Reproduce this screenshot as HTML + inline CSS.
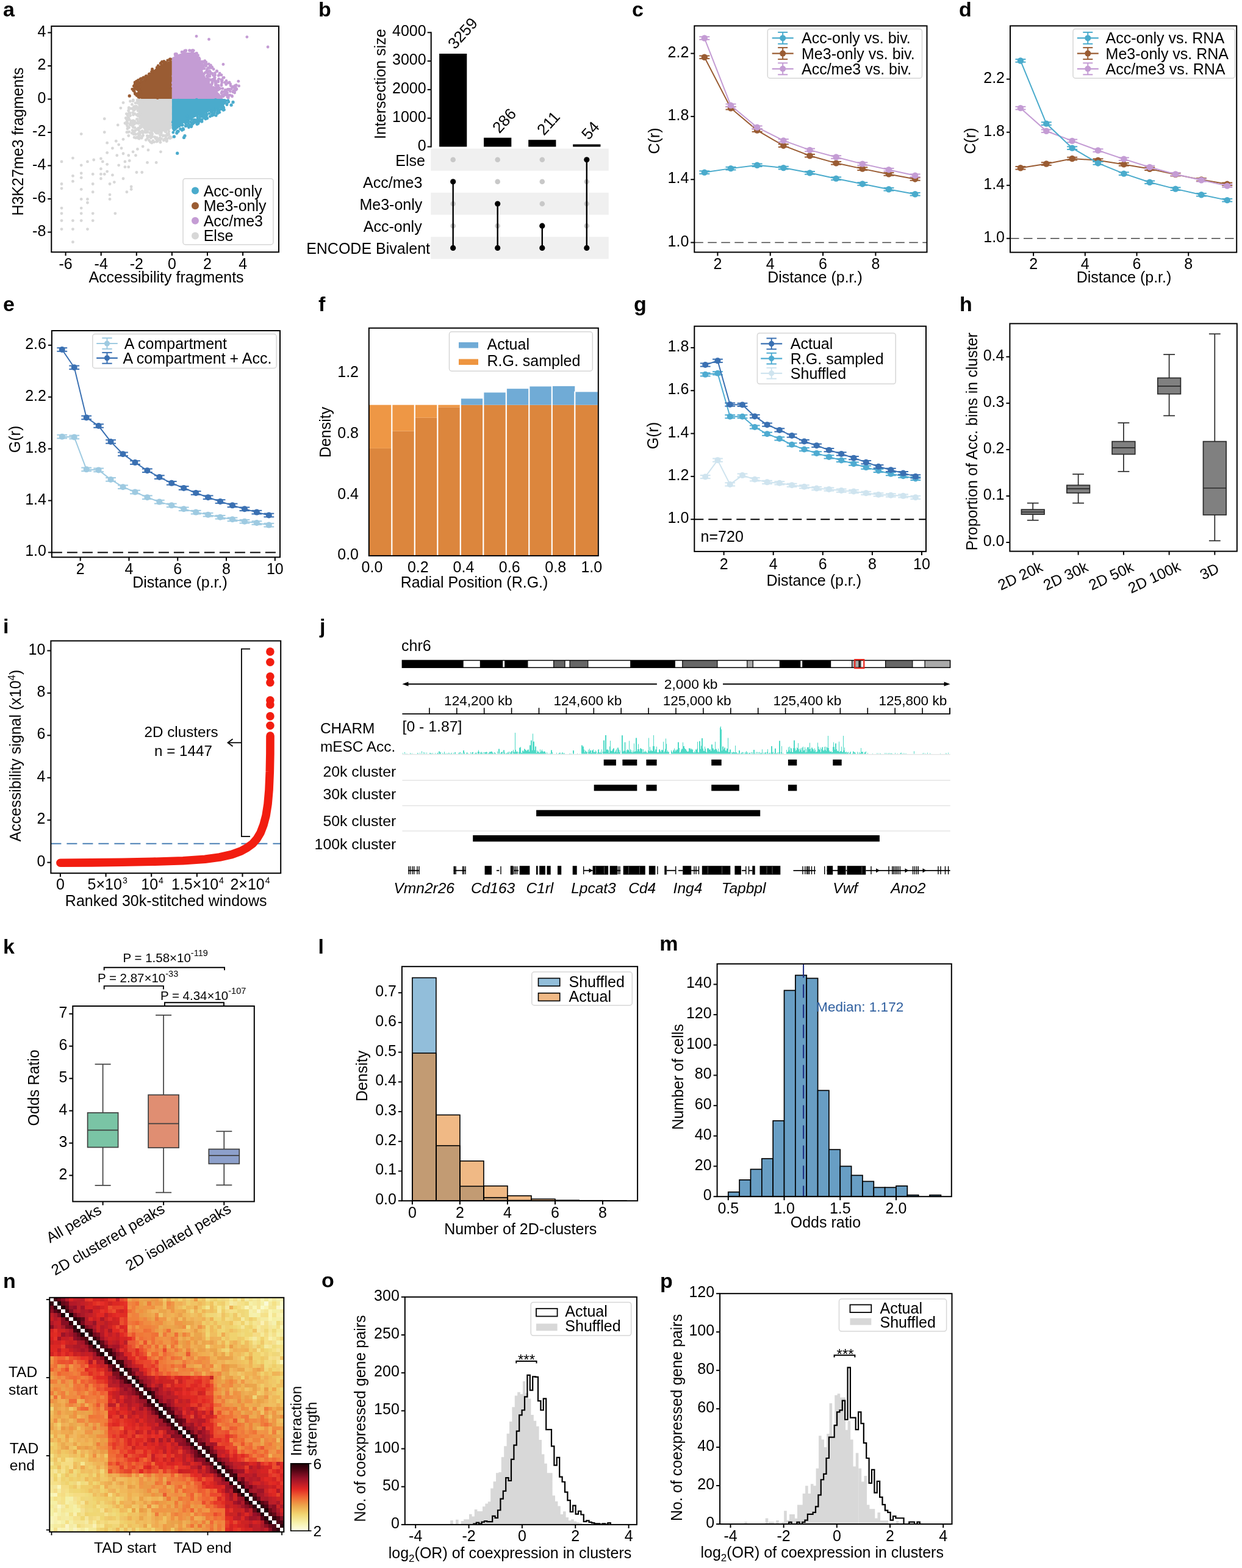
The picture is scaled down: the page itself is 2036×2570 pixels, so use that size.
<!DOCTYPE html>
<html><head><meta charset="utf-8"><title>Figure</title>
<style>
html,body{margin:0;padding:0;background:#fff;}
svg{display:block;}
text{font-family:'Liberation Sans', Arial, Helvetica, sans-serif;font-size:25px;fill:#000;}
</style></head><body>
<svg xmlns="http://www.w3.org/2000/svg" width="2036" height="2570" viewBox="0 0 2036 2570">
<rect width="2036" height="2570" fill="#fff"/>
<text x="5" y="27" style="font-size:34px;font-weight:bold">a</text>
<polygon points="281.87,161.96 226.37,161.96 226.37,180.51 227.77,201.58 236.2,212.83 258.68,217.32 275.55,214.23 281.87,210.02" fill="#d7d7d7"/>
<g fill="#d7d7d7"><circle cx="223.51" cy="201.5" r="2.4"/><circle cx="241.3" cy="222.72" r="2.4"/><circle cx="253.91" cy="225.02" r="2.4"/><circle cx="276.94" cy="225.8" r="2.4"/><circle cx="208.68" cy="206.6" r="2.4"/><circle cx="238.31" cy="214.29" r="2.4"/><circle cx="257.06" cy="231.94" r="2.4"/><circle cx="234.17" cy="218.06" r="2.4"/><circle cx="248.88" cy="215.37" r="2.4"/><circle cx="222.33" cy="220.35" r="2.4"/><circle cx="213.09" cy="185.35" r="2.4"/><circle cx="214.55" cy="200.44" r="2.4"/><circle cx="267.07" cy="222.87" r="2.4"/><circle cx="226.06" cy="187.12" r="2.4"/><circle cx="227.27" cy="220.82" r="2.4"/><circle cx="228.26" cy="210.12" r="2.4"/><circle cx="267.02" cy="221.78" r="2.4"/><circle cx="253.43" cy="224.62" r="2.4"/><circle cx="226.07" cy="181.47" r="2.4"/><circle cx="210.77" cy="192.83" r="2.4"/><circle cx="272.65" cy="229.99" r="2.4"/><circle cx="274.05" cy="219.42" r="2.4"/><circle cx="213.19" cy="204.66" r="2.4"/><circle cx="216.28" cy="218.21" r="2.4"/><circle cx="249.64" cy="219.98" r="2.4"/><circle cx="262.65" cy="229.85" r="2.4"/><circle cx="236.91" cy="216.26" r="2.4"/><circle cx="258.22" cy="231.22" r="2.4"/><circle cx="225.75" cy="177.77" r="2.4"/><circle cx="218.48" cy="188.15" r="2.4"/><circle cx="278.71" cy="223.99" r="2.4"/><circle cx="219.81" cy="180.75" r="2.4"/><circle cx="224.82" cy="224.8" r="2.4"/><circle cx="237.71" cy="214.92" r="2.4"/><circle cx="264.44" cy="216.98" r="2.4"/><circle cx="208.52" cy="198.63" r="2.4"/><circle cx="246.76" cy="218.02" r="2.4"/><circle cx="226" cy="169.2" r="2.4"/><circle cx="219.45" cy="175.7" r="2.4"/><circle cx="273.54" cy="230.92" r="2.4"/><circle cx="228.22" cy="224.44" r="2.4"/><circle cx="220.1" cy="200.43" r="2.4"/><circle cx="278.73" cy="226.76" r="2.4"/><circle cx="209.17" cy="188.11" r="2.4"/><circle cx="238.76" cy="216.94" r="2.4"/><circle cx="211.26" cy="176.51" r="2.4"/><circle cx="240.85" cy="216.96" r="2.4"/><circle cx="221.32" cy="174.37" r="2.4"/><circle cx="218.18" cy="163.96" r="2.4"/><circle cx="218.17" cy="197.58" r="2.4"/><circle cx="207.01" cy="194.51" r="2.4"/><circle cx="222.06" cy="168.81" r="2.4"/><circle cx="217.91" cy="207.18" r="2.4"/><circle cx="226.36" cy="219.19" r="2.4"/><circle cx="218.34" cy="164.62" r="2.4"/><circle cx="255.4" cy="227.36" r="2.4"/><circle cx="227.76" cy="223.7" r="2.4"/><circle cx="257.37" cy="229.41" r="2.4"/><circle cx="217.08" cy="213.59" r="2.4"/><circle cx="213.33" cy="203.29" r="2.4"/><circle cx="211.49" cy="209.12" r="2.4"/><circle cx="219.7" cy="174.86" r="2.4"/><circle cx="211.86" cy="195.76" r="2.4"/><circle cx="211.74" cy="177.79" r="2.4"/><circle cx="217.65" cy="184.62" r="2.4"/><circle cx="232.84" cy="223.9" r="2.4"/><circle cx="215.36" cy="200.52" r="2.4"/><circle cx="217.98" cy="165.61" r="2.4"/><circle cx="206.3" cy="193.37" r="2.4"/><circle cx="209.22" cy="201.63" r="2.4"/><circle cx="225.23" cy="165.16" r="2.4"/><circle cx="275.17" cy="220.7" r="2.4"/><circle cx="273.98" cy="227.79" r="2.4"/><circle cx="207.63" cy="203.7" r="2.4"/><circle cx="259.62" cy="228.18" r="2.4"/><circle cx="234.64" cy="222.12" r="2.4"/><circle cx="211.36" cy="178.65" r="2.4"/><circle cx="210.6" cy="181.4" r="2.4"/><circle cx="225.8" cy="201.63" r="2.4"/><circle cx="216.41" cy="171.18" r="2.4"/><circle cx="246.22" cy="222.47" r="2.4"/><circle cx="225.65" cy="176.66" r="2.4"/><circle cx="245.51" cy="217.61" r="2.4"/><circle cx="216.5" cy="205.58" r="2.4"/><circle cx="271.32" cy="222.63" r="2.4"/><circle cx="231.41" cy="208.84" r="2.4"/><circle cx="247.31" cy="226.17" r="2.4"/><circle cx="216.49" cy="177.94" r="2.4"/><circle cx="211.54" cy="185.25" r="2.4"/><circle cx="269.44" cy="228.29" r="2.4"/><circle cx="241.69" cy="226.64" r="2.4"/><circle cx="226.29" cy="190.2" r="2.4"/><circle cx="273.78" cy="222" r="2.4"/><circle cx="228.15" cy="227.33" r="2.4"/><circle cx="270.96" cy="215.57" r="2.4"/><circle cx="209.88" cy="193.4" r="2.4"/><circle cx="220.14" cy="225.26" r="2.4"/><circle cx="268.3" cy="230.07" r="2.4"/><circle cx="221.52" cy="175.51" r="2.4"/><circle cx="270.49" cy="222.47" r="2.4"/><circle cx="218.89" cy="180.17" r="2.4"/><circle cx="213.8" cy="177.97" r="2.4"/><circle cx="218.75" cy="216.52" r="2.4"/><circle cx="213.48" cy="165.94" r="2.4"/><circle cx="220.73" cy="198.65" r="2.4"/><circle cx="219.54" cy="203.47" r="2.4"/><circle cx="230.31" cy="217.34" r="2.4"/><circle cx="271.94" cy="216.07" r="2.4"/><circle cx="218.31" cy="208.49" r="2.4"/><circle cx="226.85" cy="212.71" r="2.4"/><circle cx="207.79" cy="199.61" r="2.4"/><circle cx="207.32" cy="186.59" r="2.4"/><circle cx="214.64" cy="198.25" r="2.4"/><circle cx="208.96" cy="211.01" r="2.4"/><circle cx="211.68" cy="216.07" r="2.4"/><circle cx="228.69" cy="215.58" r="2.4"/><circle cx="220.82" cy="186.44" r="2.4"/><circle cx="223.78" cy="175.15" r="2.4"/><circle cx="218.97" cy="198.39" r="2.4"/><circle cx="233.14" cy="214.66" r="2.4"/><circle cx="222.1" cy="178.54" r="2.4"/><circle cx="260.06" cy="228.43" r="2.4"/><circle cx="264.76" cy="227.3" r="2.4"/><circle cx="250.83" cy="230.75" r="2.4"/><circle cx="270.79" cy="227.8" r="2.4"/><circle cx="239.21" cy="229.39" r="2.4"/><circle cx="262.96" cy="221.51" r="2.4"/><circle cx="224.46" cy="176.76" r="2.4"/><circle cx="229.12" cy="210.26" r="2.4"/><circle cx="244.78" cy="223.43" r="2.4"/><circle cx="209.36" cy="189.5" r="2.4"/><circle cx="257.12" cy="225.54" r="2.4"/><circle cx="226.78" cy="210.08" r="2.4"/><circle cx="221.43" cy="213.95" r="2.4"/><circle cx="244.39" cy="230.06" r="2.4"/><circle cx="246.37" cy="232.42" r="2.4"/><circle cx="263.97" cy="218.38" r="2.4"/><circle cx="243.31" cy="224.38" r="2.4"/><circle cx="210.04" cy="216.54" r="2.4"/><circle cx="252.59" cy="232.79" r="2.4"/><circle cx="219.11" cy="219.96" r="2.4"/><circle cx="225.62" cy="188.74" r="2.4"/><circle cx="262.61" cy="221.16" r="2.4"/><circle cx="222.78" cy="226.1" r="2.4"/><circle cx="220.22" cy="203.38" r="2.4"/><circle cx="272.02" cy="226.15" r="2.4"/><circle cx="221.1" cy="209.39" r="2.4"/><circle cx="221.64" cy="214.29" r="2.4"/><circle cx="262.85" cy="233.35" r="2.4"/><circle cx="249.68" cy="223.92" r="2.4"/><circle cx="276.63" cy="220.42" r="2.4"/><circle cx="229.37" cy="221.12" r="2.4"/><circle cx="221.16" cy="219.03" r="2.4"/><circle cx="232.12" cy="226.23" r="2.4"/><circle cx="226.56" cy="226.41" r="2.4"/><circle cx="224.41" cy="195.44" r="2.4"/><circle cx="261.99" cy="226.81" r="2.4"/><circle cx="273.15" cy="231.56" r="2.4"/><circle cx="225.13" cy="163.95" r="2.4"/><circle cx="217.24" cy="201.69" r="2.4"/><circle cx="224.92" cy="211.99" r="2.4"/><circle cx="256.71" cy="232.07" r="2.4"/><circle cx="248.34" cy="233.53" r="2.4"/><circle cx="262.22" cy="225.85" r="2.4"/><circle cx="225.19" cy="195.69" r="2.4"/><circle cx="213.58" cy="189.52" r="2.4"/><circle cx="227.4" cy="219.19" r="2.4"/><circle cx="208.55" cy="196.71" r="2.4"/><circle cx="276.47" cy="218.92" r="2.4"/><circle cx="277.07" cy="164.05" r="2.4"/><circle cx="270.49" cy="163.57" r="2.4"/><circle cx="279.82" cy="166.34" r="2.4"/><circle cx="233.63" cy="165.18" r="2.4"/><circle cx="226.4" cy="164.12" r="2.4"/><circle cx="228.58" cy="165.31" r="2.4"/><circle cx="225.65" cy="168.01" r="2.4"/><circle cx="223.26" cy="174.08" r="2.4"/><circle cx="223.89" cy="188.14" r="2.4"/><circle cx="228.02" cy="188.18" r="2.4"/><circle cx="228.98" cy="185.42" r="2.4"/><circle cx="226.55" cy="188.97" r="2.4"/><circle cx="226.31" cy="199.4" r="2.4"/><circle cx="229.72" cy="206.59" r="2.4"/><circle cx="226.9" cy="202.35" r="2.4"/><circle cx="230.65" cy="207.41" r="2.4"/><circle cx="241.89" cy="210.8" r="2.4"/><circle cx="248.85" cy="218.67" r="2.4"/><circle cx="241.74" cy="215.58" r="2.4"/><circle cx="254.25" cy="216.25" r="2.4"/><circle cx="258.98" cy="218.37" r="2.4"/><circle cx="276.01" cy="211.84" r="2.4"/><circle cx="260.87" cy="215.87" r="2.4"/><circle cx="259.71" cy="213.93" r="2.4"/><circle cx="256.39" cy="218.09" r="2.4"/><circle cx="276.8" cy="215.29" r="2.4"/><circle cx="280.35" cy="176.19" r="2.4"/><circle cx="280.64" cy="186.3" r="2.4"/></g>
<polygon points="281.87,161.96 281.87,99.01 272.74,101.82 264.31,105.34 255.87,111.66 246.04,120.09 237.61,128.52 229.18,135.55 227.07,141.17 230.86,152.41 230.86,161.96" fill="#9a5c33"/>
<g fill="#9a5c33"><circle cx="230.62" cy="154.25" r="2.4"/><circle cx="249.53" cy="113.18" r="2.4"/><circle cx="245.26" cy="120.85" r="2.4"/><circle cx="222.35" cy="135.04" r="2.4"/><circle cx="225.11" cy="141.99" r="2.4"/><circle cx="229.29" cy="149.31" r="2.4"/><circle cx="235.66" cy="126.84" r="2.4"/><circle cx="221.25" cy="137.95" r="2.4"/><circle cx="228.32" cy="154.85" r="2.4"/><circle cx="229.71" cy="129.63" r="2.4"/><circle cx="225.76" cy="136.32" r="2.4"/><circle cx="221.42" cy="135.53" r="2.4"/><circle cx="264.33" cy="103.26" r="2.4"/><circle cx="231.05" cy="131.55" r="2.4"/><circle cx="232.85" cy="129.67" r="2.4"/><circle cx="223.64" cy="139.66" r="2.4"/><circle cx="263.03" cy="104.08" r="2.4"/><circle cx="269.94" cy="102.06" r="2.4"/><circle cx="279.76" cy="96.96" r="2.4"/><circle cx="226.32" cy="131.38" r="2.4"/><circle cx="220.3" cy="149.76" r="2.4"/><circle cx="224.06" cy="156.52" r="2.4"/><circle cx="223.61" cy="143.91" r="2.4"/><circle cx="221.35" cy="152.79" r="2.4"/><circle cx="274.76" cy="98.87" r="2.4"/><circle cx="226.94" cy="136.54" r="2.4"/><circle cx="278.37" cy="96.89" r="2.4"/><circle cx="226.02" cy="141.57" r="2.4"/><circle cx="221.73" cy="154.32" r="2.4"/><circle cx="225.62" cy="153.45" r="2.4"/><circle cx="221.79" cy="145.26" r="2.4"/><circle cx="228.75" cy="147.79" r="2.4"/><circle cx="225.41" cy="146.98" r="2.4"/><circle cx="268.59" cy="102.08" r="2.4"/><circle cx="229.01" cy="159.56" r="2.4"/><circle cx="221.04" cy="139.34" r="2.4"/><circle cx="257.2" cy="110.66" r="2.4"/><circle cx="265.54" cy="101.18" r="2.4"/><circle cx="221.61" cy="153.35" r="2.4"/><circle cx="230.84" cy="130.82" r="2.4"/><circle cx="222.62" cy="139.47" r="2.4"/><circle cx="239.19" cy="124.62" r="2.4"/><circle cx="227.83" cy="149.86" r="2.4"/><circle cx="226.77" cy="158.18" r="2.4"/><circle cx="223.44" cy="142.68" r="2.4"/><circle cx="263.73" cy="103.29" r="2.4"/><circle cx="218.71" cy="148.63" r="2.4"/><circle cx="223.65" cy="133.25" r="2.4"/><circle cx="229.66" cy="134.55" r="2.4"/><circle cx="229.22" cy="152.76" r="2.4"/><circle cx="227.16" cy="159.3" r="2.4"/><circle cx="227.13" cy="152.69" r="2.4"/><circle cx="222.86" cy="145.45" r="2.4"/><circle cx="228.35" cy="147.8" r="2.4"/><circle cx="216.75" cy="146.07" r="2.4"/><circle cx="226.97" cy="136.41" r="2.4"/><circle cx="271.85" cy="102.12" r="2.4"/><circle cx="231.43" cy="128.61" r="2.4"/><circle cx="244.34" cy="121.3" r="2.4"/><circle cx="220.22" cy="145.37" r="2.4"/><circle cx="234.88" cy="127.15" r="2.4"/><circle cx="221" cy="141.57" r="2.4"/><circle cx="249.96" cy="114.41" r="2.4"/><circle cx="225.27" cy="155.43" r="2.4"/><circle cx="220.8" cy="139.31" r="2.4"/><circle cx="227.12" cy="135.07" r="2.4"/><circle cx="221.1" cy="135.01" r="2.4"/><circle cx="225.91" cy="136.37" r="2.4"/><circle cx="269.06" cy="102.99" r="2.4"/><circle cx="228.83" cy="159.11" r="2.4"/><circle cx="228.26" cy="145.73" r="2.4"/><circle cx="268.87" cy="100.47" r="2.4"/><circle cx="229.96" cy="158.72" r="2.4"/><circle cx="227.38" cy="142.1" r="2.4"/><circle cx="240.69" cy="124.63" r="2.4"/><circle cx="226.99" cy="144.64" r="2.4"/><circle cx="279.36" cy="134.49" r="2.4"/><circle cx="279.84" cy="143.03" r="2.4"/><circle cx="280.49" cy="143.48" r="2.4"/><circle cx="280.09" cy="141.8" r="2.4"/><circle cx="278.48" cy="98.6" r="2.4"/><circle cx="269.25" cy="101.82" r="2.4"/><circle cx="269.04" cy="103.29" r="2.4"/><circle cx="260.03" cy="109.79" r="2.4"/><circle cx="259.2" cy="107.65" r="2.4"/><circle cx="249.23" cy="118.71" r="2.4"/><circle cx="250.05" cy="116.29" r="2.4"/><circle cx="248.51" cy="117.31" r="2.4"/><circle cx="238.05" cy="128.11" r="2.4"/><circle cx="245" cy="122.67" r="2.4"/><circle cx="238.11" cy="131.01" r="2.4"/><circle cx="236.96" cy="132.1" r="2.4"/><circle cx="225.77" cy="139.01" r="2.4"/><circle cx="230.37" cy="142.94" r="2.4"/><circle cx="229.08" cy="149.97" r="2.4"/><circle cx="229.29" cy="158.31" r="2.4"/><circle cx="231.44" cy="155.57" r="2.4"/><circle cx="255.47" cy="158.13" r="2.4"/><circle cx="258.25" cy="160.72" r="2.4"/></g>
<polygon points="281.87,161.96 281.87,94.8 289.6,89.88 300.84,86.37 318.4,85.67 326.13,94.8 330.34,107.44 333.15,118.68 338.77,129.93 345.8,138.36 352.83,146.79 361.26,155.22 365.47,161.96" fill="#c49cd4"/>
<g fill="#c49cd4"><circle cx="315.89" cy="84.62" r="2.4"/><circle cx="387.02" cy="146.68" r="2.4"/><circle cx="387.98" cy="145.98" r="2.4"/><circle cx="386.02" cy="143.83" r="2.4"/><circle cx="344.16" cy="107.95" r="2.4"/><circle cx="339.05" cy="118.1" r="2.4"/><circle cx="352.48" cy="131.88" r="2.4"/><circle cx="337.71" cy="108.26" r="2.4"/><circle cx="385.87" cy="142.55" r="2.4"/><circle cx="339.19" cy="115.36" r="2.4"/><circle cx="380.19" cy="156.91" r="2.4"/><circle cx="354.94" cy="140.8" r="2.4"/><circle cx="340.02" cy="129.83" r="2.4"/><circle cx="376.9" cy="155.87" r="2.4"/><circle cx="385.3" cy="140.5" r="2.4"/><circle cx="372.89" cy="156.02" r="2.4"/><circle cx="334.04" cy="101.61" r="2.4"/><circle cx="286.98" cy="88.74" r="2.4"/><circle cx="340.68" cy="117.9" r="2.4"/><circle cx="350.97" cy="130.58" r="2.4"/><circle cx="346.8" cy="138.99" r="2.4"/><circle cx="363.88" cy="150.05" r="2.4"/><circle cx="385" cy="144.39" r="2.4"/><circle cx="315.83" cy="82.31" r="2.4"/><circle cx="345.7" cy="111.01" r="2.4"/><circle cx="330.66" cy="107.09" r="2.4"/><circle cx="313.51" cy="83.21" r="2.4"/><circle cx="353.93" cy="134.22" r="2.4"/><circle cx="342.95" cy="116.6" r="2.4"/><circle cx="366.7" cy="157.02" r="2.4"/><circle cx="339.04" cy="129.58" r="2.4"/><circle cx="358.18" cy="123.85" r="2.4"/><circle cx="373.45" cy="135.94" r="2.4"/><circle cx="335.8" cy="99.71" r="2.4"/><circle cx="330.11" cy="105.13" r="2.4"/><circle cx="362.94" cy="140.14" r="2.4"/><circle cx="344.53" cy="130.62" r="2.4"/><circle cx="352.53" cy="133.9" r="2.4"/><circle cx="340.68" cy="124.8" r="2.4"/><circle cx="359.67" cy="122.95" r="2.4"/><circle cx="381.73" cy="150.57" r="2.4"/><circle cx="365.82" cy="158.02" r="2.4"/><circle cx="376.09" cy="134.87" r="2.4"/><circle cx="301.08" cy="85.45" r="2.4"/><circle cx="330.95" cy="107.02" r="2.4"/><circle cx="352.2" cy="127.43" r="2.4"/><circle cx="311.32" cy="82.97" r="2.4"/><circle cx="382.99" cy="150" r="2.4"/><circle cx="340.85" cy="121.04" r="2.4"/><circle cx="357.82" cy="134.01" r="2.4"/><circle cx="352.43" cy="119.62" r="2.4"/><circle cx="369.34" cy="147.31" r="2.4"/><circle cx="354.35" cy="137.83" r="2.4"/><circle cx="343.1" cy="111.48" r="2.4"/><circle cx="347.84" cy="135.65" r="2.4"/><circle cx="338.41" cy="118.71" r="2.4"/><circle cx="332.45" cy="101.02" r="2.4"/><circle cx="364.94" cy="145.09" r="2.4"/><circle cx="380.63" cy="142.69" r="2.4"/><circle cx="346.95" cy="109.72" r="2.4"/><circle cx="370.61" cy="138.43" r="2.4"/><circle cx="386.32" cy="147.62" r="2.4"/><circle cx="345.09" cy="118.64" r="2.4"/><circle cx="356.05" cy="143.88" r="2.4"/><circle cx="355.81" cy="116.9" r="2.4"/><circle cx="350.11" cy="113.45" r="2.4"/><circle cx="372.86" cy="159.03" r="2.4"/><circle cx="375.01" cy="157" r="2.4"/><circle cx="371.15" cy="150.32" r="2.4"/><circle cx="358.72" cy="129.34" r="2.4"/><circle cx="331.02" cy="104.48" r="2.4"/><circle cx="384.66" cy="152.11" r="2.4"/><circle cx="351.09" cy="129.17" r="2.4"/><circle cx="343.85" cy="125.11" r="2.4"/><circle cx="358.65" cy="146.42" r="2.4"/><circle cx="310.47" cy="82.73" r="2.4"/><circle cx="348.03" cy="120.35" r="2.4"/><circle cx="372.59" cy="156.02" r="2.4"/><circle cx="317.31" cy="82.87" r="2.4"/><circle cx="387.38" cy="145.58" r="2.4"/><circle cx="363.86" cy="135.3" r="2.4"/><circle cx="386.83" cy="140.34" r="2.4"/><circle cx="363.14" cy="132.83" r="2.4"/><circle cx="322.45" cy="87.16" r="2.4"/><circle cx="342.16" cy="104.84" r="2.4"/><circle cx="379.13" cy="145.83" r="2.4"/><circle cx="343.81" cy="122.64" r="2.4"/><circle cx="367.11" cy="155.06" r="2.4"/><circle cx="335.7" cy="103.18" r="2.4"/><circle cx="391.63" cy="140.96" r="2.4"/><circle cx="371.24" cy="155.78" r="2.4"/><circle cx="327.18" cy="96.95" r="2.4"/><circle cx="347.49" cy="137.6" r="2.4"/><circle cx="337.87" cy="101.98" r="2.4"/><circle cx="358.25" cy="146.36" r="2.4"/><circle cx="341.59" cy="111.05" r="2.4"/><circle cx="365.38" cy="150.74" r="2.4"/><circle cx="364.3" cy="131.74" r="2.4"/><circle cx="373.95" cy="147.13" r="2.4"/><circle cx="339.22" cy="124.39" r="2.4"/><circle cx="346.29" cy="131.43" r="2.4"/><circle cx="360.71" cy="145.26" r="2.4"/><circle cx="353.65" cy="143.81" r="2.4"/><circle cx="339.78" cy="113.11" r="2.4"/><circle cx="337.59" cy="118.5" r="2.4"/><circle cx="343.93" cy="116.74" r="2.4"/><circle cx="382.35" cy="150.46" r="2.4"/><circle cx="357.29" cy="147.4" r="2.4"/><circle cx="357.37" cy="132.12" r="2.4"/><circle cx="314.5" cy="84.25" r="2.4"/><circle cx="362.88" cy="130.66" r="2.4"/><circle cx="384.3" cy="149.88" r="2.4"/><circle cx="375.61" cy="146.22" r="2.4"/><circle cx="368.58" cy="135.2" r="2.4"/><circle cx="359.08" cy="143.94" r="2.4"/><circle cx="370.99" cy="132.52" r="2.4"/><circle cx="340.33" cy="129.9" r="2.4"/><circle cx="367.05" cy="127.15" r="2.4"/><circle cx="364.21" cy="156.5" r="2.4"/><circle cx="382.31" cy="143.36" r="2.4"/><circle cx="333.53" cy="108.72" r="2.4"/><circle cx="365.74" cy="127.42" r="2.4"/><circle cx="369.33" cy="153.25" r="2.4"/><circle cx="352.65" cy="123.07" r="2.4"/><circle cx="355.46" cy="148.27" r="2.4"/><circle cx="360.18" cy="120.17" r="2.4"/><circle cx="387.35" cy="139.46" r="2.4"/><circle cx="320.61" cy="87.88" r="2.4"/><circle cx="332.81" cy="107.4" r="2.4"/><circle cx="351.43" cy="124.29" r="2.4"/><circle cx="353.08" cy="136.52" r="2.4"/><circle cx="340.47" cy="128.7" r="2.4"/><circle cx="372.82" cy="156.32" r="2.4"/><circle cx="331.29" cy="109.77" r="2.4"/><circle cx="368.49" cy="149.74" r="2.4"/><circle cx="333.65" cy="107.62" r="2.4"/><circle cx="347.76" cy="110.21" r="2.4"/><circle cx="378.16" cy="140.56" r="2.4"/><circle cx="355.4" cy="141.65" r="2.4"/><circle cx="342.54" cy="130.48" r="2.4"/><circle cx="346.55" cy="111.12" r="2.4"/><circle cx="377.37" cy="149.8" r="2.4"/><circle cx="346.6" cy="120.33" r="2.4"/><circle cx="354.72" cy="134.58" r="2.4"/><circle cx="357.87" cy="140.22" r="2.4"/><circle cx="289.59" cy="88.77" r="2.4"/><circle cx="324.56" cy="90.57" r="2.4"/><circle cx="383.11" cy="148.49" r="2.4"/><circle cx="374.27" cy="147.12" r="2.4"/><circle cx="363.03" cy="138.57" r="2.4"/><circle cx="335.71" cy="105.58" r="2.4"/><circle cx="348.64" cy="132.51" r="2.4"/><circle cx="287.31" cy="90.2" r="2.4"/><circle cx="348.64" cy="130.08" r="2.4"/><circle cx="362.95" cy="152.56" r="2.4"/><circle cx="372.56" cy="152.22" r="2.4"/><circle cx="331.2" cy="110.71" r="2.4"/><circle cx="351.43" cy="128.04" r="2.4"/><circle cx="371.07" cy="155.61" r="2.4"/><circle cx="349.46" cy="123.46" r="2.4"/><circle cx="355.36" cy="116.36" r="2.4"/><circle cx="356.17" cy="140.6" r="2.4"/><circle cx="304.73" cy="82.67" r="2.4"/><circle cx="353.38" cy="139.59" r="2.4"/><circle cx="338.55" cy="105.69" r="2.4"/><circle cx="374.29" cy="160.2" r="2.4"/><circle cx="304.61" cy="83.66" r="2.4"/><circle cx="283.73" cy="124.69" r="2.4"/><circle cx="283.22" cy="135.66" r="2.4"/><circle cx="283.28" cy="141.78" r="2.4"/><circle cx="284.21" cy="137.45" r="2.4"/><circle cx="298.09" cy="85.2" r="2.4"/><circle cx="288.3" cy="88.3" r="2.4"/><circle cx="302.83" cy="83.03" r="2.4"/><circle cx="310.17" cy="88.25" r="2.4"/><circle cx="302.53" cy="84.92" r="2.4"/><circle cx="300.14" cy="86.26" r="2.4"/><circle cx="323.72" cy="91.56" r="2.4"/><circle cx="326.26" cy="94.91" r="2.4"/><circle cx="325.85" cy="95.9" r="2.4"/><circle cx="329.2" cy="101.74" r="2.4"/><circle cx="329.25" cy="100.96" r="2.4"/><circle cx="331.5" cy="112.97" r="2.4"/><circle cx="334.99" cy="112.42" r="2.4"/><circle cx="335.97" cy="119.37" r="2.4"/><circle cx="334.13" cy="121.52" r="2.4"/><circle cx="340.02" cy="127.25" r="2.4"/><circle cx="341.89" cy="134.21" r="2.4"/><circle cx="339.26" cy="131.72" r="2.4"/><circle cx="349.83" cy="143.45" r="2.4"/><circle cx="351.46" cy="146.94" r="2.4"/><circle cx="354.94" cy="148.75" r="2.4"/><circle cx="355.57" cy="147.66" r="2.4"/><circle cx="361.5" cy="160.4" r="2.4"/><circle cx="305.25" cy="160.28" r="2.4"/><circle cx="362.47" cy="159.54" r="2.4"/><circle cx="284.95" cy="159.67" r="2.4"/><circle cx="336.54" cy="159.32" r="2.4"/><circle cx="301.63" cy="159.58" r="2.4"/></g>
<polygon points="281.87,161.96 369.69,161.96 369.69,169.97 362.66,177 348.61,181.21 334.56,186.13 320.51,191.75 310.67,197.37 299.43,202.99 289.6,208.61 281.87,210.02" fill="#4aabcc"/>
<g fill="#4aabcc"><circle cx="315.88" cy="203.18" r="2.4"/><circle cx="317.98" cy="196.33" r="2.4"/><circle cx="331.12" cy="196.15" r="2.4"/><circle cx="358.19" cy="182.71" r="2.4"/><circle cx="347.72" cy="189.49" r="2.4"/><circle cx="307.4" cy="200.14" r="2.4"/><circle cx="347.3" cy="184.61" r="2.4"/><circle cx="312.47" cy="199.73" r="2.4"/><circle cx="313.63" cy="207.76" r="2.4"/><circle cx="352.65" cy="181.78" r="2.4"/><circle cx="357.2" cy="179.93" r="2.4"/><circle cx="343.01" cy="186.08" r="2.4"/><circle cx="286" cy="212.08" r="2.4"/><circle cx="355.99" cy="185.36" r="2.4"/><circle cx="313.06" cy="206.57" r="2.4"/><circle cx="308.83" cy="198.35" r="2.4"/><circle cx="326.95" cy="195.93" r="2.4"/><circle cx="356.66" cy="186.09" r="2.4"/><circle cx="318.3" cy="198.63" r="2.4"/><circle cx="349.77" cy="186.45" r="2.4"/><circle cx="322.74" cy="203.54" r="2.4"/><circle cx="297.86" cy="205.36" r="2.4"/><circle cx="363.2" cy="177.83" r="2.4"/><circle cx="338.69" cy="186.8" r="2.4"/><circle cx="325.06" cy="198.15" r="2.4"/><circle cx="350.37" cy="188.44" r="2.4"/><circle cx="334.82" cy="192.59" r="2.4"/><circle cx="359.81" cy="184.26" r="2.4"/><circle cx="327.99" cy="189.67" r="2.4"/><circle cx="317.63" cy="201.54" r="2.4"/><circle cx="332.76" cy="187.98" r="2.4"/><circle cx="323.81" cy="202.74" r="2.4"/><circle cx="326.31" cy="199.25" r="2.4"/><circle cx="295.55" cy="211.48" r="2.4"/><circle cx="319.14" cy="200.52" r="2.4"/><circle cx="327.08" cy="197.64" r="2.4"/><circle cx="344.34" cy="190.93" r="2.4"/><circle cx="316.72" cy="199.37" r="2.4"/><circle cx="354.19" cy="189.46" r="2.4"/><circle cx="338.62" cy="188.35" r="2.4"/><circle cx="336.93" cy="195.03" r="2.4"/><circle cx="292.43" cy="215.43" r="2.4"/><circle cx="323.61" cy="195.95" r="2.4"/><circle cx="334.47" cy="192.3" r="2.4"/><circle cx="360.1" cy="179.63" r="2.4"/><circle cx="332.42" cy="188.35" r="2.4"/><circle cx="347.31" cy="183.53" r="2.4"/><circle cx="323.23" cy="196.55" r="2.4"/><circle cx="347.07" cy="188.45" r="2.4"/><circle cx="328.21" cy="197.2" r="2.4"/><circle cx="283.84" cy="217.06" r="2.4"/><circle cx="366.77" cy="176.51" r="2.4"/><circle cx="306.44" cy="205.76" r="2.4"/><circle cx="285.54" cy="213.15" r="2.4"/><circle cx="339.09" cy="188.71" r="2.4"/><circle cx="284.11" cy="210.47" r="2.4"/><circle cx="314.02" cy="195.94" r="2.4"/><circle cx="327.39" cy="194.42" r="2.4"/><circle cx="285.03" cy="211.78" r="2.4"/><circle cx="305.64" cy="204.95" r="2.4"/><circle cx="314.08" cy="201.73" r="2.4"/><circle cx="332.21" cy="188.5" r="2.4"/><circle cx="374.83" cy="167.02" r="2.4"/><circle cx="290.57" cy="208.74" r="2.4"/><circle cx="373.84" cy="164.65" r="2.4"/><circle cx="366.13" cy="180.55" r="2.4"/><circle cx="287.62" cy="211.37" r="2.4"/><circle cx="351.6" cy="185.29" r="2.4"/><circle cx="363.11" cy="177.12" r="2.4"/><circle cx="331.05" cy="191.32" r="2.4"/><circle cx="371.99" cy="171.69" r="2.4"/><circle cx="300.72" cy="212.36" r="2.4"/><circle cx="338.38" cy="191.74" r="2.4"/><circle cx="323.86" cy="203.31" r="2.4"/><circle cx="323.81" cy="192.02" r="2.4"/><circle cx="310.09" cy="207.22" r="2.4"/><circle cx="298.36" cy="213.58" r="2.4"/><circle cx="334.62" cy="193.38" r="2.4"/><circle cx="349.79" cy="185.64" r="2.4"/><circle cx="286.02" cy="209.87" r="2.4"/><circle cx="299.42" cy="205.06" r="2.4"/><circle cx="322.16" cy="200.2" r="2.4"/><circle cx="311.18" cy="205.39" r="2.4"/><circle cx="320.9" cy="198.42" r="2.4"/><circle cx="367.51" cy="179.88" r="2.4"/><circle cx="309.43" cy="208.82" r="2.4"/><circle cx="309.24" cy="202.7" r="2.4"/><circle cx="314.69" cy="203.53" r="2.4"/><circle cx="336.55" cy="189.63" r="2.4"/><circle cx="290.09" cy="216.59" r="2.4"/><circle cx="292.52" cy="164.19" r="2.4"/><circle cx="322.28" cy="163.21" r="2.4"/><circle cx="353.35" cy="163.48" r="2.4"/><circle cx="369.24" cy="166.36" r="2.4"/><circle cx="370.18" cy="165.06" r="2.4"/><circle cx="365.09" cy="173.88" r="2.4"/><circle cx="365.93" cy="174.95" r="2.4"/><circle cx="353.16" cy="178.79" r="2.4"/><circle cx="350.19" cy="180.62" r="2.4"/><circle cx="354.38" cy="177.53" r="2.4"/><circle cx="337.94" cy="183.56" r="2.4"/><circle cx="349.26" cy="180.5" r="2.4"/><circle cx="345.89" cy="182.25" r="2.4"/><circle cx="334.48" cy="186.59" r="2.4"/><circle cx="332.94" cy="187.71" r="2.4"/><circle cx="327.84" cy="190.82" r="2.4"/><circle cx="318.29" cy="196.49" r="2.4"/><circle cx="319.59" cy="196.28" r="2.4"/><circle cx="304.25" cy="201.94" r="2.4"/><circle cx="304.33" cy="199.89" r="2.4"/><circle cx="306.32" cy="197.11" r="2.4"/><circle cx="293.89" cy="206.81" r="2.4"/><circle cx="297.44" cy="203.73" r="2.4"/><circle cx="288.91" cy="209.01" r="2.4"/><circle cx="283.27" cy="200.26" r="2.4"/><circle cx="284.21" cy="197.58" r="2.4"/><circle cx="283.73" cy="205.06" r="2.4"/></g>
<circle cx="101" cy="264.93" r="2.4" fill="#d7d7d7"/>
<circle cx="101" cy="301.52" r="2.4" fill="#d7d7d7"/>
<circle cx="101" cy="308.84" r="2.4" fill="#d7d7d7"/>
<circle cx="101" cy="341.04" r="2.4" fill="#d7d7d7"/>
<circle cx="101" cy="349.82" r="2.4" fill="#d7d7d7"/>
<circle cx="101" cy="361.53" r="2.4" fill="#d7d7d7"/>
<circle cx="101" cy="375.59" r="2.4" fill="#d7d7d7"/>
<circle cx="119.44" cy="259.07" r="2.4" fill="#d7d7d7"/>
<circle cx="119.44" cy="288.35" r="2.4" fill="#d7d7d7"/>
<circle cx="119.44" cy="297.13" r="2.4" fill="#d7d7d7"/>
<circle cx="119.44" cy="361.53" r="2.4" fill="#d7d7d7"/>
<circle cx="119.44" cy="375.59" r="2.4" fill="#d7d7d7"/>
<circle cx="119.44" cy="396.66" r="2.4" fill="#d7d7d7"/>
<circle cx="133.2" cy="270.78" r="2.4" fill="#d7d7d7"/>
<circle cx="133.2" cy="283.96" r="2.4" fill="#d7d7d7"/>
<circle cx="133.2" cy="291.28" r="2.4" fill="#d7d7d7"/>
<circle cx="133.2" cy="310.3" r="2.4" fill="#d7d7d7"/>
<circle cx="133.2" cy="326.41" r="2.4" fill="#d7d7d7"/>
<circle cx="133.2" cy="341.04" r="2.4" fill="#d7d7d7"/>
<circle cx="133.2" cy="349.82" r="2.4" fill="#d7d7d7"/>
<circle cx="133.2" cy="361.53" r="2.4" fill="#d7d7d7"/>
<circle cx="143.44" cy="264.93" r="2.4" fill="#d7d7d7"/>
<circle cx="143.44" cy="326.41" r="2.4" fill="#d7d7d7"/>
<circle cx="143.44" cy="332.26" r="2.4" fill="#d7d7d7"/>
<circle cx="143.44" cy="375.59" r="2.4" fill="#d7d7d7"/>
<circle cx="152.22" cy="285.42" r="2.4" fill="#d7d7d7"/>
<circle cx="152.22" cy="301.52" r="2.4" fill="#d7d7d7"/>
<circle cx="152.22" cy="314.7" r="2.4" fill="#d7d7d7"/>
<circle cx="152.22" cy="349.82" r="2.4" fill="#d7d7d7"/>
<circle cx="152.22" cy="361.53" r="2.4" fill="#d7d7d7"/>
<circle cx="165.4" cy="259.95" r="2.4" fill="#d7d7d7"/>
<circle cx="165.4" cy="276.64" r="2.4" fill="#d7d7d7"/>
<circle cx="165.4" cy="285.42" r="2.4" fill="#d7d7d7"/>
<circle cx="165.4" cy="292.74" r="2.4" fill="#d7d7d7"/>
<circle cx="171.25" cy="194.67" r="2.4" fill="#d7d7d7"/>
<circle cx="171.25" cy="216.63" r="2.4" fill="#d7d7d7"/>
<circle cx="171.25" cy="285.42" r="2.4" fill="#d7d7d7"/>
<circle cx="175.64" cy="234.19" r="2.4" fill="#d7d7d7"/>
<circle cx="175.64" cy="269.32" r="2.4" fill="#d7d7d7"/>
<circle cx="175.64" cy="281.03" r="2.4" fill="#d7d7d7"/>
<circle cx="180.04" cy="301.52" r="2.4" fill="#d7d7d7"/>
<circle cx="180.04" cy="319.09" r="2.4" fill="#d7d7d7"/>
<circle cx="180.04" cy="326.41" r="2.4" fill="#d7d7d7"/>
<circle cx="184.43" cy="242.97" r="2.4" fill="#d7d7d7"/>
<circle cx="184.43" cy="286.89" r="2.4" fill="#d7d7d7"/>
<circle cx="187.35" cy="298.59" r="2.4" fill="#d7d7d7"/>
<circle cx="188.82" cy="349.82" r="2.4" fill="#d7d7d7"/>
<circle cx="194.67" cy="270.78" r="2.4" fill="#d7d7d7"/>
<circle cx="199.06" cy="242.97" r="2.4" fill="#d7d7d7"/>
<circle cx="201.99" cy="292.74" r="2.4" fill="#d7d7d7"/>
<circle cx="204.92" cy="273.71" r="2.4" fill="#d7d7d7"/>
<circle cx="207.85" cy="314.7" r="2.4" fill="#d7d7d7"/>
<circle cx="210.77" cy="273.71" r="2.4" fill="#d7d7d7"/>
<circle cx="215.16" cy="305.91" r="2.4" fill="#d7d7d7"/>
<circle cx="215.16" cy="310.3" r="2.4" fill="#d7d7d7"/>
<circle cx="223.95" cy="282.49" r="2.4" fill="#d7d7d7"/>
<circle cx="232.73" cy="282.49" r="2.4" fill="#d7d7d7"/>
<circle cx="241.51" cy="266.39" r="2.4" fill="#d7d7d7"/>
<circle cx="256.15" cy="266.39" r="2.4" fill="#d7d7d7"/>
<circle cx="133.2" cy="219.56" r="2.4" fill="#d7d7d7"/>
<circle cx="168.33" cy="264.93" r="2.4" fill="#d7d7d7"/>
<circle cx="153.69" cy="262" r="2.4" fill="#d7d7d7"/>
<circle cx="201.99" cy="168.33" r="2.4" fill="#d7d7d7"/>
<circle cx="197.89" cy="177.11" r="2.4" fill="#d7d7d7"/>
<circle cx="204.92" cy="201.99" r="2.4" fill="#d7d7d7"/>
<circle cx="193.21" cy="204.92" r="2.4" fill="#d7d7d7"/>
<circle cx="190.28" cy="231.26" r="2.4" fill="#d7d7d7"/>
<circle cx="194.67" cy="237.12" r="2.4" fill="#d7d7d7"/>
<circle cx="201.99" cy="251.76" r="2.4" fill="#d7d7d7"/>
<circle cx="210.77" cy="254.68" r="2.4" fill="#d7d7d7"/>
<circle cx="218.09" cy="248.83" r="2.4" fill="#d7d7d7"/>
<circle cx="225.41" cy="244.44" r="2.4" fill="#d7d7d7"/>
<circle cx="234.19" cy="240.05" r="2.4" fill="#d7d7d7"/>
<circle cx="242.97" cy="245.9" r="2.4" fill="#d7d7d7"/>
<circle cx="248.83" cy="234.19" r="2.4" fill="#d7d7d7"/>
<circle cx="263.47" cy="248.83" r="2.4" fill="#d7d7d7"/>
<circle cx="272.25" cy="228.34" r="2.4" fill="#d7d7d7"/>
<circle cx="281.03" cy="225.41" r="2.4" fill="#d7d7d7"/>
<circle cx="201.99" cy="228.34" r="2.4" fill="#d7d7d7"/>
<circle cx="207.85" cy="216.63" r="2.4" fill="#d7d7d7"/>
<circle cx="210.77" cy="222.48" r="2.4" fill="#d7d7d7"/>
<circle cx="175.64" cy="250.29" r="2.4" fill="#d7d7d7"/>
<circle cx="191.74" cy="254.68" r="2.4" fill="#d7d7d7"/>
<circle cx="204.92" cy="264.93" r="2.4" fill="#d7d7d7"/>
<circle cx="212.24" cy="263.47" r="2.4" fill="#d7d7d7"/>
<circle cx="222.48" cy="254.68" r="2.4" fill="#d7d7d7"/>
<circle cx="322.01" cy="59.43" r="2.4" fill="#c49cd4"/>
<circle cx="342.51" cy="64.4" r="2.4" fill="#c49cd4"/>
<circle cx="404.86" cy="60.6" r="2.4" fill="#c49cd4"/>
<circle cx="439.11" cy="76.99" r="2.4" fill="#c49cd4"/>
<circle cx="390.81" cy="133.2" r="2.4" fill="#c49cd4"/>
<circle cx="382.03" cy="141.98" r="2.4" fill="#c49cd4"/>
<circle cx="380.56" cy="158.08" r="2.4" fill="#c49cd4"/>
<circle cx="373.24" cy="146.37" r="2.4" fill="#c49cd4"/>
<circle cx="365.93" cy="105.39" r="2.4" fill="#c49cd4"/>
<circle cx="345.43" cy="106.85" r="2.4" fill="#c49cd4"/>
<circle cx="363" cy="122.95" r="2.4" fill="#c49cd4"/>
<circle cx="377.63" cy="137.59" r="2.4" fill="#c49cd4"/>
<circle cx="382.03" cy="167.45" r="2.6" fill="#4aabcc"/>
<circle cx="379.1" cy="172.13" r="2.6" fill="#4aabcc"/>
<circle cx="371.78" cy="169.79" r="2.6" fill="#4aabcc"/>
<circle cx="363" cy="178.57" r="2.6" fill="#4aabcc"/>
<circle cx="357.14" cy="182.96" r="2.6" fill="#4aabcc"/>
<circle cx="339.58" cy="193.79" r="2.6" fill="#4aabcc"/>
<circle cx="330.8" cy="199.06" r="2.6" fill="#4aabcc"/>
<circle cx="324.94" cy="201.99" r="2.6" fill="#4aabcc"/>
<circle cx="313.82" cy="206.38" r="2.6" fill="#4aabcc"/>
<circle cx="304.45" cy="206.38" r="2.6" fill="#4aabcc"/>
<circle cx="300.06" cy="210.77" r="2.6" fill="#4aabcc"/>
<circle cx="291.28" cy="215.16" r="2.6" fill="#4aabcc"/>
<circle cx="289.81" cy="218.09" r="2.6" fill="#4aabcc"/>
<circle cx="285.42" cy="223.95" r="2.6" fill="#4aabcc"/>
<circle cx="302.99" cy="222.48" r="2.6" fill="#4aabcc"/>
<circle cx="301.52" cy="225.41" r="2.6" fill="#4aabcc"/>
<circle cx="290.69" cy="251.17" r="2.6" fill="#4aabcc"/>
<circle cx="307.38" cy="190.28" r="2.6" fill="#4aabcc"/>
<circle cx="319.09" cy="187.35" r="2.6" fill="#4aabcc"/>
<circle cx="212.24" cy="157.2" r="2.6" fill="#9a5c33"/>
<circle cx="219.56" cy="141.1" r="2.6" fill="#9a5c33"/>
<circle cx="225.41" cy="135.25" r="2.6" fill="#9a5c33"/>
<circle cx="231.26" cy="133.2" r="2.6" fill="#9a5c33"/>
<circle cx="237.7" cy="128.81" r="2.6" fill="#9a5c33"/>
<rect x="84.3" y="42.9" width="372.7" height="370.3" fill="none" stroke="#000" stroke-width="2"/>
<line x1="78.3" y1="53.5" x2="84.3" y2="53.5" stroke="#000" stroke-width="2"/>
<text x="75.3" y="59.5" text-anchor="end">4</text>
<line x1="78.3" y1="108" x2="84.3" y2="108" stroke="#000" stroke-width="2"/>
<text x="75.3" y="114" text-anchor="end">2</text>
<line x1="78.3" y1="162.5" x2="84.3" y2="162.5" stroke="#000" stroke-width="2"/>
<text x="75.3" y="168.5" text-anchor="end">0</text>
<line x1="78.3" y1="217" x2="84.3" y2="217" stroke="#000" stroke-width="2"/>
<text x="75.3" y="223" text-anchor="end">-2</text>
<line x1="78.3" y1="271.5" x2="84.3" y2="271.5" stroke="#000" stroke-width="2"/>
<text x="75.3" y="277.5" text-anchor="end">-4</text>
<line x1="78.3" y1="326" x2="84.3" y2="326" stroke="#000" stroke-width="2"/>
<text x="75.3" y="332" text-anchor="end">-6</text>
<line x1="78.3" y1="380.5" x2="84.3" y2="380.5" stroke="#000" stroke-width="2"/>
<text x="75.3" y="386.5" text-anchor="end">-8</text>
<line x1="107.6" y1="413.2" x2="107.6" y2="419.2" stroke="#000" stroke-width="2"/>
<text x="107.6" y="440.7" text-anchor="middle">-6</text>
<line x1="165.7" y1="413.2" x2="165.7" y2="419.2" stroke="#000" stroke-width="2"/>
<text x="165.7" y="440.7" text-anchor="middle">-4</text>
<line x1="223.8" y1="413.2" x2="223.8" y2="419.2" stroke="#000" stroke-width="2"/>
<text x="223.8" y="440.7" text-anchor="middle">-2</text>
<line x1="281.9" y1="413.2" x2="281.9" y2="419.2" stroke="#000" stroke-width="2"/>
<text x="281.9" y="440.7" text-anchor="middle">0</text>
<line x1="340" y1="413.2" x2="340" y2="419.2" stroke="#000" stroke-width="2"/>
<text x="340" y="440.7" text-anchor="middle">2</text>
<line x1="398.1" y1="413.2" x2="398.1" y2="419.2" stroke="#000" stroke-width="2"/>
<text x="398.1" y="440.7" text-anchor="middle">4</text>
<text x="37.5" y="232" text-anchor="middle" transform="rotate(-90 37.5 232)">H3K27me3 fragments</text>
<text x="272.5" y="463" text-anchor="middle">Accessibility fragments</text>
<rect x="300" y="292.7" width="147.9" height="108.3" rx="4" fill="#fff" fill-opacity="0.85" stroke="#d6d6d6" stroke-width="1.5"/>
<circle cx="320" cy="312.6" r="6" fill="#4aabcc"/>
<text x="333.7" y="321.6">Acc-only</text>
<circle cx="320" cy="337.2" r="6" fill="#9a5c33"/>
<text x="333.7" y="346.2">Me3-only</text>
<circle cx="320" cy="361.8" r="6" fill="#c49cd4"/>
<text x="333.7" y="370.8">Acc/me3</text>
<circle cx="320" cy="386.4" r="6" fill="#d7d7d7"/>
<text x="333.7" y="395.4">Else</text>
<text x="522" y="27" style="font-size:34px;font-weight:bold">b</text>
<line x1="706.7" y1="52.3" x2="706.7" y2="241.5" stroke="#000" stroke-width="2"/>
<line x1="700.7" y1="240.5" x2="706.7" y2="240.5" stroke="#000" stroke-width="2"/>
<text x="698.7" y="246.5" text-anchor="end">0</text>
<line x1="700.7" y1="193.7" x2="706.7" y2="193.7" stroke="#000" stroke-width="2"/>
<text x="698.7" y="199.7" text-anchor="end">1000</text>
<line x1="700.7" y1="146.9" x2="706.7" y2="146.9" stroke="#000" stroke-width="2"/>
<text x="698.7" y="152.9" text-anchor="end">2000</text>
<line x1="700.7" y1="100.1" x2="706.7" y2="100.1" stroke="#000" stroke-width="2"/>
<text x="698.7" y="106.1" text-anchor="end">3000</text>
<line x1="700.7" y1="53.3" x2="706.7" y2="53.3" stroke="#000" stroke-width="2"/>
<text x="698.7" y="59.3" text-anchor="end">4000</text>
<text x="632" y="137.7" text-anchor="middle" transform="rotate(-90 632 137.7)">Intersection size</text>
<rect x="720.1" y="87.98" width="45.2" height="152.52" fill="#000"/>
<text x="745.7" y="81.98" style="font-size:26px" transform="rotate(-48 745.7 81.98)">3259</text>
<rect x="793.1" y="225.72" width="45.2" height="14.78" fill="#000"/>
<text x="818.7" y="219.72" style="font-size:26px" transform="rotate(-48 818.7 219.72)">286</text>
<rect x="866.2" y="229.23" width="45.2" height="11.27" fill="#000"/>
<text x="891.8" y="223.23" style="font-size:26px" transform="rotate(-48 891.8 223.23)">211</text>
<rect x="939.2" y="236.57" width="45.2" height="3.93" fill="#000"/>
<text x="964.8" y="230.57" style="font-size:26px" transform="rotate(-48 964.8 230.57)">54</text>
<rect x="706.3" y="243.6" width="291.5" height="36.2" fill="#f0f0f0"/>
<rect x="706.3" y="315.8" width="291.5" height="36.2" fill="#f0f0f0"/>
<rect x="706.3" y="388.2" width="291.5" height="36.2" fill="#f0f0f0"/>
<text x="697" y="271.6" text-anchor="end">Else</text>
<text x="692.3" y="307.6" text-anchor="end">Acc/me3</text>
<text x="692.3" y="343.8" text-anchor="end">Me3-only</text>
<text x="691.7" y="380" text-anchor="end">Acc-only</text>
<text x="705" y="416.2" text-anchor="end">ENCODE Bivalent</text>
<circle cx="742.7" cy="261.8" r="4.3" fill="#c8c8c8"/>
<circle cx="742.7" cy="334" r="4.3" fill="#c8c8c8"/>
<circle cx="742.7" cy="370.2" r="4.3" fill="#c8c8c8"/>
<line x1="742.7" y1="297.8" x2="742.7" y2="406.4" stroke="#000" stroke-width="2.4"/>
<circle cx="742.7" cy="297.8" r="4.6" fill="#000"/>
<circle cx="742.7" cy="406.4" r="4.6" fill="#000"/>
<circle cx="815.7" cy="261.8" r="4.3" fill="#c8c8c8"/>
<circle cx="815.7" cy="297.8" r="4.3" fill="#c8c8c8"/>
<circle cx="815.7" cy="370.2" r="4.3" fill="#c8c8c8"/>
<line x1="815.7" y1="334" x2="815.7" y2="406.4" stroke="#000" stroke-width="2.4"/>
<circle cx="815.7" cy="334" r="4.6" fill="#000"/>
<circle cx="815.7" cy="406.4" r="4.6" fill="#000"/>
<circle cx="888.8" cy="261.8" r="4.3" fill="#c8c8c8"/>
<circle cx="888.8" cy="297.8" r="4.3" fill="#c8c8c8"/>
<circle cx="888.8" cy="334" r="4.3" fill="#c8c8c8"/>
<line x1="888.8" y1="370.2" x2="888.8" y2="406.4" stroke="#000" stroke-width="2.4"/>
<circle cx="888.8" cy="370.2" r="4.6" fill="#000"/>
<circle cx="888.8" cy="406.4" r="4.6" fill="#000"/>
<circle cx="961.8" cy="297.8" r="4.3" fill="#c8c8c8"/>
<circle cx="961.8" cy="334" r="4.3" fill="#c8c8c8"/>
<circle cx="961.8" cy="370.2" r="4.3" fill="#c8c8c8"/>
<line x1="961.8" y1="261.8" x2="961.8" y2="406.4" stroke="#000" stroke-width="2.4"/>
<circle cx="961.8" cy="261.8" r="4.6" fill="#000"/>
<circle cx="961.8" cy="406.4" r="4.6" fill="#000"/>
<text x="1036" y="27" style="font-size:34px;font-weight:bold">c</text>
<line x1="1138.3" y1="397.5" x2="1519.5" y2="397.5" stroke="#444" stroke-width="1.6" stroke-dasharray="14.5,7.5"/>
<polyline points="1154.82,282.58 1197.98,276.12 1241.15,270.7 1284.32,275.09 1327.48,283.35 1370.65,292.65 1413.82,301.43 1456.98,310.21 1500.15,318.22" fill="none" stroke="#4aabcc" stroke-width="2"/>
<line x1="1146.32" y1="280.28" x2="1163.32" y2="280.28" stroke="#4aabcc" stroke-width="2"/>
<line x1="1146.32" y1="284.88" x2="1163.32" y2="284.88" stroke="#4aabcc" stroke-width="2"/>
<circle cx="1154.82" cy="282.58" r="5.2" fill="#4aabcc"/>
<line x1="1189.48" y1="273.82" x2="1206.48" y2="273.82" stroke="#4aabcc" stroke-width="2"/>
<line x1="1189.48" y1="278.42" x2="1206.48" y2="278.42" stroke="#4aabcc" stroke-width="2"/>
<circle cx="1197.98" cy="276.12" r="5.2" fill="#4aabcc"/>
<line x1="1232.65" y1="268.4" x2="1249.65" y2="268.4" stroke="#4aabcc" stroke-width="2"/>
<line x1="1232.65" y1="273" x2="1249.65" y2="273" stroke="#4aabcc" stroke-width="2"/>
<circle cx="1241.15" cy="270.7" r="5.2" fill="#4aabcc"/>
<line x1="1275.82" y1="272.79" x2="1292.82" y2="272.79" stroke="#4aabcc" stroke-width="2"/>
<line x1="1275.82" y1="277.39" x2="1292.82" y2="277.39" stroke="#4aabcc" stroke-width="2"/>
<circle cx="1284.32" cy="275.09" r="5.2" fill="#4aabcc"/>
<line x1="1318.98" y1="281.05" x2="1335.98" y2="281.05" stroke="#4aabcc" stroke-width="2"/>
<line x1="1318.98" y1="285.65" x2="1335.98" y2="285.65" stroke="#4aabcc" stroke-width="2"/>
<circle cx="1327.48" cy="283.35" r="5.2" fill="#4aabcc"/>
<line x1="1362.15" y1="290.35" x2="1379.15" y2="290.35" stroke="#4aabcc" stroke-width="2"/>
<line x1="1362.15" y1="294.95" x2="1379.15" y2="294.95" stroke="#4aabcc" stroke-width="2"/>
<circle cx="1370.65" cy="292.65" r="5.2" fill="#4aabcc"/>
<line x1="1405.32" y1="299.13" x2="1422.32" y2="299.13" stroke="#4aabcc" stroke-width="2"/>
<line x1="1405.32" y1="303.73" x2="1422.32" y2="303.73" stroke="#4aabcc" stroke-width="2"/>
<circle cx="1413.82" cy="301.43" r="5.2" fill="#4aabcc"/>
<line x1="1448.48" y1="307.91" x2="1465.48" y2="307.91" stroke="#4aabcc" stroke-width="2"/>
<line x1="1448.48" y1="312.51" x2="1465.48" y2="312.51" stroke="#4aabcc" stroke-width="2"/>
<circle cx="1456.98" cy="310.21" r="5.2" fill="#4aabcc"/>
<line x1="1491.65" y1="315.92" x2="1508.65" y2="315.92" stroke="#4aabcc" stroke-width="2"/>
<line x1="1491.65" y1="320.52" x2="1508.65" y2="320.52" stroke="#4aabcc" stroke-width="2"/>
<circle cx="1500.15" cy="318.22" r="5.2" fill="#4aabcc"/>
<polyline points="1154.82,93.8 1197.98,177.21 1241.15,213.63 1284.32,238.68 1327.48,255.2 1370.65,267.34 1413.82,276.64 1456.98,285.42 1500.15,293.43" fill="none" stroke="#9a5c33" stroke-width="2"/>
<line x1="1146.32" y1="91.5" x2="1163.32" y2="91.5" stroke="#9a5c33" stroke-width="2"/>
<line x1="1146.32" y1="96.1" x2="1163.32" y2="96.1" stroke="#9a5c33" stroke-width="2"/>
<circle cx="1154.82" cy="93.8" r="5.2" fill="#9a5c33"/>
<line x1="1189.48" y1="174.91" x2="1206.48" y2="174.91" stroke="#9a5c33" stroke-width="2"/>
<line x1="1189.48" y1="179.51" x2="1206.48" y2="179.51" stroke="#9a5c33" stroke-width="2"/>
<circle cx="1197.98" cy="177.21" r="5.2" fill="#9a5c33"/>
<line x1="1232.65" y1="211.33" x2="1249.65" y2="211.33" stroke="#9a5c33" stroke-width="2"/>
<line x1="1232.65" y1="215.93" x2="1249.65" y2="215.93" stroke="#9a5c33" stroke-width="2"/>
<circle cx="1241.15" cy="213.63" r="5.2" fill="#9a5c33"/>
<line x1="1275.82" y1="236.38" x2="1292.82" y2="236.38" stroke="#9a5c33" stroke-width="2"/>
<line x1="1275.82" y1="240.98" x2="1292.82" y2="240.98" stroke="#9a5c33" stroke-width="2"/>
<circle cx="1284.32" cy="238.68" r="5.2" fill="#9a5c33"/>
<line x1="1318.98" y1="252.9" x2="1335.98" y2="252.9" stroke="#9a5c33" stroke-width="2"/>
<line x1="1318.98" y1="257.5" x2="1335.98" y2="257.5" stroke="#9a5c33" stroke-width="2"/>
<circle cx="1327.48" cy="255.2" r="5.2" fill="#9a5c33"/>
<line x1="1362.15" y1="265.04" x2="1379.15" y2="265.04" stroke="#9a5c33" stroke-width="2"/>
<line x1="1362.15" y1="269.64" x2="1379.15" y2="269.64" stroke="#9a5c33" stroke-width="2"/>
<circle cx="1370.65" cy="267.34" r="5.2" fill="#9a5c33"/>
<line x1="1405.32" y1="274.34" x2="1422.32" y2="274.34" stroke="#9a5c33" stroke-width="2"/>
<line x1="1405.32" y1="278.94" x2="1422.32" y2="278.94" stroke="#9a5c33" stroke-width="2"/>
<circle cx="1413.82" cy="276.64" r="5.2" fill="#9a5c33"/>
<line x1="1448.48" y1="283.12" x2="1465.48" y2="283.12" stroke="#9a5c33" stroke-width="2"/>
<line x1="1448.48" y1="287.72" x2="1465.48" y2="287.72" stroke="#9a5c33" stroke-width="2"/>
<circle cx="1456.98" cy="285.42" r="5.2" fill="#9a5c33"/>
<line x1="1491.65" y1="291.13" x2="1508.65" y2="291.13" stroke="#9a5c33" stroke-width="2"/>
<line x1="1491.65" y1="295.73" x2="1508.65" y2="295.73" stroke="#9a5c33" stroke-width="2"/>
<circle cx="1500.15" cy="293.43" r="5.2" fill="#9a5c33"/>
<polyline points="1154.82,62.55 1197.98,172.82 1241.15,208.72 1284.32,230.41 1327.48,245.91 1370.65,257.53 1413.82,268.63 1456.98,278.19 1500.15,287.74" fill="none" stroke="#c49cd4" stroke-width="2"/>
<line x1="1146.32" y1="60.25" x2="1163.32" y2="60.25" stroke="#c49cd4" stroke-width="2"/>
<line x1="1146.32" y1="64.85" x2="1163.32" y2="64.85" stroke="#c49cd4" stroke-width="2"/>
<circle cx="1154.82" cy="62.55" r="5.2" fill="#c49cd4"/>
<line x1="1189.48" y1="170.52" x2="1206.48" y2="170.52" stroke="#c49cd4" stroke-width="2"/>
<line x1="1189.48" y1="175.12" x2="1206.48" y2="175.12" stroke="#c49cd4" stroke-width="2"/>
<circle cx="1197.98" cy="172.82" r="5.2" fill="#c49cd4"/>
<line x1="1232.65" y1="206.42" x2="1249.65" y2="206.42" stroke="#c49cd4" stroke-width="2"/>
<line x1="1232.65" y1="211.02" x2="1249.65" y2="211.02" stroke="#c49cd4" stroke-width="2"/>
<circle cx="1241.15" cy="208.72" r="5.2" fill="#c49cd4"/>
<line x1="1275.82" y1="228.11" x2="1292.82" y2="228.11" stroke="#c49cd4" stroke-width="2"/>
<line x1="1275.82" y1="232.71" x2="1292.82" y2="232.71" stroke="#c49cd4" stroke-width="2"/>
<circle cx="1284.32" cy="230.41" r="5.2" fill="#c49cd4"/>
<line x1="1318.98" y1="243.61" x2="1335.98" y2="243.61" stroke="#c49cd4" stroke-width="2"/>
<line x1="1318.98" y1="248.21" x2="1335.98" y2="248.21" stroke="#c49cd4" stroke-width="2"/>
<circle cx="1327.48" cy="245.91" r="5.2" fill="#c49cd4"/>
<line x1="1362.15" y1="255.23" x2="1379.15" y2="255.23" stroke="#c49cd4" stroke-width="2"/>
<line x1="1362.15" y1="259.83" x2="1379.15" y2="259.83" stroke="#c49cd4" stroke-width="2"/>
<circle cx="1370.65" cy="257.53" r="5.2" fill="#c49cd4"/>
<line x1="1405.32" y1="266.33" x2="1422.32" y2="266.33" stroke="#c49cd4" stroke-width="2"/>
<line x1="1405.32" y1="270.93" x2="1422.32" y2="270.93" stroke="#c49cd4" stroke-width="2"/>
<circle cx="1413.82" cy="268.63" r="5.2" fill="#c49cd4"/>
<line x1="1448.48" y1="275.89" x2="1465.48" y2="275.89" stroke="#c49cd4" stroke-width="2"/>
<line x1="1448.48" y1="280.49" x2="1465.48" y2="280.49" stroke="#c49cd4" stroke-width="2"/>
<circle cx="1456.98" cy="278.19" r="5.2" fill="#c49cd4"/>
<line x1="1491.65" y1="285.44" x2="1508.65" y2="285.44" stroke="#c49cd4" stroke-width="2"/>
<line x1="1491.65" y1="290.04" x2="1508.65" y2="290.04" stroke="#c49cd4" stroke-width="2"/>
<circle cx="1500.15" cy="287.74" r="5.2" fill="#c49cd4"/>
<rect x="1138.3" y="42.4" width="381.2" height="371" fill="none" stroke="#000" stroke-width="2"/>
<line x1="1132.3" y1="397.5" x2="1138.3" y2="397.5" stroke="#000" stroke-width="2"/>
<text x="1129.3" y="403.5" text-anchor="end">1.0</text>
<line x1="1132.3" y1="294.2" x2="1138.3" y2="294.2" stroke="#000" stroke-width="2"/>
<text x="1129.3" y="300.2" text-anchor="end">1.4</text>
<line x1="1132.3" y1="190.9" x2="1138.3" y2="190.9" stroke="#000" stroke-width="2"/>
<text x="1129.3" y="196.9" text-anchor="end">1.8</text>
<line x1="1132.3" y1="87.6" x2="1138.3" y2="87.6" stroke="#000" stroke-width="2"/>
<text x="1129.3" y="93.6" text-anchor="end">2.2</text>
<line x1="1176.4" y1="413.4" x2="1176.4" y2="419.4" stroke="#000" stroke-width="2"/>
<text x="1176.4" y="440.9" text-anchor="middle">2</text>
<line x1="1262.73" y1="413.4" x2="1262.73" y2="419.4" stroke="#000" stroke-width="2"/>
<text x="1262.73" y="440.9" text-anchor="middle">4</text>
<line x1="1349.07" y1="413.4" x2="1349.07" y2="419.4" stroke="#000" stroke-width="2"/>
<text x="1349.07" y="440.9" text-anchor="middle">6</text>
<line x1="1435.4" y1="413.4" x2="1435.4" y2="419.4" stroke="#000" stroke-width="2"/>
<text x="1435.4" y="440.9" text-anchor="middle">8</text>
<rect x="1258.3" y="47.4" width="253.2" height="80.8" rx="4" fill="#fff" fill-opacity="0.85" stroke="#d6d6d6" stroke-width="1.5"/>
<line x1="1265.7" y1="62.4" x2="1300.7" y2="62.4" stroke="#4aabcc" stroke-width="2.2"/>
<line x1="1283.2" y1="52.9" x2="1283.2" y2="71.9" stroke="#4aabcc" stroke-width="2"/>
<line x1="1275.2" y1="52.9" x2="1291.2" y2="52.9" stroke="#4aabcc" stroke-width="2"/>
<line x1="1275.2" y1="71.9" x2="1291.2" y2="71.9" stroke="#4aabcc" stroke-width="2"/>
<circle cx="1283.2" cy="62.4" r="5" fill="#4aabcc"/>
<text x="1314" y="71.4">Acc-only vs. biv.</text>
<line x1="1265.7" y1="87.6" x2="1300.7" y2="87.6" stroke="#9a5c33" stroke-width="2.2"/>
<line x1="1283.2" y1="78.1" x2="1283.2" y2="97.1" stroke="#9a5c33" stroke-width="2"/>
<line x1="1275.2" y1="78.1" x2="1291.2" y2="78.1" stroke="#9a5c33" stroke-width="2"/>
<line x1="1275.2" y1="97.1" x2="1291.2" y2="97.1" stroke="#9a5c33" stroke-width="2"/>
<circle cx="1283.2" cy="87.6" r="5" fill="#9a5c33"/>
<text x="1314" y="96.6">Me3-only vs. biv.</text>
<line x1="1265.7" y1="112.8" x2="1300.7" y2="112.8" stroke="#c49cd4" stroke-width="2.2"/>
<line x1="1283.2" y1="103.3" x2="1283.2" y2="122.3" stroke="#c49cd4" stroke-width="2"/>
<line x1="1275.2" y1="103.3" x2="1291.2" y2="103.3" stroke="#c49cd4" stroke-width="2"/>
<line x1="1275.2" y1="122.3" x2="1291.2" y2="122.3" stroke="#c49cd4" stroke-width="2"/>
<circle cx="1283.2" cy="112.8" r="5" fill="#c49cd4"/>
<text x="1314" y="121.8">Acc/me3 vs. biv.</text>
<text x="1080.5" y="231" text-anchor="middle" transform="rotate(-90 1080.5 231)">C(r)</text>
<text x="1336" y="463" text-anchor="middle">Distance (p.r.)</text>
<text x="1572" y="27" style="font-size:34px;font-weight:bold">d</text>
<line x1="1656" y1="390.8" x2="2027.2" y2="390.8" stroke="#444" stroke-width="1.6" stroke-dasharray="14.5,7.5"/>
<polyline points="1672.92,275.26 1715.27,268.52 1757.62,260.03 1799.97,262.64 1842.33,269.39 1884.67,276.79 1927.03,286.14 1969.38,294.41 2011.73,301.81" fill="none" stroke="#9a5c33" stroke-width="2"/>
<line x1="1664.42" y1="272.96" x2="1681.42" y2="272.96" stroke="#9a5c33" stroke-width="2"/>
<line x1="1664.42" y1="277.56" x2="1681.42" y2="277.56" stroke="#9a5c33" stroke-width="2"/>
<circle cx="1672.92" cy="275.26" r="5.2" fill="#9a5c33"/>
<line x1="1706.77" y1="266.22" x2="1723.77" y2="266.22" stroke="#9a5c33" stroke-width="2"/>
<line x1="1706.77" y1="270.82" x2="1723.77" y2="270.82" stroke="#9a5c33" stroke-width="2"/>
<circle cx="1715.27" cy="268.52" r="5.2" fill="#9a5c33"/>
<line x1="1749.12" y1="257.73" x2="1766.12" y2="257.73" stroke="#9a5c33" stroke-width="2"/>
<line x1="1749.12" y1="262.33" x2="1766.12" y2="262.33" stroke="#9a5c33" stroke-width="2"/>
<circle cx="1757.62" cy="260.03" r="5.2" fill="#9a5c33"/>
<line x1="1791.47" y1="260.34" x2="1808.47" y2="260.34" stroke="#9a5c33" stroke-width="2"/>
<line x1="1791.47" y1="264.94" x2="1808.47" y2="264.94" stroke="#9a5c33" stroke-width="2"/>
<circle cx="1799.97" cy="262.64" r="5.2" fill="#9a5c33"/>
<line x1="1833.83" y1="267.09" x2="1850.83" y2="267.09" stroke="#9a5c33" stroke-width="2"/>
<line x1="1833.83" y1="271.69" x2="1850.83" y2="271.69" stroke="#9a5c33" stroke-width="2"/>
<circle cx="1842.33" cy="269.39" r="5.2" fill="#9a5c33"/>
<line x1="1876.17" y1="274.49" x2="1893.17" y2="274.49" stroke="#9a5c33" stroke-width="2"/>
<line x1="1876.17" y1="279.09" x2="1893.17" y2="279.09" stroke="#9a5c33" stroke-width="2"/>
<circle cx="1884.67" cy="276.79" r="5.2" fill="#9a5c33"/>
<line x1="1918.53" y1="283.84" x2="1935.53" y2="283.84" stroke="#9a5c33" stroke-width="2"/>
<line x1="1918.53" y1="288.44" x2="1935.53" y2="288.44" stroke="#9a5c33" stroke-width="2"/>
<circle cx="1927.03" cy="286.14" r="5.2" fill="#9a5c33"/>
<line x1="1960.88" y1="292.11" x2="1977.88" y2="292.11" stroke="#9a5c33" stroke-width="2"/>
<line x1="1960.88" y1="296.71" x2="1977.88" y2="296.71" stroke="#9a5c33" stroke-width="2"/>
<circle cx="1969.38" cy="294.41" r="5.2" fill="#9a5c33"/>
<line x1="2003.23" y1="299.51" x2="2020.23" y2="299.51" stroke="#9a5c33" stroke-width="2"/>
<line x1="2003.23" y1="304.11" x2="2020.23" y2="304.11" stroke="#9a5c33" stroke-width="2"/>
<circle cx="2011.73" cy="301.81" r="5.2" fill="#9a5c33"/>
<polyline points="1672.92,177.13 1715.27,214.78 1757.62,230.88 1799.97,246.54 1842.33,260.69 1884.67,273.96 1927.03,285.49 1969.38,295.28 2011.73,304.64" fill="none" stroke="#c49cd4" stroke-width="2"/>
<line x1="1664.42" y1="174.83" x2="1681.42" y2="174.83" stroke="#c49cd4" stroke-width="2"/>
<line x1="1664.42" y1="179.43" x2="1681.42" y2="179.43" stroke="#c49cd4" stroke-width="2"/>
<circle cx="1672.92" cy="177.13" r="5.2" fill="#c49cd4"/>
<line x1="1706.77" y1="212.48" x2="1723.77" y2="212.48" stroke="#c49cd4" stroke-width="2"/>
<line x1="1706.77" y1="217.08" x2="1723.77" y2="217.08" stroke="#c49cd4" stroke-width="2"/>
<circle cx="1715.27" cy="214.78" r="5.2" fill="#c49cd4"/>
<line x1="1749.12" y1="228.58" x2="1766.12" y2="228.58" stroke="#c49cd4" stroke-width="2"/>
<line x1="1749.12" y1="233.18" x2="1766.12" y2="233.18" stroke="#c49cd4" stroke-width="2"/>
<circle cx="1757.62" cy="230.88" r="5.2" fill="#c49cd4"/>
<line x1="1791.47" y1="244.24" x2="1808.47" y2="244.24" stroke="#c49cd4" stroke-width="2"/>
<line x1="1791.47" y1="248.84" x2="1808.47" y2="248.84" stroke="#c49cd4" stroke-width="2"/>
<circle cx="1799.97" cy="246.54" r="5.2" fill="#c49cd4"/>
<line x1="1833.83" y1="258.39" x2="1850.83" y2="258.39" stroke="#c49cd4" stroke-width="2"/>
<line x1="1833.83" y1="262.99" x2="1850.83" y2="262.99" stroke="#c49cd4" stroke-width="2"/>
<circle cx="1842.33" cy="260.69" r="5.2" fill="#c49cd4"/>
<line x1="1876.17" y1="271.66" x2="1893.17" y2="271.66" stroke="#c49cd4" stroke-width="2"/>
<line x1="1876.17" y1="276.26" x2="1893.17" y2="276.26" stroke="#c49cd4" stroke-width="2"/>
<circle cx="1884.67" cy="273.96" r="5.2" fill="#c49cd4"/>
<line x1="1918.53" y1="283.19" x2="1935.53" y2="283.19" stroke="#c49cd4" stroke-width="2"/>
<line x1="1918.53" y1="287.79" x2="1935.53" y2="287.79" stroke="#c49cd4" stroke-width="2"/>
<circle cx="1927.03" cy="285.49" r="5.2" fill="#c49cd4"/>
<line x1="1960.88" y1="292.98" x2="1977.88" y2="292.98" stroke="#c49cd4" stroke-width="2"/>
<line x1="1960.88" y1="297.58" x2="1977.88" y2="297.58" stroke="#c49cd4" stroke-width="2"/>
<circle cx="1969.38" cy="295.28" r="5.2" fill="#c49cd4"/>
<line x1="2003.23" y1="302.34" x2="2020.23" y2="302.34" stroke="#c49cd4" stroke-width="2"/>
<line x1="2003.23" y1="306.94" x2="2020.23" y2="306.94" stroke="#c49cd4" stroke-width="2"/>
<circle cx="2011.73" cy="304.64" r="5.2" fill="#c49cd4"/>
<polyline points="1672.92,99.46 1715.27,202.59 1757.62,242.63 1799.97,267.43 1842.33,284.62 1884.67,298.76 1927.03,309.64 1969.38,319.22 2011.73,328.14" fill="none" stroke="#4aabcc" stroke-width="2"/>
<line x1="1664.42" y1="97.16" x2="1681.42" y2="97.16" stroke="#4aabcc" stroke-width="2"/>
<line x1="1664.42" y1="101.76" x2="1681.42" y2="101.76" stroke="#4aabcc" stroke-width="2"/>
<circle cx="1672.92" cy="99.46" r="5.2" fill="#4aabcc"/>
<line x1="1706.77" y1="200.29" x2="1723.77" y2="200.29" stroke="#4aabcc" stroke-width="2"/>
<line x1="1706.77" y1="204.89" x2="1723.77" y2="204.89" stroke="#4aabcc" stroke-width="2"/>
<circle cx="1715.27" cy="202.59" r="5.2" fill="#4aabcc"/>
<line x1="1749.12" y1="240.33" x2="1766.12" y2="240.33" stroke="#4aabcc" stroke-width="2"/>
<line x1="1749.12" y1="244.93" x2="1766.12" y2="244.93" stroke="#4aabcc" stroke-width="2"/>
<circle cx="1757.62" cy="242.63" r="5.2" fill="#4aabcc"/>
<line x1="1791.47" y1="265.13" x2="1808.47" y2="265.13" stroke="#4aabcc" stroke-width="2"/>
<line x1="1791.47" y1="269.73" x2="1808.47" y2="269.73" stroke="#4aabcc" stroke-width="2"/>
<circle cx="1799.97" cy="267.43" r="5.2" fill="#4aabcc"/>
<line x1="1833.83" y1="282.32" x2="1850.83" y2="282.32" stroke="#4aabcc" stroke-width="2"/>
<line x1="1833.83" y1="286.92" x2="1850.83" y2="286.92" stroke="#4aabcc" stroke-width="2"/>
<circle cx="1842.33" cy="284.62" r="5.2" fill="#4aabcc"/>
<line x1="1876.17" y1="296.46" x2="1893.17" y2="296.46" stroke="#4aabcc" stroke-width="2"/>
<line x1="1876.17" y1="301.06" x2="1893.17" y2="301.06" stroke="#4aabcc" stroke-width="2"/>
<circle cx="1884.67" cy="298.76" r="5.2" fill="#4aabcc"/>
<line x1="1918.53" y1="307.34" x2="1935.53" y2="307.34" stroke="#4aabcc" stroke-width="2"/>
<line x1="1918.53" y1="311.94" x2="1935.53" y2="311.94" stroke="#4aabcc" stroke-width="2"/>
<circle cx="1927.03" cy="309.64" r="5.2" fill="#4aabcc"/>
<line x1="1960.88" y1="316.92" x2="1977.88" y2="316.92" stroke="#4aabcc" stroke-width="2"/>
<line x1="1960.88" y1="321.52" x2="1977.88" y2="321.52" stroke="#4aabcc" stroke-width="2"/>
<circle cx="1969.38" cy="319.22" r="5.2" fill="#4aabcc"/>
<line x1="2003.23" y1="325.84" x2="2020.23" y2="325.84" stroke="#4aabcc" stroke-width="2"/>
<line x1="2003.23" y1="330.44" x2="2020.23" y2="330.44" stroke="#4aabcc" stroke-width="2"/>
<circle cx="2011.73" cy="328.14" r="5.2" fill="#4aabcc"/>
<rect x="1656" y="42.4" width="371.2" height="371.2" fill="none" stroke="#000" stroke-width="2"/>
<line x1="1650" y1="390.8" x2="1656" y2="390.8" stroke="#000" stroke-width="2"/>
<text x="1647" y="396.8" text-anchor="end">1.0</text>
<line x1="1650" y1="303.77" x2="1656" y2="303.77" stroke="#000" stroke-width="2"/>
<text x="1647" y="309.77" text-anchor="end">1.4</text>
<line x1="1650" y1="216.73" x2="1656" y2="216.73" stroke="#000" stroke-width="2"/>
<text x="1647" y="222.73" text-anchor="end">1.8</text>
<line x1="1650" y1="129.7" x2="1656" y2="129.7" stroke="#000" stroke-width="2"/>
<text x="1647" y="135.7" text-anchor="end">2.2</text>
<line x1="1694.1" y1="413.6" x2="1694.1" y2="419.6" stroke="#000" stroke-width="2"/>
<text x="1694.1" y="441.1" text-anchor="middle">2</text>
<line x1="1778.8" y1="413.6" x2="1778.8" y2="419.6" stroke="#000" stroke-width="2"/>
<text x="1778.8" y="441.1" text-anchor="middle">4</text>
<line x1="1863.5" y1="413.6" x2="1863.5" y2="419.6" stroke="#000" stroke-width="2"/>
<text x="1863.5" y="441.1" text-anchor="middle">6</text>
<line x1="1948.2" y1="413.6" x2="1948.2" y2="419.6" stroke="#000" stroke-width="2"/>
<text x="1948.2" y="441.1" text-anchor="middle">8</text>
<rect x="1759" y="47.4" width="265.3" height="80.8" rx="4" fill="#fff" fill-opacity="0.85" stroke="#d6d6d6" stroke-width="1.5"/>
<line x1="1765.8" y1="62.4" x2="1800.8" y2="62.4" stroke="#4aabcc" stroke-width="2.2"/>
<line x1="1783.3" y1="52.9" x2="1783.3" y2="71.9" stroke="#4aabcc" stroke-width="2"/>
<line x1="1775.3" y1="52.9" x2="1791.3" y2="52.9" stroke="#4aabcc" stroke-width="2"/>
<line x1="1775.3" y1="71.9" x2="1791.3" y2="71.9" stroke="#4aabcc" stroke-width="2"/>
<circle cx="1783.3" cy="62.4" r="5" fill="#4aabcc"/>
<text x="1812.6" y="71.4">Acc-only vs. RNA</text>
<line x1="1765.8" y1="87.6" x2="1800.8" y2="87.6" stroke="#9a5c33" stroke-width="2.2"/>
<line x1="1783.3" y1="78.1" x2="1783.3" y2="97.1" stroke="#9a5c33" stroke-width="2"/>
<line x1="1775.3" y1="78.1" x2="1791.3" y2="78.1" stroke="#9a5c33" stroke-width="2"/>
<line x1="1775.3" y1="97.1" x2="1791.3" y2="97.1" stroke="#9a5c33" stroke-width="2"/>
<circle cx="1783.3" cy="87.6" r="5" fill="#9a5c33"/>
<text x="1812.6" y="96.6">Me3-only vs. RNA</text>
<line x1="1765.8" y1="112.8" x2="1800.8" y2="112.8" stroke="#c49cd4" stroke-width="2.2"/>
<line x1="1783.3" y1="103.3" x2="1783.3" y2="122.3" stroke="#c49cd4" stroke-width="2"/>
<line x1="1775.3" y1="103.3" x2="1791.3" y2="103.3" stroke="#c49cd4" stroke-width="2"/>
<line x1="1775.3" y1="122.3" x2="1791.3" y2="122.3" stroke="#c49cd4" stroke-width="2"/>
<circle cx="1783.3" cy="112.8" r="5" fill="#c49cd4"/>
<text x="1812.6" y="121.8">Acc/me3 vs. RNA</text>
<text x="1599" y="231" text-anchor="middle" transform="rotate(-90 1599 231)">C(r)</text>
<text x="1842.5" y="463" text-anchor="middle">Distance (p.r.)</text>
<text x="5" y="510" style="font-size:34px;font-weight:bold">e</text>
<line x1="84.9" y1="905.4" x2="459" y2="905.4" stroke="#000" stroke-width="2" stroke-dasharray="17,8"/>
<polyline points="101.78,715.65 121.73,716.5 141.67,769.35 161.62,770.41 181.56,785.9 201.5,798.21 221.45,806.49 241.39,815.19 261.33,822.62 281.28,828.35 301.22,834.3 321.17,839.6 341.11,843.64 361.05,847.67 381,851.28 400.94,854.67 420.88,857.01 440.83,860.62" fill="none" stroke="#9ecae1" stroke-width="2"/>
<line x1="93.38" y1="712.85" x2="110.18" y2="712.85" stroke="#9ecae1" stroke-width="2"/>
<line x1="93.38" y1="718.45" x2="110.18" y2="718.45" stroke="#9ecae1" stroke-width="2"/>
<circle cx="101.78" cy="715.65" r="5" fill="#9ecae1"/>
<line x1="113.33" y1="713.7" x2="130.13" y2="713.7" stroke="#9ecae1" stroke-width="2"/>
<line x1="113.33" y1="719.3" x2="130.13" y2="719.3" stroke="#9ecae1" stroke-width="2"/>
<circle cx="121.73" cy="716.5" r="5" fill="#9ecae1"/>
<line x1="133.27" y1="766.55" x2="150.07" y2="766.55" stroke="#9ecae1" stroke-width="2"/>
<line x1="133.27" y1="772.15" x2="150.07" y2="772.15" stroke="#9ecae1" stroke-width="2"/>
<circle cx="141.67" cy="769.35" r="5" fill="#9ecae1"/>
<line x1="153.22" y1="767.61" x2="170.02" y2="767.61" stroke="#9ecae1" stroke-width="2"/>
<line x1="153.22" y1="773.21" x2="170.02" y2="773.21" stroke="#9ecae1" stroke-width="2"/>
<circle cx="161.62" cy="770.41" r="5" fill="#9ecae1"/>
<line x1="173.16" y1="783.1" x2="189.96" y2="783.1" stroke="#9ecae1" stroke-width="2"/>
<line x1="173.16" y1="788.7" x2="189.96" y2="788.7" stroke="#9ecae1" stroke-width="2"/>
<circle cx="181.56" cy="785.9" r="5" fill="#9ecae1"/>
<line x1="193.1" y1="795.41" x2="209.9" y2="795.41" stroke="#9ecae1" stroke-width="2"/>
<line x1="193.1" y1="801.01" x2="209.9" y2="801.01" stroke="#9ecae1" stroke-width="2"/>
<circle cx="201.5" cy="798.21" r="5" fill="#9ecae1"/>
<line x1="213.05" y1="803.69" x2="229.85" y2="803.69" stroke="#9ecae1" stroke-width="2"/>
<line x1="213.05" y1="809.29" x2="229.85" y2="809.29" stroke="#9ecae1" stroke-width="2"/>
<circle cx="221.45" cy="806.49" r="5" fill="#9ecae1"/>
<line x1="232.99" y1="812.39" x2="249.79" y2="812.39" stroke="#9ecae1" stroke-width="2"/>
<line x1="232.99" y1="817.99" x2="249.79" y2="817.99" stroke="#9ecae1" stroke-width="2"/>
<circle cx="241.39" cy="815.19" r="5" fill="#9ecae1"/>
<line x1="252.93" y1="819.82" x2="269.73" y2="819.82" stroke="#9ecae1" stroke-width="2"/>
<line x1="252.93" y1="825.42" x2="269.73" y2="825.42" stroke="#9ecae1" stroke-width="2"/>
<circle cx="261.33" cy="822.62" r="5" fill="#9ecae1"/>
<line x1="272.88" y1="825.55" x2="289.68" y2="825.55" stroke="#9ecae1" stroke-width="2"/>
<line x1="272.88" y1="831.15" x2="289.68" y2="831.15" stroke="#9ecae1" stroke-width="2"/>
<circle cx="281.28" cy="828.35" r="5" fill="#9ecae1"/>
<line x1="292.82" y1="831.5" x2="309.62" y2="831.5" stroke="#9ecae1" stroke-width="2"/>
<line x1="292.82" y1="837.1" x2="309.62" y2="837.1" stroke="#9ecae1" stroke-width="2"/>
<circle cx="301.22" cy="834.3" r="5" fill="#9ecae1"/>
<line x1="312.77" y1="836.8" x2="329.57" y2="836.8" stroke="#9ecae1" stroke-width="2"/>
<line x1="312.77" y1="842.4" x2="329.57" y2="842.4" stroke="#9ecae1" stroke-width="2"/>
<circle cx="321.17" cy="839.6" r="5" fill="#9ecae1"/>
<line x1="332.71" y1="840.84" x2="349.51" y2="840.84" stroke="#9ecae1" stroke-width="2"/>
<line x1="332.71" y1="846.44" x2="349.51" y2="846.44" stroke="#9ecae1" stroke-width="2"/>
<circle cx="341.11" cy="843.64" r="5" fill="#9ecae1"/>
<line x1="352.65" y1="844.87" x2="369.45" y2="844.87" stroke="#9ecae1" stroke-width="2"/>
<line x1="352.65" y1="850.47" x2="369.45" y2="850.47" stroke="#9ecae1" stroke-width="2"/>
<circle cx="361.05" cy="847.67" r="5" fill="#9ecae1"/>
<line x1="372.6" y1="848.48" x2="389.4" y2="848.48" stroke="#9ecae1" stroke-width="2"/>
<line x1="372.6" y1="854.08" x2="389.4" y2="854.08" stroke="#9ecae1" stroke-width="2"/>
<circle cx="381" cy="851.28" r="5" fill="#9ecae1"/>
<line x1="392.54" y1="851.87" x2="409.34" y2="851.87" stroke="#9ecae1" stroke-width="2"/>
<line x1="392.54" y1="857.47" x2="409.34" y2="857.47" stroke="#9ecae1" stroke-width="2"/>
<circle cx="400.94" cy="854.67" r="5" fill="#9ecae1"/>
<line x1="412.48" y1="854.21" x2="429.28" y2="854.21" stroke="#9ecae1" stroke-width="2"/>
<line x1="412.48" y1="859.81" x2="429.28" y2="859.81" stroke="#9ecae1" stroke-width="2"/>
<circle cx="420.88" cy="857.01" r="5" fill="#9ecae1"/>
<line x1="432.43" y1="857.82" x2="449.23" y2="857.82" stroke="#9ecae1" stroke-width="2"/>
<line x1="432.43" y1="863.42" x2="449.23" y2="863.42" stroke="#9ecae1" stroke-width="2"/>
<circle cx="440.83" cy="860.62" r="5" fill="#9ecae1"/>
<polyline points="101.78,573.02 121.73,602.31 141.67,684.45 161.62,698.03 181.56,723.93 201.5,744.3 221.45,758.1 241.39,771.26 261.33,782.08 281.28,791.85 301.22,799.91 321.17,807.98 341.11,815.19 361.05,821.99 381,828.35 400.94,834.3 420.88,839.6 440.83,844.48" fill="none" stroke="#3a70b2" stroke-width="2"/>
<line x1="93.38" y1="570.22" x2="110.18" y2="570.22" stroke="#3a70b2" stroke-width="2"/>
<line x1="93.38" y1="575.82" x2="110.18" y2="575.82" stroke="#3a70b2" stroke-width="2"/>
<circle cx="101.78" cy="573.02" r="5" fill="#3a70b2"/>
<line x1="113.33" y1="599.51" x2="130.13" y2="599.51" stroke="#3a70b2" stroke-width="2"/>
<line x1="113.33" y1="605.11" x2="130.13" y2="605.11" stroke="#3a70b2" stroke-width="2"/>
<circle cx="121.73" cy="602.31" r="5" fill="#3a70b2"/>
<line x1="133.27" y1="681.65" x2="150.07" y2="681.65" stroke="#3a70b2" stroke-width="2"/>
<line x1="133.27" y1="687.25" x2="150.07" y2="687.25" stroke="#3a70b2" stroke-width="2"/>
<circle cx="141.67" cy="684.45" r="5" fill="#3a70b2"/>
<line x1="153.22" y1="695.23" x2="170.02" y2="695.23" stroke="#3a70b2" stroke-width="2"/>
<line x1="153.22" y1="700.83" x2="170.02" y2="700.83" stroke="#3a70b2" stroke-width="2"/>
<circle cx="161.62" cy="698.03" r="5" fill="#3a70b2"/>
<line x1="173.16" y1="721.13" x2="189.96" y2="721.13" stroke="#3a70b2" stroke-width="2"/>
<line x1="173.16" y1="726.73" x2="189.96" y2="726.73" stroke="#3a70b2" stroke-width="2"/>
<circle cx="181.56" cy="723.93" r="5" fill="#3a70b2"/>
<line x1="193.1" y1="741.5" x2="209.9" y2="741.5" stroke="#3a70b2" stroke-width="2"/>
<line x1="193.1" y1="747.1" x2="209.9" y2="747.1" stroke="#3a70b2" stroke-width="2"/>
<circle cx="201.5" cy="744.3" r="5" fill="#3a70b2"/>
<line x1="213.05" y1="755.3" x2="229.85" y2="755.3" stroke="#3a70b2" stroke-width="2"/>
<line x1="213.05" y1="760.9" x2="229.85" y2="760.9" stroke="#3a70b2" stroke-width="2"/>
<circle cx="221.45" cy="758.1" r="5" fill="#3a70b2"/>
<line x1="232.99" y1="768.46" x2="249.79" y2="768.46" stroke="#3a70b2" stroke-width="2"/>
<line x1="232.99" y1="774.06" x2="249.79" y2="774.06" stroke="#3a70b2" stroke-width="2"/>
<circle cx="241.39" cy="771.26" r="5" fill="#3a70b2"/>
<line x1="252.93" y1="779.28" x2="269.73" y2="779.28" stroke="#3a70b2" stroke-width="2"/>
<line x1="252.93" y1="784.88" x2="269.73" y2="784.88" stroke="#3a70b2" stroke-width="2"/>
<circle cx="261.33" cy="782.08" r="5" fill="#3a70b2"/>
<line x1="272.88" y1="789.05" x2="289.68" y2="789.05" stroke="#3a70b2" stroke-width="2"/>
<line x1="272.88" y1="794.65" x2="289.68" y2="794.65" stroke="#3a70b2" stroke-width="2"/>
<circle cx="281.28" cy="791.85" r="5" fill="#3a70b2"/>
<line x1="292.82" y1="797.11" x2="309.62" y2="797.11" stroke="#3a70b2" stroke-width="2"/>
<line x1="292.82" y1="802.71" x2="309.62" y2="802.71" stroke="#3a70b2" stroke-width="2"/>
<circle cx="301.22" cy="799.91" r="5" fill="#3a70b2"/>
<line x1="312.77" y1="805.18" x2="329.57" y2="805.18" stroke="#3a70b2" stroke-width="2"/>
<line x1="312.77" y1="810.78" x2="329.57" y2="810.78" stroke="#3a70b2" stroke-width="2"/>
<circle cx="321.17" cy="807.98" r="5" fill="#3a70b2"/>
<line x1="332.71" y1="812.39" x2="349.51" y2="812.39" stroke="#3a70b2" stroke-width="2"/>
<line x1="332.71" y1="817.99" x2="349.51" y2="817.99" stroke="#3a70b2" stroke-width="2"/>
<circle cx="341.11" cy="815.19" r="5" fill="#3a70b2"/>
<line x1="352.65" y1="819.19" x2="369.45" y2="819.19" stroke="#3a70b2" stroke-width="2"/>
<line x1="352.65" y1="824.79" x2="369.45" y2="824.79" stroke="#3a70b2" stroke-width="2"/>
<circle cx="361.05" cy="821.99" r="5" fill="#3a70b2"/>
<line x1="372.6" y1="825.55" x2="389.4" y2="825.55" stroke="#3a70b2" stroke-width="2"/>
<line x1="372.6" y1="831.15" x2="389.4" y2="831.15" stroke="#3a70b2" stroke-width="2"/>
<circle cx="381" cy="828.35" r="5" fill="#3a70b2"/>
<line x1="392.54" y1="831.5" x2="409.34" y2="831.5" stroke="#3a70b2" stroke-width="2"/>
<line x1="392.54" y1="837.1" x2="409.34" y2="837.1" stroke="#3a70b2" stroke-width="2"/>
<circle cx="400.94" cy="834.3" r="5" fill="#3a70b2"/>
<line x1="412.48" y1="836.8" x2="429.28" y2="836.8" stroke="#3a70b2" stroke-width="2"/>
<line x1="412.48" y1="842.4" x2="429.28" y2="842.4" stroke="#3a70b2" stroke-width="2"/>
<circle cx="420.88" cy="839.6" r="5" fill="#3a70b2"/>
<line x1="432.43" y1="841.68" x2="449.23" y2="841.68" stroke="#3a70b2" stroke-width="2"/>
<line x1="432.43" y1="847.28" x2="449.23" y2="847.28" stroke="#3a70b2" stroke-width="2"/>
<circle cx="440.83" cy="844.48" r="5" fill="#3a70b2"/>
<rect x="84.9" y="542" width="374.1" height="371.3" fill="none" stroke="#000" stroke-width="2"/>
<line x1="78.9" y1="905.4" x2="84.9" y2="905.4" stroke="#000" stroke-width="2"/>
<text x="75.9" y="911.4" text-anchor="end">1.0</text>
<line x1="78.9" y1="820.5" x2="84.9" y2="820.5" stroke="#000" stroke-width="2"/>
<text x="75.9" y="826.5" text-anchor="end">1.4</text>
<line x1="78.9" y1="735.6" x2="84.9" y2="735.6" stroke="#000" stroke-width="2"/>
<text x="75.9" y="741.6" text-anchor="end">1.8</text>
<line x1="78.9" y1="650.7" x2="84.9" y2="650.7" stroke="#000" stroke-width="2"/>
<text x="75.9" y="656.7" text-anchor="end">2.2</text>
<line x1="78.9" y1="565.8" x2="84.9" y2="565.8" stroke="#000" stroke-width="2"/>
<text x="75.9" y="571.8" text-anchor="end">2.6</text>
<line x1="131.7" y1="913.3" x2="131.7" y2="919.3" stroke="#000" stroke-width="2"/>
<text x="131.7" y="940.8" text-anchor="middle">2</text>
<line x1="211.47" y1="913.3" x2="211.47" y2="919.3" stroke="#000" stroke-width="2"/>
<text x="211.47" y="940.8" text-anchor="middle">4</text>
<line x1="291.25" y1="913.3" x2="291.25" y2="919.3" stroke="#000" stroke-width="2"/>
<text x="291.25" y="940.8" text-anchor="middle">6</text>
<line x1="371.02" y1="913.3" x2="371.02" y2="919.3" stroke="#000" stroke-width="2"/>
<text x="371.02" y="940.8" text-anchor="middle">8</text>
<line x1="450.8" y1="913.3" x2="450.8" y2="919.3" stroke="#000" stroke-width="2"/>
<text x="450.8" y="940.8" text-anchor="middle">10</text>
<rect x="151.8" y="547.5" width="301.4" height="56" rx="4" fill="#fff" fill-opacity="0.85" stroke="#d6d6d6" stroke-width="1.5"/>
<line x1="158.2" y1="563" x2="192.8" y2="563" stroke="#9ecae1" stroke-width="2.2"/>
<line x1="175.5" y1="554.1" x2="175.5" y2="571.9" stroke="#9ecae1" stroke-width="2"/>
<line x1="167.3" y1="554.1" x2="183.7" y2="554.1" stroke="#9ecae1" stroke-width="2"/>
<line x1="167.3" y1="571.9" x2="183.7" y2="571.9" stroke="#9ecae1" stroke-width="2"/>
<circle cx="175.5" cy="563" r="4.6" fill="#9ecae1"/>
<text x="203.8" y="572">A compartment</text>
<line x1="158.2" y1="586.8" x2="192.8" y2="586.8" stroke="#3a70b2" stroke-width="2.2"/>
<line x1="175.5" y1="577.9" x2="175.5" y2="595.7" stroke="#3a70b2" stroke-width="2"/>
<line x1="167.3" y1="577.9" x2="183.7" y2="577.9" stroke="#3a70b2" stroke-width="2"/>
<line x1="167.3" y1="595.7" x2="183.7" y2="595.7" stroke="#3a70b2" stroke-width="2"/>
<circle cx="175.5" cy="586.8" r="4.6" fill="#3a70b2"/>
<text x="201.5" y="595.8">A compartment + Acc.</text>
<text x="33" y="720" text-anchor="middle" transform="rotate(-90 33 720)">G(r)</text>
<text x="295" y="963" text-anchor="middle">Distance (p.r.)</text>
<text x="522" y="510" style="font-size:34px;font-weight:bold">f</text>
<rect x="604.8" y="734.89" width="37.5" height="176.01" fill="#dc863d"/>
<rect x="604.8" y="663.69" width="37.5" height="71.2" fill="#ee9745"/>
<rect x="642.3" y="706.72" width="37.5" height="204.18" fill="#dc863d"/>
<rect x="642.3" y="663.69" width="37.5" height="43.03" fill="#ee9745"/>
<line x1="642.3" y1="662.69" x2="642.3" y2="910.9" stroke="#fff" stroke-width="2.2"/>
<rect x="679.8" y="684.78" width="37.5" height="226.12" fill="#dc863d"/>
<rect x="679.8" y="663.69" width="37.5" height="21.09" fill="#ee9745"/>
<line x1="679.8" y1="662.69" x2="679.8" y2="910.9" stroke="#fff" stroke-width="2.2"/>
<rect x="717.3" y="667.33" width="37.5" height="243.57" fill="#dc863d"/>
<rect x="717.3" y="663.69" width="37.5" height="3.64" fill="#ee9745"/>
<line x1="717.3" y1="662.69" x2="717.3" y2="910.9" stroke="#fff" stroke-width="2.2"/>
<rect x="754.8" y="663.69" width="37.5" height="247.21" fill="#dc863d"/>
<rect x="754.8" y="653.37" width="37.5" height="10.32" fill="#70abd6"/>
<line x1="754.8" y1="652.37" x2="754.8" y2="910.9" stroke="#fff" stroke-width="2.2"/>
<rect x="792.3" y="663.69" width="37.5" height="247.21" fill="#dc863d"/>
<rect x="792.3" y="643.4" width="37.5" height="20.29" fill="#70abd6"/>
<line x1="792.3" y1="642.4" x2="792.3" y2="910.9" stroke="#fff" stroke-width="2.2"/>
<rect x="829.8" y="663.69" width="37.5" height="247.21" fill="#dc863d"/>
<rect x="829.8" y="637.17" width="37.5" height="26.53" fill="#70abd6"/>
<line x1="829.8" y1="636.17" x2="829.8" y2="910.9" stroke="#fff" stroke-width="2.2"/>
<rect x="867.3" y="663.69" width="37.5" height="247.21" fill="#dc863d"/>
<rect x="867.3" y="633.43" width="37.5" height="30.27" fill="#70abd6"/>
<line x1="867.3" y1="632.43" x2="867.3" y2="910.9" stroke="#fff" stroke-width="2.2"/>
<rect x="904.8" y="663.69" width="37.5" height="247.21" fill="#dc863d"/>
<rect x="904.8" y="632.93" width="37.5" height="30.76" fill="#70abd6"/>
<line x1="904.8" y1="631.93" x2="904.8" y2="910.9" stroke="#fff" stroke-width="2.2"/>
<rect x="942.3" y="663.69" width="37.5" height="247.21" fill="#dc863d"/>
<rect x="942.3" y="642.4" width="37.5" height="21.29" fill="#70abd6"/>
<line x1="942.3" y1="641.4" x2="942.3" y2="910.9" stroke="#fff" stroke-width="2.2"/>
<rect x="604.8" y="537.7" width="376" height="373.2" fill="none" stroke="#000" stroke-width="2"/>
<text x="588" y="917.4" text-anchor="end">0.0</text>
<text x="588" y="817.68" text-anchor="end">0.4</text>
<text x="588" y="717.96" text-anchor="end">0.8</text>
<text x="588" y="618.24" text-anchor="end">1.2</text>
<text x="610" y="938.2" text-anchor="middle">0.0</text>
<text x="685.3" y="938.2" text-anchor="middle">0.2</text>
<text x="760" y="938.2" text-anchor="middle">0.4</text>
<text x="835.2" y="938.2" text-anchor="middle">0.6</text>
<text x="910.7" y="938.2" text-anchor="middle">0.8</text>
<text x="969.8" y="938.2" text-anchor="middle">1.0</text>
<text x="542" y="708.4" text-anchor="middle" transform="rotate(-90 542 708.4)">Density</text>
<text x="777.5" y="962.5" text-anchor="middle">Radial Position (R.G.)</text>
<rect x="736.5" y="543.8" width="234.8" height="64.4" rx="4" fill="#fff" fill-opacity="0.85" stroke="#d6d6d6" stroke-width="1.5"/>
<rect x="752" y="561" width="32" height="9.5" fill="#70abd6"/>
<text x="798.5" y="572.5">Actual</text>
<rect x="752" y="588.5" width="32" height="9.5" fill="#ee9540"/>
<text x="798.5" y="600">R.G. sampled</text>
<text x="1039" y="510" style="font-size:34px;font-weight:bold">g</text>
<line x1="1138.3" y1="851.2" x2="1518" y2="851.2" stroke="#000" stroke-width="2" stroke-dasharray="15,8"/>
<polyline points="1156.19,781.58 1176.46,754.15 1196.74,793.89 1217.01,779.12 1237.29,785.8 1257.56,790.37 1277.84,791.78 1298.11,795.29 1318.39,797.75 1338.66,800.57 1358.94,801.97 1379.21,804.08 1399.49,805.49 1419.76,808.3 1440.04,810.76 1460.31,811.82 1480.59,812.87 1500.86,815.33" fill="none" stroke="#cfe4ef" stroke-width="2"/>
<line x1="1147.79" y1="778.98" x2="1164.59" y2="778.98" stroke="#cfe4ef" stroke-width="2"/>
<line x1="1147.79" y1="784.18" x2="1164.59" y2="784.18" stroke="#cfe4ef" stroke-width="2"/>
<circle cx="1156.19" cy="781.58" r="5" fill="#cfe4ef"/>
<line x1="1168.06" y1="751.55" x2="1184.86" y2="751.55" stroke="#cfe4ef" stroke-width="2"/>
<line x1="1168.06" y1="756.75" x2="1184.86" y2="756.75" stroke="#cfe4ef" stroke-width="2"/>
<circle cx="1176.46" cy="754.15" r="5" fill="#cfe4ef"/>
<line x1="1188.34" y1="791.29" x2="1205.14" y2="791.29" stroke="#cfe4ef" stroke-width="2"/>
<line x1="1188.34" y1="796.49" x2="1205.14" y2="796.49" stroke="#cfe4ef" stroke-width="2"/>
<circle cx="1196.74" cy="793.89" r="5" fill="#cfe4ef"/>
<line x1="1208.61" y1="776.52" x2="1225.41" y2="776.52" stroke="#cfe4ef" stroke-width="2"/>
<line x1="1208.61" y1="781.72" x2="1225.41" y2="781.72" stroke="#cfe4ef" stroke-width="2"/>
<circle cx="1217.01" cy="779.12" r="5" fill="#cfe4ef"/>
<line x1="1228.89" y1="783.2" x2="1245.69" y2="783.2" stroke="#cfe4ef" stroke-width="2"/>
<line x1="1228.89" y1="788.4" x2="1245.69" y2="788.4" stroke="#cfe4ef" stroke-width="2"/>
<circle cx="1237.29" cy="785.8" r="5" fill="#cfe4ef"/>
<line x1="1249.16" y1="787.77" x2="1265.96" y2="787.77" stroke="#cfe4ef" stroke-width="2"/>
<line x1="1249.16" y1="792.97" x2="1265.96" y2="792.97" stroke="#cfe4ef" stroke-width="2"/>
<circle cx="1257.56" cy="790.37" r="5" fill="#cfe4ef"/>
<line x1="1269.44" y1="789.18" x2="1286.24" y2="789.18" stroke="#cfe4ef" stroke-width="2"/>
<line x1="1269.44" y1="794.38" x2="1286.24" y2="794.38" stroke="#cfe4ef" stroke-width="2"/>
<circle cx="1277.84" cy="791.78" r="5" fill="#cfe4ef"/>
<line x1="1289.71" y1="792.69" x2="1306.51" y2="792.69" stroke="#cfe4ef" stroke-width="2"/>
<line x1="1289.71" y1="797.89" x2="1306.51" y2="797.89" stroke="#cfe4ef" stroke-width="2"/>
<circle cx="1298.11" cy="795.29" r="5" fill="#cfe4ef"/>
<line x1="1309.99" y1="795.15" x2="1326.79" y2="795.15" stroke="#cfe4ef" stroke-width="2"/>
<line x1="1309.99" y1="800.35" x2="1326.79" y2="800.35" stroke="#cfe4ef" stroke-width="2"/>
<circle cx="1318.39" cy="797.75" r="5" fill="#cfe4ef"/>
<line x1="1330.26" y1="797.97" x2="1347.06" y2="797.97" stroke="#cfe4ef" stroke-width="2"/>
<line x1="1330.26" y1="803.17" x2="1347.06" y2="803.17" stroke="#cfe4ef" stroke-width="2"/>
<circle cx="1338.66" cy="800.57" r="5" fill="#cfe4ef"/>
<line x1="1350.54" y1="799.37" x2="1367.34" y2="799.37" stroke="#cfe4ef" stroke-width="2"/>
<line x1="1350.54" y1="804.57" x2="1367.34" y2="804.57" stroke="#cfe4ef" stroke-width="2"/>
<circle cx="1358.94" cy="801.97" r="5" fill="#cfe4ef"/>
<line x1="1370.81" y1="801.48" x2="1387.61" y2="801.48" stroke="#cfe4ef" stroke-width="2"/>
<line x1="1370.81" y1="806.68" x2="1387.61" y2="806.68" stroke="#cfe4ef" stroke-width="2"/>
<circle cx="1379.21" cy="804.08" r="5" fill="#cfe4ef"/>
<line x1="1391.09" y1="802.89" x2="1407.89" y2="802.89" stroke="#cfe4ef" stroke-width="2"/>
<line x1="1391.09" y1="808.09" x2="1407.89" y2="808.09" stroke="#cfe4ef" stroke-width="2"/>
<circle cx="1399.49" cy="805.49" r="5" fill="#cfe4ef"/>
<line x1="1411.36" y1="805.7" x2="1428.16" y2="805.7" stroke="#cfe4ef" stroke-width="2"/>
<line x1="1411.36" y1="810.9" x2="1428.16" y2="810.9" stroke="#cfe4ef" stroke-width="2"/>
<circle cx="1419.76" cy="808.3" r="5" fill="#cfe4ef"/>
<line x1="1431.64" y1="808.16" x2="1448.44" y2="808.16" stroke="#cfe4ef" stroke-width="2"/>
<line x1="1431.64" y1="813.36" x2="1448.44" y2="813.36" stroke="#cfe4ef" stroke-width="2"/>
<circle cx="1440.04" cy="810.76" r="5" fill="#cfe4ef"/>
<line x1="1451.91" y1="809.22" x2="1468.71" y2="809.22" stroke="#cfe4ef" stroke-width="2"/>
<line x1="1451.91" y1="814.42" x2="1468.71" y2="814.42" stroke="#cfe4ef" stroke-width="2"/>
<circle cx="1460.31" cy="811.82" r="5" fill="#cfe4ef"/>
<line x1="1472.19" y1="810.27" x2="1488.99" y2="810.27" stroke="#cfe4ef" stroke-width="2"/>
<line x1="1472.19" y1="815.47" x2="1488.99" y2="815.47" stroke="#cfe4ef" stroke-width="2"/>
<circle cx="1480.59" cy="812.87" r="5" fill="#cfe4ef"/>
<line x1="1492.46" y1="812.73" x2="1509.26" y2="812.73" stroke="#cfe4ef" stroke-width="2"/>
<line x1="1492.46" y1="817.93" x2="1509.26" y2="817.93" stroke="#cfe4ef" stroke-width="2"/>
<circle cx="1500.86" cy="815.33" r="5" fill="#cfe4ef"/>
<polyline points="1156.19,613.85 1176.46,611.74 1196.74,682.77 1217.01,682.77 1237.29,700 1257.56,711.25 1277.84,718.99 1298.11,728.83 1318.39,736.57 1338.66,742.9 1358.94,748.88 1379.21,754.5 1399.49,760.13 1419.76,766.11 1440.04,771.38 1460.31,776.66 1480.59,780.17 1500.86,784.39" fill="none" stroke="#4eabd1" stroke-width="2"/>
<line x1="1147.79" y1="611.25" x2="1164.59" y2="611.25" stroke="#4eabd1" stroke-width="2"/>
<line x1="1147.79" y1="616.45" x2="1164.59" y2="616.45" stroke="#4eabd1" stroke-width="2"/>
<circle cx="1156.19" cy="613.85" r="5" fill="#4eabd1"/>
<line x1="1168.06" y1="609.14" x2="1184.86" y2="609.14" stroke="#4eabd1" stroke-width="2"/>
<line x1="1168.06" y1="614.34" x2="1184.86" y2="614.34" stroke="#4eabd1" stroke-width="2"/>
<circle cx="1176.46" cy="611.74" r="5" fill="#4eabd1"/>
<line x1="1188.34" y1="680.17" x2="1205.14" y2="680.17" stroke="#4eabd1" stroke-width="2"/>
<line x1="1188.34" y1="685.37" x2="1205.14" y2="685.37" stroke="#4eabd1" stroke-width="2"/>
<circle cx="1196.74" cy="682.77" r="5" fill="#4eabd1"/>
<line x1="1208.61" y1="680.17" x2="1225.41" y2="680.17" stroke="#4eabd1" stroke-width="2"/>
<line x1="1208.61" y1="685.37" x2="1225.41" y2="685.37" stroke="#4eabd1" stroke-width="2"/>
<circle cx="1217.01" cy="682.77" r="5" fill="#4eabd1"/>
<line x1="1228.89" y1="697.4" x2="1245.69" y2="697.4" stroke="#4eabd1" stroke-width="2"/>
<line x1="1228.89" y1="702.6" x2="1245.69" y2="702.6" stroke="#4eabd1" stroke-width="2"/>
<circle cx="1237.29" cy="700" r="5" fill="#4eabd1"/>
<line x1="1249.16" y1="708.65" x2="1265.96" y2="708.65" stroke="#4eabd1" stroke-width="2"/>
<line x1="1249.16" y1="713.85" x2="1265.96" y2="713.85" stroke="#4eabd1" stroke-width="2"/>
<circle cx="1257.56" cy="711.25" r="5" fill="#4eabd1"/>
<line x1="1269.44" y1="716.39" x2="1286.24" y2="716.39" stroke="#4eabd1" stroke-width="2"/>
<line x1="1269.44" y1="721.59" x2="1286.24" y2="721.59" stroke="#4eabd1" stroke-width="2"/>
<circle cx="1277.84" cy="718.99" r="5" fill="#4eabd1"/>
<line x1="1289.71" y1="726.23" x2="1306.51" y2="726.23" stroke="#4eabd1" stroke-width="2"/>
<line x1="1289.71" y1="731.43" x2="1306.51" y2="731.43" stroke="#4eabd1" stroke-width="2"/>
<circle cx="1298.11" cy="728.83" r="5" fill="#4eabd1"/>
<line x1="1309.99" y1="733.97" x2="1326.79" y2="733.97" stroke="#4eabd1" stroke-width="2"/>
<line x1="1309.99" y1="739.17" x2="1326.79" y2="739.17" stroke="#4eabd1" stroke-width="2"/>
<circle cx="1318.39" cy="736.57" r="5" fill="#4eabd1"/>
<line x1="1330.26" y1="740.3" x2="1347.06" y2="740.3" stroke="#4eabd1" stroke-width="2"/>
<line x1="1330.26" y1="745.5" x2="1347.06" y2="745.5" stroke="#4eabd1" stroke-width="2"/>
<circle cx="1338.66" cy="742.9" r="5" fill="#4eabd1"/>
<line x1="1350.54" y1="746.28" x2="1367.34" y2="746.28" stroke="#4eabd1" stroke-width="2"/>
<line x1="1350.54" y1="751.48" x2="1367.34" y2="751.48" stroke="#4eabd1" stroke-width="2"/>
<circle cx="1358.94" cy="748.88" r="5" fill="#4eabd1"/>
<line x1="1370.81" y1="751.9" x2="1387.61" y2="751.9" stroke="#4eabd1" stroke-width="2"/>
<line x1="1370.81" y1="757.1" x2="1387.61" y2="757.1" stroke="#4eabd1" stroke-width="2"/>
<circle cx="1379.21" cy="754.5" r="5" fill="#4eabd1"/>
<line x1="1391.09" y1="757.53" x2="1407.89" y2="757.53" stroke="#4eabd1" stroke-width="2"/>
<line x1="1391.09" y1="762.73" x2="1407.89" y2="762.73" stroke="#4eabd1" stroke-width="2"/>
<circle cx="1399.49" cy="760.13" r="5" fill="#4eabd1"/>
<line x1="1411.36" y1="763.51" x2="1428.16" y2="763.51" stroke="#4eabd1" stroke-width="2"/>
<line x1="1411.36" y1="768.71" x2="1428.16" y2="768.71" stroke="#4eabd1" stroke-width="2"/>
<circle cx="1419.76" cy="766.11" r="5" fill="#4eabd1"/>
<line x1="1431.64" y1="768.78" x2="1448.44" y2="768.78" stroke="#4eabd1" stroke-width="2"/>
<line x1="1431.64" y1="773.98" x2="1448.44" y2="773.98" stroke="#4eabd1" stroke-width="2"/>
<circle cx="1440.04" cy="771.38" r="5" fill="#4eabd1"/>
<line x1="1451.91" y1="774.06" x2="1468.71" y2="774.06" stroke="#4eabd1" stroke-width="2"/>
<line x1="1451.91" y1="779.26" x2="1468.71" y2="779.26" stroke="#4eabd1" stroke-width="2"/>
<circle cx="1460.31" cy="776.66" r="5" fill="#4eabd1"/>
<line x1="1472.19" y1="777.57" x2="1488.99" y2="777.57" stroke="#4eabd1" stroke-width="2"/>
<line x1="1472.19" y1="782.77" x2="1488.99" y2="782.77" stroke="#4eabd1" stroke-width="2"/>
<circle cx="1480.59" cy="780.17" r="5" fill="#4eabd1"/>
<line x1="1492.46" y1="781.79" x2="1509.26" y2="781.79" stroke="#4eabd1" stroke-width="2"/>
<line x1="1492.46" y1="786.99" x2="1509.26" y2="786.99" stroke="#4eabd1" stroke-width="2"/>
<circle cx="1500.86" cy="784.39" r="5" fill="#4eabd1"/>
<polyline points="1156.19,598.03 1176.46,591.35 1196.74,663.08 1217.01,663.43 1237.29,682.42 1257.56,696.13 1277.84,704.92 1298.11,714.07 1318.39,723.56 1338.66,730.24 1358.94,737.63 1379.21,743.95 1399.49,750.64 1419.76,757.67 1440.04,764.7 1460.31,770.33 1480.59,775.6 1500.86,780.88" fill="none" stroke="#3a70b2" stroke-width="2"/>
<line x1="1147.79" y1="595.43" x2="1164.59" y2="595.43" stroke="#3a70b2" stroke-width="2"/>
<line x1="1147.79" y1="600.63" x2="1164.59" y2="600.63" stroke="#3a70b2" stroke-width="2"/>
<circle cx="1156.19" cy="598.03" r="5" fill="#3a70b2"/>
<line x1="1168.06" y1="588.75" x2="1184.86" y2="588.75" stroke="#3a70b2" stroke-width="2"/>
<line x1="1168.06" y1="593.95" x2="1184.86" y2="593.95" stroke="#3a70b2" stroke-width="2"/>
<circle cx="1176.46" cy="591.35" r="5" fill="#3a70b2"/>
<line x1="1188.34" y1="660.48" x2="1205.14" y2="660.48" stroke="#3a70b2" stroke-width="2"/>
<line x1="1188.34" y1="665.68" x2="1205.14" y2="665.68" stroke="#3a70b2" stroke-width="2"/>
<circle cx="1196.74" cy="663.08" r="5" fill="#3a70b2"/>
<line x1="1208.61" y1="660.83" x2="1225.41" y2="660.83" stroke="#3a70b2" stroke-width="2"/>
<line x1="1208.61" y1="666.03" x2="1225.41" y2="666.03" stroke="#3a70b2" stroke-width="2"/>
<circle cx="1217.01" cy="663.43" r="5" fill="#3a70b2"/>
<line x1="1228.89" y1="679.82" x2="1245.69" y2="679.82" stroke="#3a70b2" stroke-width="2"/>
<line x1="1228.89" y1="685.02" x2="1245.69" y2="685.02" stroke="#3a70b2" stroke-width="2"/>
<circle cx="1237.29" cy="682.42" r="5" fill="#3a70b2"/>
<line x1="1249.16" y1="693.53" x2="1265.96" y2="693.53" stroke="#3a70b2" stroke-width="2"/>
<line x1="1249.16" y1="698.73" x2="1265.96" y2="698.73" stroke="#3a70b2" stroke-width="2"/>
<circle cx="1257.56" cy="696.13" r="5" fill="#3a70b2"/>
<line x1="1269.44" y1="702.32" x2="1286.24" y2="702.32" stroke="#3a70b2" stroke-width="2"/>
<line x1="1269.44" y1="707.52" x2="1286.24" y2="707.52" stroke="#3a70b2" stroke-width="2"/>
<circle cx="1277.84" cy="704.92" r="5" fill="#3a70b2"/>
<line x1="1289.71" y1="711.47" x2="1306.51" y2="711.47" stroke="#3a70b2" stroke-width="2"/>
<line x1="1289.71" y1="716.67" x2="1306.51" y2="716.67" stroke="#3a70b2" stroke-width="2"/>
<circle cx="1298.11" cy="714.07" r="5" fill="#3a70b2"/>
<line x1="1309.99" y1="720.96" x2="1326.79" y2="720.96" stroke="#3a70b2" stroke-width="2"/>
<line x1="1309.99" y1="726.16" x2="1326.79" y2="726.16" stroke="#3a70b2" stroke-width="2"/>
<circle cx="1318.39" cy="723.56" r="5" fill="#3a70b2"/>
<line x1="1330.26" y1="727.64" x2="1347.06" y2="727.64" stroke="#3a70b2" stroke-width="2"/>
<line x1="1330.26" y1="732.84" x2="1347.06" y2="732.84" stroke="#3a70b2" stroke-width="2"/>
<circle cx="1338.66" cy="730.24" r="5" fill="#3a70b2"/>
<line x1="1350.54" y1="735.03" x2="1367.34" y2="735.03" stroke="#3a70b2" stroke-width="2"/>
<line x1="1350.54" y1="740.23" x2="1367.34" y2="740.23" stroke="#3a70b2" stroke-width="2"/>
<circle cx="1358.94" cy="737.63" r="5" fill="#3a70b2"/>
<line x1="1370.81" y1="741.35" x2="1387.61" y2="741.35" stroke="#3a70b2" stroke-width="2"/>
<line x1="1370.81" y1="746.55" x2="1387.61" y2="746.55" stroke="#3a70b2" stroke-width="2"/>
<circle cx="1379.21" cy="743.95" r="5" fill="#3a70b2"/>
<line x1="1391.09" y1="748.04" x2="1407.89" y2="748.04" stroke="#3a70b2" stroke-width="2"/>
<line x1="1391.09" y1="753.24" x2="1407.89" y2="753.24" stroke="#3a70b2" stroke-width="2"/>
<circle cx="1399.49" cy="750.64" r="5" fill="#3a70b2"/>
<line x1="1411.36" y1="755.07" x2="1428.16" y2="755.07" stroke="#3a70b2" stroke-width="2"/>
<line x1="1411.36" y1="760.27" x2="1428.16" y2="760.27" stroke="#3a70b2" stroke-width="2"/>
<circle cx="1419.76" cy="757.67" r="5" fill="#3a70b2"/>
<line x1="1431.64" y1="762.1" x2="1448.44" y2="762.1" stroke="#3a70b2" stroke-width="2"/>
<line x1="1431.64" y1="767.3" x2="1448.44" y2="767.3" stroke="#3a70b2" stroke-width="2"/>
<circle cx="1440.04" cy="764.7" r="5" fill="#3a70b2"/>
<line x1="1451.91" y1="767.73" x2="1468.71" y2="767.73" stroke="#3a70b2" stroke-width="2"/>
<line x1="1451.91" y1="772.93" x2="1468.71" y2="772.93" stroke="#3a70b2" stroke-width="2"/>
<circle cx="1460.31" cy="770.33" r="5" fill="#3a70b2"/>
<line x1="1472.19" y1="773" x2="1488.99" y2="773" stroke="#3a70b2" stroke-width="2"/>
<line x1="1472.19" y1="778.2" x2="1488.99" y2="778.2" stroke="#3a70b2" stroke-width="2"/>
<circle cx="1480.59" cy="775.6" r="5" fill="#3a70b2"/>
<line x1="1492.46" y1="778.27" x2="1509.26" y2="778.27" stroke="#3a70b2" stroke-width="2"/>
<line x1="1492.46" y1="783.48" x2="1509.26" y2="783.48" stroke="#3a70b2" stroke-width="2"/>
<circle cx="1500.86" cy="780.88" r="5" fill="#3a70b2"/>
<rect x="1138.3" y="534.7" width="379.7" height="369.2" fill="none" stroke="#000" stroke-width="2"/>
<line x1="1132.3" y1="851.2" x2="1138.3" y2="851.2" stroke="#000" stroke-width="2"/>
<text x="1129.3" y="857.2" text-anchor="end">1.0</text>
<line x1="1132.3" y1="780.88" x2="1138.3" y2="780.88" stroke="#000" stroke-width="2"/>
<text x="1129.3" y="786.88" text-anchor="end">1.2</text>
<line x1="1132.3" y1="710.55" x2="1138.3" y2="710.55" stroke="#000" stroke-width="2"/>
<text x="1129.3" y="716.55" text-anchor="end">1.4</text>
<line x1="1132.3" y1="640.22" x2="1138.3" y2="640.22" stroke="#000" stroke-width="2"/>
<text x="1129.3" y="646.22" text-anchor="end">1.6</text>
<line x1="1132.3" y1="569.9" x2="1138.3" y2="569.9" stroke="#000" stroke-width="2"/>
<text x="1129.3" y="575.9" text-anchor="end">1.8</text>
<line x1="1186.6" y1="903.9" x2="1186.6" y2="909.9" stroke="#000" stroke-width="2"/>
<text x="1186.6" y="933.4" text-anchor="middle">2</text>
<line x1="1267.7" y1="903.9" x2="1267.7" y2="909.9" stroke="#000" stroke-width="2"/>
<text x="1267.7" y="933.4" text-anchor="middle">4</text>
<line x1="1348.8" y1="903.9" x2="1348.8" y2="909.9" stroke="#000" stroke-width="2"/>
<text x="1348.8" y="933.4" text-anchor="middle">6</text>
<line x1="1429.9" y1="903.9" x2="1429.9" y2="909.9" stroke="#000" stroke-width="2"/>
<text x="1429.9" y="933.4" text-anchor="middle">8</text>
<line x1="1511" y1="903.9" x2="1511" y2="909.9" stroke="#000" stroke-width="2"/>
<text x="1511" y="933.4" text-anchor="middle">10</text>
<rect x="1241.4" y="545.9" width="226.8" height="83.4" rx="4" fill="#fff" fill-opacity="0.85" stroke="#d6d6d6" stroke-width="1.5"/>
<line x1="1247.2" y1="563.4" x2="1282.2" y2="563.4" stroke="#3a70b2" stroke-width="2.2"/>
<line x1="1264.7" y1="554.5" x2="1264.7" y2="572.3" stroke="#3a70b2" stroke-width="2"/>
<line x1="1256.5" y1="554.5" x2="1272.9" y2="554.5" stroke="#3a70b2" stroke-width="2"/>
<line x1="1256.5" y1="572.3" x2="1272.9" y2="572.3" stroke="#3a70b2" stroke-width="2"/>
<circle cx="1264.7" cy="563.4" r="4.6" fill="#3a70b2"/>
<text x="1295.8" y="572.4">Actual</text>
<line x1="1247.2" y1="587.6" x2="1282.2" y2="587.6" stroke="#4eabd1" stroke-width="2.2"/>
<line x1="1264.7" y1="578.7" x2="1264.7" y2="596.5" stroke="#4eabd1" stroke-width="2"/>
<line x1="1256.5" y1="578.7" x2="1272.9" y2="578.7" stroke="#4eabd1" stroke-width="2"/>
<line x1="1256.5" y1="596.5" x2="1272.9" y2="596.5" stroke="#4eabd1" stroke-width="2"/>
<circle cx="1264.7" cy="587.6" r="4.6" fill="#4eabd1"/>
<text x="1295.8" y="596.6">R.G. sampled</text>
<line x1="1247.2" y1="611.8" x2="1282.2" y2="611.8" stroke="#cfe4ef" stroke-width="2.2"/>
<line x1="1264.7" y1="602.9" x2="1264.7" y2="620.7" stroke="#cfe4ef" stroke-width="2"/>
<line x1="1256.5" y1="602.9" x2="1272.9" y2="602.9" stroke="#cfe4ef" stroke-width="2"/>
<line x1="1256.5" y1="620.7" x2="1272.9" y2="620.7" stroke="#cfe4ef" stroke-width="2"/>
<circle cx="1264.7" cy="611.8" r="4.6" fill="#cfe4ef"/>
<text x="1295.8" y="620.8">Shuffled</text>
<text x="1148.6" y="888.4">n=720</text>
<text x="1079" y="714" text-anchor="middle" transform="rotate(-90 1079 714)">G(r)</text>
<text x="1334.3" y="959.8" text-anchor="middle">Distance (p.r.)</text>
<text x="1573" y="510" style="font-size:34px;font-weight:bold">h</text>
<rect x="1655.4" y="530.4" width="372.4" height="373.2" fill="none" stroke="#000" stroke-width="2"/>
<line x1="1649.4" y1="889" x2="1655.4" y2="889" stroke="#000" stroke-width="2"/>
<text x="1646.4" y="895" text-anchor="end">0.0</text>
<line x1="1649.4" y1="812.95" x2="1655.4" y2="812.95" stroke="#000" stroke-width="2"/>
<text x="1646.4" y="818.95" text-anchor="end">0.1</text>
<line x1="1649.4" y1="736.9" x2="1655.4" y2="736.9" stroke="#000" stroke-width="2"/>
<text x="1646.4" y="742.9" text-anchor="end">0.2</text>
<line x1="1649.4" y1="660.85" x2="1655.4" y2="660.85" stroke="#000" stroke-width="2"/>
<text x="1646.4" y="666.85" text-anchor="end">0.3</text>
<line x1="1649.4" y1="584.8" x2="1655.4" y2="584.8" stroke="#000" stroke-width="2"/>
<text x="1646.4" y="590.8" text-anchor="end">0.4</text>
<line x1="1693.2" y1="824.59" x2="1693.2" y2="835.16" stroke="#2a2a2a" stroke-width="1.7"/>
<line x1="1693.2" y1="843.07" x2="1693.2" y2="852.72" stroke="#2a2a2a" stroke-width="1.7"/>
<line x1="1683.8" y1="824.59" x2="1702.6" y2="824.59" stroke="#2a2a2a" stroke-width="1.7"/>
<line x1="1683.8" y1="852.72" x2="1702.6" y2="852.72" stroke="#2a2a2a" stroke-width="1.7"/>
<rect x="1674.4" y="835.16" width="37.6" height="7.91" fill="#808080" stroke="#2a2a2a" stroke-width="1.7"/>
<line x1="1674.4" y1="839.26" x2="1712" y2="839.26" stroke="#2a2a2a" stroke-width="1.7"/>
<line x1="1693.2" y1="903.6" x2="1693.2" y2="909.6" stroke="#000" stroke-width="2"/>
<line x1="1767.6" y1="777.21" x2="1767.6" y2="795.31" stroke="#2a2a2a" stroke-width="1.7"/>
<line x1="1767.6" y1="807.93" x2="1767.6" y2="824.59" stroke="#2a2a2a" stroke-width="1.7"/>
<line x1="1758.2" y1="777.21" x2="1777" y2="777.21" stroke="#2a2a2a" stroke-width="1.7"/>
<line x1="1758.2" y1="824.59" x2="1777" y2="824.59" stroke="#2a2a2a" stroke-width="1.7"/>
<rect x="1748.8" y="795.31" width="37.6" height="12.62" fill="#808080" stroke="#2a2a2a" stroke-width="1.7"/>
<line x1="1748.8" y1="801.16" x2="1786.4" y2="801.16" stroke="#2a2a2a" stroke-width="1.7"/>
<line x1="1767.6" y1="903.6" x2="1767.6" y2="909.6" stroke="#000" stroke-width="2"/>
<line x1="1841.9" y1="693.1" x2="1841.9" y2="723.59" stroke="#2a2a2a" stroke-width="1.7"/>
<line x1="1841.9" y1="744.5" x2="1841.9" y2="772.8" stroke="#2a2a2a" stroke-width="1.7"/>
<line x1="1832.5" y1="693.1" x2="1851.3" y2="693.1" stroke="#2a2a2a" stroke-width="1.7"/>
<line x1="1832.5" y1="772.8" x2="1851.3" y2="772.8" stroke="#2a2a2a" stroke-width="1.7"/>
<rect x="1823.1" y="723.59" width="37.6" height="20.91" fill="#808080" stroke="#2a2a2a" stroke-width="1.7"/>
<line x1="1823.1" y1="733.86" x2="1860.7" y2="733.86" stroke="#2a2a2a" stroke-width="1.7"/>
<line x1="1841.9" y1="903.6" x2="1841.9" y2="909.6" stroke="#000" stroke-width="2"/>
<line x1="1916.6" y1="581" x2="1916.6" y2="619.48" stroke="#2a2a2a" stroke-width="1.7"/>
<line x1="1916.6" y1="645.72" x2="1916.6" y2="681.38" stroke="#2a2a2a" stroke-width="1.7"/>
<line x1="1907.2" y1="581" x2="1926" y2="581" stroke="#2a2a2a" stroke-width="1.7"/>
<line x1="1907.2" y1="681.38" x2="1926" y2="681.38" stroke="#2a2a2a" stroke-width="1.7"/>
<rect x="1897.8" y="619.48" width="37.6" height="26.24" fill="#808080" stroke="#2a2a2a" stroke-width="1.7"/>
<line x1="1897.8" y1="632.79" x2="1935.4" y2="632.79" stroke="#2a2a2a" stroke-width="1.7"/>
<line x1="1916.6" y1="903.6" x2="1916.6" y2="909.6" stroke="#000" stroke-width="2"/>
<line x1="1991.3" y1="547.31" x2="1991.3" y2="723.59" stroke="#2a2a2a" stroke-width="1.7"/>
<line x1="1991.3" y1="843.9" x2="1991.3" y2="886.34" stroke="#2a2a2a" stroke-width="1.7"/>
<line x1="1981.9" y1="547.31" x2="2000.7" y2="547.31" stroke="#2a2a2a" stroke-width="1.7"/>
<line x1="1981.9" y1="886.34" x2="2000.7" y2="886.34" stroke="#2a2a2a" stroke-width="1.7"/>
<rect x="1972.5" y="723.59" width="37.6" height="120.31" fill="#808080" stroke="#2a2a2a" stroke-width="1.7"/>
<line x1="1972.5" y1="800.02" x2="2010.1" y2="800.02" stroke="#2a2a2a" stroke-width="1.7"/>
<line x1="1991.3" y1="903.6" x2="1991.3" y2="909.6" stroke="#000" stroke-width="2"/>
<text x="1640.8" y="967.9" style="font-size:24.5px" transform="rotate(-25 1640.8 967.9)">2D 20k</text>
<text x="1715.3" y="967.9" style="font-size:24.5px" transform="rotate(-25 1715.3 967.9)">2D 30k</text>
<text x="1789.8" y="967.9" style="font-size:24.5px" transform="rotate(-25 1789.8 967.9)">2D 50k</text>
<text x="1854.3" y="972.9" style="font-size:24.5px" transform="rotate(-25 1854.3 972.9)">2D 100k</text>
<text x="1972" y="951.1" style="font-size:24.5px" transform="rotate(-25 1972 951.1)">3D</text>
<text x="1602" y="723.7" text-anchor="middle" transform="rotate(-90 1602 723.7)">Proportion of Acc. bins in cluster</text>
<text x="5" y="1038" style="font-size:34px;font-weight:bold">i</text>
<line x1="83.4" y1="1382.8" x2="460.2" y2="1382.8" stroke="#4a7fb5" stroke-width="2" stroke-dasharray="17,9"/>
<polyline points="98.9,1414.2 150,1413.9 200,1413.3 250,1412.3 300,1410.8 336,1408.3 360,1405 380,1400.5 395,1395 405,1389.5 414,1383 421,1375 427,1365 432,1352 436,1337 439,1318 441,1295 442.3,1265 442.9,1235 443,1206" fill="none" stroke="#f21d10" stroke-width="13.6" stroke-linejoin="round" stroke-linecap="round"/>
<circle cx="442.9" cy="1068.1" r="6.8" fill="#f21d10"/>
<circle cx="442.9" cy="1085.3" r="6.8" fill="#f21d10"/>
<circle cx="442.9" cy="1108.8" r="6.8" fill="#f21d10"/>
<circle cx="442.9" cy="1118.7" r="6.8" fill="#f21d10"/>
<circle cx="442.9" cy="1147.7" r="6.8" fill="#f21d10"/>
<circle cx="442.9" cy="1154.9" r="6.8" fill="#f21d10"/>
<circle cx="442.9" cy="1173.9" r="6.8" fill="#f21d10"/>
<circle cx="442.9" cy="1189.3" r="6.8" fill="#f21d10"/>
<rect x="83.4" y="1050.4" width="376.8" height="380.8" fill="none" stroke="#000" stroke-width="2"/>
<line x1="77.4" y1="1413.6" x2="83.4" y2="1413.6" stroke="#000" stroke-width="2"/>
<text x="74.4" y="1419.6" text-anchor="end">0</text>
<line x1="77.4" y1="1344.18" x2="83.4" y2="1344.18" stroke="#000" stroke-width="2"/>
<text x="74.4" y="1350.18" text-anchor="end">2</text>
<line x1="77.4" y1="1274.76" x2="83.4" y2="1274.76" stroke="#000" stroke-width="2"/>
<text x="74.4" y="1280.76" text-anchor="end">4</text>
<line x1="77.4" y1="1205.34" x2="83.4" y2="1205.34" stroke="#000" stroke-width="2"/>
<text x="74.4" y="1211.34" text-anchor="end">6</text>
<line x1="77.4" y1="1135.92" x2="83.4" y2="1135.92" stroke="#000" stroke-width="2"/>
<text x="74.4" y="1141.92" text-anchor="end">8</text>
<line x1="77.4" y1="1066.5" x2="83.4" y2="1066.5" stroke="#000" stroke-width="2"/>
<text x="74.4" y="1072.5" text-anchor="end">10</text>
<line x1="98.9" y1="1431.2" x2="98.9" y2="1437.2" stroke="#000" stroke-width="2"/>
<line x1="173.55" y1="1431.2" x2="173.55" y2="1437.2" stroke="#000" stroke-width="2"/>
<line x1="248.2" y1="1431.2" x2="248.2" y2="1437.2" stroke="#000" stroke-width="2"/>
<line x1="322.85" y1="1431.2" x2="322.85" y2="1437.2" stroke="#000" stroke-width="2"/>
<line x1="397.5" y1="1431.2" x2="397.5" y2="1437.2" stroke="#000" stroke-width="2"/>
<text x="98.9" y="1458.3" text-anchor="middle">0</text>
<text x="143.6" y="1458.3">5×10<tspan dx="1" dy="-10" style="font-size:14px">3</tspan></text>
<text x="231.3" y="1458.3">10<tspan dx="1" dy="-10" style="font-size:14px">4</tspan></text>
<text x="280.9" y="1458.3">1.5×10<tspan dx="1" dy="-10" style="font-size:14px">4</tspan></text>
<text x="377.4" y="1458.3">2×10<tspan dx="1" dy="-10" style="font-size:14px">4</tspan></text>
<line x1="395.9" y1="1063.6" x2="395.9" y2="1371" stroke="#000" stroke-width="1.8"/>
<line x1="395" y1="1063.6" x2="410" y2="1063.6" stroke="#000" stroke-width="1.8"/>
<line x1="395" y1="1371" x2="410" y2="1371" stroke="#000" stroke-width="1.8"/>
<line x1="373.5" y1="1217.3" x2="395.9" y2="1217.3" stroke="#000" stroke-width="1.8"/>
<polyline points="381.5,1211.3 373.5,1217.3 381.5,1223.3" fill="none" stroke="#000" stroke-width="1.8"/>
<text x="297.1" y="1208.4" text-anchor="middle" style="font-size:24.2px">2D clusters</text>
<text x="300.5" y="1238.6" text-anchor="middle" style="font-size:24.2px">n = 1447</text>
<text x="33.5" y="1238.5" text-anchor="middle" transform="rotate(-90 33.5 1238.5)">Accessibility signal (x10<tspan dy="-9" style="font-size:17px">4</tspan><tspan dy="9">)</tspan></text>
<text x="272.2" y="1484.5" text-anchor="middle">Ranked 30k-stitched windows</text>
<text x="524" y="1038" style="font-size:34px;font-weight:bold">j</text>
<text x="658" y="1066.7">chr6</text>
<rect x="659.4" y="1082.4" width="99.7" height="11.8" fill="#000"/>
<rect x="759.1" y="1082.4" width="28.3" height="11.8" fill="#fff"/>
<rect x="787.4" y="1082.4" width="36.3" height="11.8" fill="#000"/>
<rect x="823.7" y="1082.4" width="4.1" height="11.8" fill="#fff"/>
<rect x="827.8" y="1082.4" width="37.1" height="11.8" fill="#000"/>
<rect x="864.9" y="1082.4" width="42.8" height="11.8" fill="#fff"/>
<rect x="907.7" y="1082.4" width="18.3" height="11.8" fill="#666"/>
<rect x="926" y="1082.4" width="8.1" height="11.8" fill="#fff"/>
<rect x="934.1" y="1082.4" width="29.7" height="11.8" fill="#666"/>
<rect x="963.8" y="1082.4" width="70" height="11.8" fill="#fff"/>
<rect x="1033.8" y="1082.4" width="72.5" height="11.8" fill="#000"/>
<rect x="1106.3" y="1082.4" width="12.5" height="11.8" fill="#fff"/>
<rect x="1118.8" y="1082.4" width="57.1" height="11.8" fill="#666"/>
<rect x="1175.9" y="1082.4" width="48.9" height="11.8" fill="#fff"/>
<rect x="1224.8" y="1082.4" width="9.5" height="11.8" fill="#aaa"/>
<rect x="1234.3" y="1082.4" width="44.1" height="11.8" fill="#fff"/>
<rect x="1278.4" y="1082.4" width="33.3" height="11.8" fill="#000"/>
<rect x="1311.7" y="1082.4" width="4.1" height="11.8" fill="#fff"/>
<rect x="1315.8" y="1082.4" width="45.8" height="11.8" fill="#000"/>
<rect x="1361.6" y="1082.4" width="35" height="11.8" fill="#fff"/>
<rect x="1396.6" y="1082.4" width="14.3" height="11.8" fill="#aaa"/>
<rect x="1410.9" y="1082.4" width="40.7" height="11.8" fill="#fff"/>
<rect x="1451.6" y="1082.4" width="44.2" height="11.8" fill="#666"/>
<rect x="1495.8" y="1082.4" width="20.3" height="11.8" fill="#fff"/>
<rect x="1516.1" y="1082.4" width="41.5" height="11.8" fill="#aaa"/>
<rect x="1407.6" y="1082.4" width="2" height="11.8" fill="#000"/>
<line x1="759.1" y1="1082.4" x2="759.1" y2="1094.2" stroke="#000" stroke-width="1.2"/>
<line x1="787.4" y1="1082.4" x2="787.4" y2="1094.2" stroke="#000" stroke-width="1.2"/>
<line x1="823.7" y1="1082.4" x2="823.7" y2="1094.2" stroke="#000" stroke-width="1.2"/>
<line x1="827.8" y1="1082.4" x2="827.8" y2="1094.2" stroke="#000" stroke-width="1.2"/>
<line x1="864.9" y1="1082.4" x2="864.9" y2="1094.2" stroke="#000" stroke-width="1.2"/>
<line x1="907.7" y1="1082.4" x2="907.7" y2="1094.2" stroke="#000" stroke-width="1.2"/>
<line x1="926" y1="1082.4" x2="926" y2="1094.2" stroke="#000" stroke-width="1.2"/>
<line x1="934.1" y1="1082.4" x2="934.1" y2="1094.2" stroke="#000" stroke-width="1.2"/>
<line x1="963.8" y1="1082.4" x2="963.8" y2="1094.2" stroke="#000" stroke-width="1.2"/>
<line x1="1033.8" y1="1082.4" x2="1033.8" y2="1094.2" stroke="#000" stroke-width="1.2"/>
<line x1="1106.3" y1="1082.4" x2="1106.3" y2="1094.2" stroke="#000" stroke-width="1.2"/>
<line x1="1118.8" y1="1082.4" x2="1118.8" y2="1094.2" stroke="#000" stroke-width="1.2"/>
<line x1="1175.9" y1="1082.4" x2="1175.9" y2="1094.2" stroke="#000" stroke-width="1.2"/>
<line x1="1224.8" y1="1082.4" x2="1224.8" y2="1094.2" stroke="#000" stroke-width="1.2"/>
<line x1="1234.3" y1="1082.4" x2="1234.3" y2="1094.2" stroke="#000" stroke-width="1.2"/>
<line x1="1278.4" y1="1082.4" x2="1278.4" y2="1094.2" stroke="#000" stroke-width="1.2"/>
<line x1="1311.7" y1="1082.4" x2="1311.7" y2="1094.2" stroke="#000" stroke-width="1.2"/>
<line x1="1315.8" y1="1082.4" x2="1315.8" y2="1094.2" stroke="#000" stroke-width="1.2"/>
<line x1="1361.6" y1="1082.4" x2="1361.6" y2="1094.2" stroke="#000" stroke-width="1.2"/>
<line x1="1396.6" y1="1082.4" x2="1396.6" y2="1094.2" stroke="#000" stroke-width="1.2"/>
<line x1="1410.9" y1="1082.4" x2="1410.9" y2="1094.2" stroke="#000" stroke-width="1.2"/>
<line x1="1451.6" y1="1082.4" x2="1451.6" y2="1094.2" stroke="#000" stroke-width="1.2"/>
<line x1="1495.8" y1="1082.4" x2="1495.8" y2="1094.2" stroke="#000" stroke-width="1.2"/>
<line x1="1516.1" y1="1082.4" x2="1516.1" y2="1094.2" stroke="#000" stroke-width="1.2"/>
<rect x="659.4" y="1082.4" width="898.2" height="11.8" fill="none" stroke="#000" stroke-width="1.5"/>
<rect x="1401.3" y="1081.2" width="15" height="13.9" fill="none" stroke="#e8241a" stroke-width="2.2"/>
<line x1="668" y1="1121.2" x2="1076.9" y2="1121.2" stroke="#000" stroke-width="2"/>
<line x1="1185" y1="1121.2" x2="1549" y2="1121.2" stroke="#000" stroke-width="2"/>
<polygon points="659.4,1121.2 669.5,1117.6 669.5,1124.8" fill="#000"/>
<polygon points="1557.6,1121.2 1547.5,1117.6 1547.5,1124.8" fill="#000"/>
<text x="1132.6" y="1128.6" text-anchor="middle" style="font-size:22.8px">2,000 kb</text>
<line x1="659.4" y1="1170.2" x2="1557.6" y2="1170.2" stroke="#000" stroke-width="1.8"/>
<line x1="703.9" y1="1160.2" x2="703.9" y2="1170.2" stroke="#000" stroke-width="1.6"/>
<line x1="748.8" y1="1160.2" x2="748.8" y2="1170.2" stroke="#000" stroke-width="1.6"/>
<line x1="793.7" y1="1160.2" x2="793.7" y2="1170.2" stroke="#000" stroke-width="1.6"/>
<line x1="838.6" y1="1160.2" x2="838.6" y2="1170.2" stroke="#000" stroke-width="1.6"/>
<line x1="883.5" y1="1160.2" x2="883.5" y2="1170.2" stroke="#000" stroke-width="1.6"/>
<line x1="928.4" y1="1160.2" x2="928.4" y2="1170.2" stroke="#000" stroke-width="1.6"/>
<line x1="973.3" y1="1160.2" x2="973.3" y2="1170.2" stroke="#000" stroke-width="1.6"/>
<line x1="1018.2" y1="1160.2" x2="1018.2" y2="1170.2" stroke="#000" stroke-width="1.6"/>
<line x1="1063.1" y1="1160.2" x2="1063.1" y2="1170.2" stroke="#000" stroke-width="1.6"/>
<line x1="1108" y1="1160.2" x2="1108" y2="1170.2" stroke="#000" stroke-width="1.6"/>
<line x1="1152.9" y1="1160.2" x2="1152.9" y2="1170.2" stroke="#000" stroke-width="1.6"/>
<line x1="1197.8" y1="1160.2" x2="1197.8" y2="1170.2" stroke="#000" stroke-width="1.6"/>
<line x1="1242.7" y1="1160.2" x2="1242.7" y2="1170.2" stroke="#000" stroke-width="1.6"/>
<line x1="1287.6" y1="1160.2" x2="1287.6" y2="1170.2" stroke="#000" stroke-width="1.6"/>
<line x1="1332.5" y1="1160.2" x2="1332.5" y2="1170.2" stroke="#000" stroke-width="1.6"/>
<line x1="1377.4" y1="1160.2" x2="1377.4" y2="1170.2" stroke="#000" stroke-width="1.6"/>
<line x1="1422.3" y1="1160.2" x2="1422.3" y2="1170.2" stroke="#000" stroke-width="1.6"/>
<line x1="1467.2" y1="1160.2" x2="1467.2" y2="1170.2" stroke="#000" stroke-width="1.6"/>
<line x1="1512.1" y1="1160.2" x2="1512.1" y2="1170.2" stroke="#000" stroke-width="1.6"/>
<line x1="1557" y1="1160.2" x2="1557" y2="1170.2" stroke="#000" stroke-width="1.6"/>
<line x1="1557.1" y1="1160.2" x2="1557.1" y2="1170.2" stroke="#000" stroke-width="1.6"/>
<text x="784" y="1155.6" text-anchor="middle" style="font-size:22.6px">124,200 kb</text>
<text x="963.3" y="1155.6" text-anchor="middle" style="font-size:22.6px">124,600 kb</text>
<text x="1142.6" y="1155.6" text-anchor="middle" style="font-size:22.6px">125,000 kb</text>
<text x="1323.3" y="1155.6" text-anchor="middle" style="font-size:22.6px">125,400 kb</text>
<text x="1496.4" y="1155.6" text-anchor="middle" style="font-size:22.6px">125,800 kb</text>
<text x="659.5" y="1199" style="font-size:24.8px">[0 - 1.87]</text>
<text x="524.9" y="1202" style="font-size:24.4px">CHARM</text>
<text x="524.9" y="1232" style="font-size:24.4px">mESC Acc.</text>
<path d="M660.5 1235.6V1234.3M663.5 1235.6V1232.87M665.5 1235.6V1235.11M667.5 1235.6V1234.92M672.5 1235.6V1234M673.5 1235.6V1235.07M675.5 1235.6V1234.4M678.5 1235.6V1235.15M684.5 1235.6V1234.1M685.5 1235.6V1234.41M688.5 1235.6V1233.83M691.5 1235.6V1231.17M694.5 1235.6V1232.9M696.5 1235.6V1233.61M699.5 1235.6V1233.41M704.5 1235.6V1234.07M705.5 1235.6V1233.89M706.5 1235.6V1234.86M707.5 1235.6V1234.41M709.5 1235.6V1233.92M713.5 1235.6V1234M716.5 1235.6V1234.58M717.5 1235.6V1233.84M718.5 1235.6V1234.99M719.5 1235.6V1231.6M720.5 1235.6V1231.6M721.5 1235.6V1233.52M722.5 1235.6V1232.84M725.5 1235.6V1234.04M727.5 1235.6V1234.84M728.5 1235.6V1232.06M729.5 1235.6V1234.64M730.5 1235.6V1234.94M732.5 1235.6V1234.39M733.5 1235.6V1234.71M735.5 1235.6V1233.84M736.5 1235.6V1234.18M738.5 1235.6V1234.94M739.5 1235.6V1234.65M740.5 1235.6V1233.73M743.5 1235.6V1234.12M745.5 1235.6V1233.13M746.5 1235.6V1233.05M751.5 1235.6V1233.76M752.5 1235.6V1234.93M753.5 1235.6V1233.34M754.5 1235.6V1232.75M756.5 1235.6V1234.47M757.5 1235.6V1234.51M759.5 1235.6V1230.1M760.5 1235.6V1230.1M761.5 1235.6V1233.41M764.5 1235.6V1234.57M765.5 1235.6V1233.08M766.5 1235.6V1234.04M768.5 1235.6V1234.7M771.5 1235.6V1233.02M773.5 1235.6V1233.68M774.5 1235.6V1232.67M775.5 1235.6V1232.76M778.5 1235.6V1234.4M779.5 1235.6V1233.59M780.5 1235.6V1234.41M781.5 1235.6V1233.39M783.5 1235.6V1231.96M784.5 1235.6V1229.57M785.5 1235.6V1232.22M787.5 1235.6V1233.34M788.5 1235.6V1233.8M789.5 1235.6V1232.37M790.5 1235.6V1234.04M792.5 1235.6V1233.07M794.5 1235.6V1232.91M795.5 1235.6V1232.66M796.5 1235.6V1233.33M797.5 1235.6V1232.09M798.5 1235.6V1233.07M800.5 1235.6V1234.44M801.5 1235.6V1234.07M802.5 1235.6V1232.37M803.5 1235.6V1232.59M804.5 1235.6V1232.07M805.5 1235.6V1231.85M806.5 1235.6V1231.73M807.5 1235.6V1233.47M808.5 1235.6V1234.21M810.5 1235.6V1233.09M811.5 1235.6V1233.79M812.5 1235.6V1234.62M815.5 1235.6V1231.58M817.5 1235.6V1227.6M818.5 1235.6V1227.6M820.5 1235.6V1234.35M821.5 1235.6V1232.63M822.5 1235.6V1232.67M823.5 1235.6V1231.89M825.5 1235.6V1229.6M826.5 1235.6V1229.6M827.5 1235.6V1233.76M829.5 1235.6V1234.42M830.5 1235.6V1234.48M831.5 1235.6V1234.19M832.5 1235.6V1232.45M833.5 1235.6V1234.26M834.5 1235.6V1231.7M836.5 1235.6V1232.96M837.5 1235.6V1233.46M838.5 1235.6V1231.13M839.5 1235.6V1231.06M841.5 1235.6V1229.11M842.5 1235.6V1231.67M843.5 1235.6V1233.32M844.5 1235.6V1201M845.5 1235.6V1229.05M846.5 1235.6V1232.41M847.5 1235.6V1231.34M848.5 1235.6V1232.52M850.5 1235.6V1232.63M851.5 1235.6V1225.6M852.5 1235.6V1225.6M853.5 1235.6V1224.28M854.5 1235.6V1233.56M855.5 1235.6V1233.97M856.5 1235.6V1230.59M857.5 1235.6V1230.15M858.5 1235.6V1231.76M859.5 1235.6V1227.6M860.5 1235.6V1227.6M861.5 1235.6V1229.09M862.5 1235.6V1229.7M863.5 1235.6V1230.96M864.5 1235.6V1229.27M865.5 1235.6V1228.74M866.5 1235.6V1228.4M867.5 1235.6V1231.94M868.5 1235.6V1221.6M869.5 1235.6V1221.6M870.5 1235.6V1213.6M871.5 1235.6V1213.6M872.5 1235.6V1229.68M873.5 1235.6V1202.4M874.5 1235.6V1215.6M875.5 1235.6V1215.6M876.5 1235.6V1229.5M877.5 1235.6V1223.6M878.5 1235.6V1223.6M879.5 1235.6V1234.03M880.5 1235.6V1230.07M881.5 1235.6V1232.35M882.5 1235.6V1231.3M883.5 1235.6V1232.9M884.5 1235.6V1233.99M885.5 1235.6V1228.29M886.5 1235.6V1232.84M887.5 1235.6V1230.61M888.5 1235.6V1228.38M889.5 1235.6V1231.05M890.5 1235.6V1232.71M891.5 1235.6V1231.48M892.5 1235.6V1231.4M893.5 1235.6V1232.04M894.5 1235.6V1234.09M896.5 1235.6V1233.34M898.5 1235.6V1234.41M901.5 1235.6V1234.3M902.5 1235.6V1234.92M903.5 1235.6V1229.6M904.5 1235.6V1229.6M905.5 1235.6V1233.28M912.5 1235.6V1233.71M915.5 1235.6V1235.03M916.5 1235.6V1234.21M917.5 1235.6V1233.7M918.5 1235.6V1233.86M920.5 1235.6V1234.8M921.5 1235.6V1233.38M922.5 1235.6V1233.38M923.5 1235.6V1234.85M924.5 1235.6V1234.46M925.5 1235.6V1234.62M933.5 1235.6V1234.97M934.5 1235.6V1234.7M936.5 1235.6V1234.97M939.5 1235.6V1230.1M940.5 1235.6V1230.1M946.5 1235.6V1234.83M950.5 1235.6V1235.17M953.5 1235.6V1221.6M954.5 1235.6V1221.6M955.5 1235.6V1223.6M956.5 1235.6V1223.6M957.5 1235.6V1228.58M958.5 1235.6V1233.33M959.5 1235.6V1229.91M960.5 1235.6V1230.95M961.5 1235.6V1232.76M962.5 1235.6V1232.29M964.5 1235.6V1228.8M965.5 1235.6V1232.62M966.5 1235.6V1227.24M967.5 1235.6V1230.05M968.5 1235.6V1230.1M969.5 1235.6V1233.9M970.5 1235.6V1230M971.5 1235.6V1229.67M972.5 1235.6V1228.28M973.5 1235.6V1232.72M974.5 1235.6V1232.33M975.5 1235.6V1232.98M976.5 1235.6V1230.11M977.5 1235.6V1231.74M979.5 1235.6V1233.79M980.5 1235.6V1228.71M981.5 1235.6V1228.11M982.5 1235.6V1232.99M983.5 1235.6V1233.91M984.5 1235.6V1231.86M985.5 1235.6V1234.08M986.5 1235.6V1228.37M988.5 1235.6V1231.96M989.5 1235.6V1213.6M990.5 1235.6V1213.6M991.5 1235.6V1231.91M992.5 1235.6V1205M993.5 1235.6V1205M994.5 1235.6V1228.58M995.5 1235.6V1228.71M996.5 1235.6V1228.35M997.5 1235.6V1229.8M998.5 1235.6V1234.08M999.5 1235.6V1223.6M1000.5 1235.6V1214.12M1001.5 1235.6V1230.38M1002.5 1235.6V1231.02M1003.5 1235.6V1230.25M1004.5 1235.6V1228.02M1005.5 1235.6V1226.6M1006.5 1235.6V1226.6M1007.5 1235.6V1233.23M1008.5 1235.6V1232.02M1009.5 1235.6V1229.82M1010.5 1235.6V1227.44M1011.5 1235.6V1233.19M1012.5 1235.6V1225.6M1013.5 1235.6V1225.6M1014.5 1235.6V1228.41M1015.5 1235.6V1232.93M1016.5 1235.6V1229.72M1019.5 1235.6V1205.2M1020.5 1235.6V1205.2M1021.5 1235.6V1231.8M1022.5 1235.6V1230.6M1023.5 1235.6V1216.6M1024.5 1235.6V1230.82M1025.5 1235.6V1216.39M1026.5 1235.6V1233.16M1027.5 1235.6V1230.1M1028.5 1235.6V1228.23M1029.5 1235.6V1228.82M1030.5 1235.6V1230.02M1031.5 1235.6V1214.3M1032.5 1235.6V1232.27M1033.5 1235.6V1228.12M1034.5 1235.6V1229.47M1035.5 1235.6V1232.61M1036.5 1235.6V1233.53M1037.5 1235.6V1230.32M1038.5 1235.6V1232.87M1039.5 1235.6V1218.4M1040.5 1235.6V1231.89M1041.5 1235.6V1231.2M1042.5 1235.6V1209.5M1043.5 1235.6V1209.5M1044.5 1235.6V1231.15M1045.5 1235.6V1228.12M1046.5 1235.6V1219.6M1047.5 1235.6V1227.95M1048.5 1235.6V1231.5M1049.5 1235.6V1226.6M1050.5 1235.6V1226.6M1051.5 1235.6V1227.57M1052.5 1235.6V1227.73M1053.5 1235.6V1233.6M1054.5 1235.6V1227.98M1055.5 1235.6V1232.89M1056.5 1235.6V1231.28M1057.5 1235.6V1232.74M1058.5 1235.6V1230.53M1059.5 1235.6V1232.32M1060.5 1235.6V1233.68M1061.5 1235.6V1233.7M1062.5 1235.6V1229.99M1063.5 1235.6V1209.5M1064.5 1235.6V1231.14M1065.5 1235.6V1224.24M1066.5 1235.6V1230.72M1067.5 1235.6V1228.8M1068.5 1235.6V1230.83M1069.5 1235.6V1231.11M1070.5 1235.6V1223.06M1071.5 1235.6V1205M1072.5 1235.6V1223.04M1073.5 1235.6V1231.46M1074.5 1235.6V1228.29M1075.5 1235.6V1228.57M1076.5 1235.6V1223.8M1077.5 1235.6V1232.86M1078.5 1235.6V1233.52M1079.5 1235.6V1232.9M1080.5 1235.6V1228.57M1081.5 1235.6V1227.88M1082.5 1235.6V1230.61M1083.5 1235.6V1232.75M1084.5 1235.6V1229.46M1085.5 1235.6V1228.77M1086.5 1235.6V1229.75M1087.5 1235.6V1215.7M1088.5 1235.6V1233.26M1089.5 1235.6V1231.35M1090.5 1235.6V1227.41M1091.5 1235.6V1210.4M1092.5 1235.6V1219.21M1093.5 1235.6V1232.28M1094.5 1235.6V1230.08M1095.5 1235.6V1232.6M1096.5 1235.6V1232.6M1100.5 1235.6V1229.65M1101.5 1235.6V1231.88M1102.5 1235.6V1233.63M1103.5 1235.6V1230.86M1104.5 1235.6V1229.06M1105.5 1235.6V1226.4M1106.5 1235.6V1231.75M1107.5 1235.6V1228.67M1108.5 1235.6V1230.51M1109.5 1235.6V1228.62M1110.5 1235.6V1228.61M1111.5 1235.6V1216.6M1112.5 1235.6V1216.6M1113.5 1235.6V1226.09M1114.5 1235.6V1233.55M1115.5 1235.6V1232.54M1116.5 1235.6V1229.7M1117.5 1235.6V1227.6M1118.5 1235.6V1227.6M1119.5 1235.6V1216.77M1120.5 1235.6V1222.9M1121.5 1235.6V1222.9M1122.5 1235.6V1226.2M1123.5 1235.6V1227.8M1124.5 1235.6V1228.1M1125.5 1235.6V1230.25M1126.5 1235.6V1231.58M1127.5 1235.6V1231.96M1128.5 1235.6V1231.62M1129.5 1235.6V1226.28M1130.5 1235.6V1226.78M1131.5 1235.6V1226.57M1132.5 1235.6V1228.46M1133.5 1235.6V1227.1M1134.5 1235.6V1228.6M1135.5 1235.6V1228.6M1136.5 1235.6V1233.04M1137.5 1235.6V1233.44M1138.5 1235.6V1230.96M1139.5 1235.6V1233.33M1140.5 1235.6V1228.21M1141.5 1235.6V1229.04M1142.5 1235.6V1227.26M1143.5 1235.6V1215.7M1144.5 1235.6V1232.81M1145.5 1235.6V1233.38M1146.5 1235.6V1214.8M1147.5 1235.6V1214.8M1148.5 1235.6V1227.74M1149.5 1235.6V1222.46M1150.5 1235.6V1210M1151.5 1235.6V1210M1152.5 1235.6V1227.01M1153.5 1235.6V1230.43M1154.5 1235.6V1230.95M1155.5 1235.6V1223.8M1156.5 1235.6V1227.26M1157.5 1235.6V1232.07M1158.5 1235.6V1233.62M1159.5 1235.6V1226.6M1160.5 1235.6V1226.6M1161.5 1235.6V1226.29M1162.5 1235.6V1228.19M1163.5 1235.6V1228.69M1164.5 1235.6V1228.21M1165.5 1235.6V1230.88M1166.5 1235.6V1220.2M1167.5 1235.6V1220.2M1168.5 1235.6V1226.62M1169.5 1235.6V1226.75M1170.5 1235.6V1229.5M1171.5 1235.6V1228.61M1172.5 1235.6V1215.7M1173.5 1235.6V1227.86M1174.5 1235.6V1227.62M1175.5 1235.6V1230.05M1176.5 1235.6V1232.16M1177.5 1235.6V1227.07M1178.5 1235.6V1231.72M1179.5 1235.6V1232.39M1180.5 1235.6V1192.6M1181.5 1235.6V1190.4M1182.5 1235.6V1195.6M1183.5 1235.6V1230.26M1184.5 1235.6V1223.6M1185.5 1235.6V1223.6M1186.5 1235.6V1228.24M1187.5 1235.6V1225.6M1188.5 1235.6V1225.6M1189.5 1235.6V1230.3M1190.5 1235.6V1230.36M1191.5 1235.6V1226.79M1192.5 1235.6V1227M1193.5 1235.6V1209.5M1194.5 1235.6V1232.89M1195.5 1235.6V1232.71M1196.5 1235.6V1228.6M1197.5 1235.6V1228.6M1199.5 1235.6V1232.89M1200.5 1235.6V1233.38M1201.5 1235.6V1233.22M1202.5 1235.6V1232.03M1203.5 1235.6V1233.13M1204.5 1235.6V1233.31M1205.5 1235.6V1222M1206.5 1235.6V1233.62M1207.5 1235.6V1232.8M1208.5 1235.6V1234.48M1209.5 1235.6V1234.68M1210.5 1235.6V1234.81M1211.5 1235.6V1230M1212.5 1235.6V1230M1214.5 1235.6V1234.19M1215.5 1235.6V1234.21M1216.5 1235.6V1232.42M1217.5 1235.6V1233.16M1219.5 1235.6V1232.93M1221.5 1235.6V1234.16M1222.5 1235.6V1232.74M1223.5 1235.6V1230.9M1224.5 1235.6V1233.95M1225.5 1235.6V1232.72M1227.5 1235.6V1234.29M1228.5 1235.6V1233.81M1229.5 1235.6V1233.98M1231.5 1235.6V1232.75M1233.5 1235.6V1232.75M1234.5 1235.6V1234.91M1235.5 1235.6V1229M1236.5 1235.6V1229M1237.5 1235.6V1234.54M1239.5 1235.6V1232.59M1241.5 1235.6V1232.58M1243.5 1235.6V1233.11M1245.5 1235.6V1232.61M1246.5 1235.6V1234.32M1247.5 1235.6V1234.79M1248.5 1235.6V1233.64M1249.5 1235.6V1228.26M1251.5 1235.6V1233.45M1253.5 1235.6V1233.83M1254.5 1235.6V1233.26M1255.5 1235.6V1233.33M1257.5 1235.6V1232.35M1258.5 1235.6V1228.03M1260.5 1235.6V1234.05M1261.5 1235.6V1233.69M1263.5 1235.6V1233.79M1264.5 1235.6V1222.9M1265.5 1235.6V1222.9M1266.5 1235.6V1233.61M1267.5 1235.6V1232.37M1269.5 1235.6V1234.1M1270.5 1235.6V1226.8M1271.5 1235.6V1226.8M1272.5 1235.6V1234.81M1273.5 1235.6V1234.44M1274.5 1235.6V1233.2M1276.5 1235.6V1233.31M1277.5 1235.6V1214.3M1278.5 1235.6V1214.3M1280.5 1235.6V1232.75M1281.5 1235.6V1222.9M1283.5 1235.6V1233.97M1289.5 1235.6V1229.07M1290.5 1235.6V1232.68M1291.5 1235.6V1232.06M1292.5 1235.6V1224.38M1293.5 1235.6V1229.48M1294.5 1235.6V1223.78M1295.5 1235.6V1232.22M1296.5 1235.6V1225.96M1297.5 1235.6V1226.64M1298.5 1235.6V1232.35M1299.5 1235.6V1233.03M1300.5 1235.6V1226.16M1301.5 1235.6V1213.6M1302.5 1235.6V1213.6M1303.5 1235.6V1226.39M1304.5 1235.6V1230.76M1305.5 1235.6V1229.33M1306.5 1235.6V1225.35M1307.5 1235.6V1226.2M1308.5 1235.6V1217.93M1309.5 1235.6V1227.68M1310.5 1235.6V1231.81M1311.5 1235.6V1227.01M1312.5 1235.6V1229.5M1313.5 1235.6V1225.67M1314.5 1235.6V1232.62M1315.5 1235.6V1225.26M1316.5 1235.6V1223.82M1317.5 1235.6V1230.24M1318.5 1235.6V1229.58M1319.5 1235.6V1224.6M1320.5 1235.6V1233.18M1321.5 1235.6V1227.57M1322.5 1235.6V1232.79M1323.5 1235.6V1224.87M1324.5 1235.6V1225.03M1325.5 1235.6V1224.43M1326.5 1235.6V1227.88M1327.5 1235.6V1217.6M1328.5 1235.6V1227.37M1329.5 1235.6V1231.22M1330.5 1235.6V1225.6M1331.5 1235.6V1225.46M1332.5 1235.6V1227.64M1333.5 1235.6V1228.19M1334.5 1235.6V1231.38M1335.5 1235.6V1226.47M1336.5 1235.6V1229.34M1337.5 1235.6V1232.77M1338.5 1235.6V1232.18M1339.5 1235.6V1231.7M1340.5 1235.6V1217.13M1341.5 1235.6V1223.69M1342.5 1235.6V1227.76M1343.5 1235.6V1229.11M1344.5 1235.6V1225.34M1345.5 1235.6V1232.84M1346.5 1235.6V1227.59M1347.5 1235.6V1224.84M1348.5 1235.6V1224.46M1349.5 1235.6V1229.38M1350.5 1235.6V1230.73M1351.5 1235.6V1224.02M1352.5 1235.6V1228.9M1353.5 1235.6V1223.68M1354.5 1235.6V1230.74M1355.5 1235.6V1224.52M1356.5 1235.6V1225.65M1357.5 1235.6V1205.95M1358.5 1235.6V1225.95M1359.5 1235.6V1230.33M1360.5 1235.6V1232.19M1361.5 1235.6V1232.01M1362.5 1235.6V1230.91M1363.5 1235.6V1233.08M1364.5 1235.6V1232.85M1365.5 1235.6V1224.23M1366.5 1235.6V1216.6M1367.5 1235.6V1224.28M1368.5 1235.6V1228.86M1369.5 1235.6V1218.6M1370.5 1235.6V1218.6M1371.5 1235.6V1227.89M1372.5 1235.6V1230.64M1373.5 1235.6V1230.6M1374.5 1235.6V1231.59M1375.5 1235.6V1215.6M1376.5 1235.6V1232.65M1377.5 1235.6V1231.17M1378.5 1235.6V1230.73M1379.5 1235.6V1223.69M1380.5 1235.6V1232.26M1381.5 1235.6V1232.65M1382.5 1235.6V1206.11M1383.5 1235.6V1229.93M1384.5 1235.6V1225.21M1385.5 1235.6V1233.13M1386.5 1235.6V1232.64M1387.5 1235.6V1231.93M1388.5 1235.6V1234.41M1389.5 1235.6V1232.92M1390.5 1235.6V1232.5M1392.5 1235.6V1233.97M1393.5 1235.6V1233.23M1394.5 1235.6V1231.78M1397.5 1235.6V1234.64M1398.5 1235.6V1231.56M1399.5 1235.6V1231.71M1400.5 1235.6V1233.36M1401.5 1235.6V1232.83M1402.5 1235.6V1234.27M1405.5 1235.6V1232.14M1406.5 1235.6V1234.48M1408.5 1235.6V1232.85M1409.5 1235.6V1234.63M1410.5 1235.6V1234.04M1411.5 1235.6V1226M1412.5 1235.6V1232.18M1413.5 1235.6V1232.54M1414.5 1235.6V1232.17M1416.5 1235.6V1234.54M1417.5 1235.6V1232.9M1418.5 1235.6V1233.24M1419.5 1235.6V1231.6M1422.5 1235.6V1233.92M1430.5 1235.6V1234.84M1437.5 1235.6V1234.4M1439.5 1235.6V1234.55M1442.5 1235.6V1234.53M1443.5 1235.6V1234.99M1450.5 1235.6V1234.21M1452.5 1235.6V1234.36M1454.5 1235.6V1234.4M1456.5 1235.6V1234.73M1457.5 1235.6V1234.28M1459.5 1235.6V1234.48M1460.5 1235.6V1235.02M1461.5 1235.6V1234.58M1462.5 1235.6V1235.07M1467.5 1235.6V1234.1M1471.5 1235.6V1234.83M1475.5 1235.6V1234.66M1476.5 1235.6V1234.34M1477.5 1235.6V1233.67M1479.5 1235.6V1235.11M1481.5 1235.6V1234.6M1483.5 1235.6V1234.86M1485.5 1235.6V1234.68M1498.5 1235.6V1231.23M1512.5 1235.6V1234.6M1514.5 1235.6V1233.98M1517.5 1235.6V1234.74M1520.5 1235.6V1233.77M1524.5 1235.6V1234.54M1525.5 1235.6V1235.14M1541.5 1235.6V1234.63M1550.5 1235.6V1234.38M1551.5 1235.6V1234.71M1554.5 1235.6V1233.81" fill="none" stroke="#4fd9c6" stroke-width="1.05"/>
<line x1="659.4" y1="1236.6" x2="1557.8" y2="1236.6" stroke="#e4e4e4" stroke-width="1.3"/>
<line x1="659.4" y1="1279" x2="1557.8" y2="1279" stroke="#e4e4e4" stroke-width="1.3"/>
<line x1="659.4" y1="1320.5" x2="1557.8" y2="1320.5" stroke="#e4e4e4" stroke-width="1.3"/>
<line x1="659.4" y1="1362" x2="1557.8" y2="1362" stroke="#e4e4e4" stroke-width="1.3"/>
<text x="649.3" y="1273.1" text-anchor="end" style="font-size:24.8px">20k cluster</text>
<text x="649.3" y="1309.7" text-anchor="end" style="font-size:24.8px">30k cluster</text>
<text x="649.3" y="1354.2" text-anchor="end" style="font-size:24.8px">50k cluster</text>
<text x="649.3" y="1392.2" text-anchor="end" style="font-size:24.8px">100k cluster</text>
<rect x="989.7" y="1244.9" width="20.2" height="9.8" fill="#000"/>
<rect x="1020.4" y="1244.9" width="23.9" height="9.8" fill="#000"/>
<rect x="1059.4" y="1244.9" width="17.2" height="9.8" fill="#000"/>
<rect x="1166.2" y="1244.9" width="16.5" height="9.8" fill="#000"/>
<rect x="1291.9" y="1244.9" width="14.4" height="9.8" fill="#000"/>
<rect x="1365.3" y="1244.9" width="14.4" height="9.8" fill="#000"/>
<rect x="973.7" y="1286.2" width="70.6" height="10.1" fill="#000"/>
<rect x="1059.4" y="1286.2" width="17.2" height="10.1" fill="#000"/>
<rect x="1166.2" y="1286.2" width="45.6" height="10.1" fill="#000"/>
<rect x="1291.9" y="1286.2" width="14.4" height="10.1" fill="#000"/>
<rect x="879.1" y="1327.7" width="367.1" height="10.2" fill="#000"/>
<rect x="775.2" y="1369" width="666.7" height="10.4" fill="#000"/>
<line x1="669" y1="1426.8" x2="687.5" y2="1426.8" stroke="#000" stroke-width="1.8"/>
<line x1="743.7" y1="1426.8" x2="763.9" y2="1426.8" stroke="#000" stroke-width="1.8"/>
<line x1="814" y1="1426.8" x2="818.4" y2="1426.8" stroke="#000" stroke-width="1.8"/>
<line x1="842" y1="1426.8" x2="850" y2="1426.8" stroke="#000" stroke-width="1.8"/>
<line x1="956.7" y1="1426.8" x2="971.6" y2="1426.8" stroke="#000" stroke-width="1.8"/>
<line x1="1012" y1="1426.8" x2="1017.3" y2="1426.8" stroke="#000" stroke-width="1.8"/>
<line x1="1092.8" y1="1426.8" x2="1107" y2="1426.8" stroke="#000" stroke-width="1.8"/>
<line x1="1112" y1="1426.8" x2="1119.2" y2="1426.8" stroke="#000" stroke-width="1.8"/>
<line x1="1133.2" y1="1426.8" x2="1145.5" y2="1426.8" stroke="#000" stroke-width="1.8"/>
<line x1="1227.2" y1="1426.8" x2="1233.3" y2="1426.8" stroke="#000" stroke-width="1.8"/>
<line x1="1300.5" y1="1426.8" x2="1337.2" y2="1426.8" stroke="#000" stroke-width="1.8"/>
<line x1="1355.6" y1="1426.8" x2="1373" y2="1426.8" stroke="#000" stroke-width="1.8"/>
<line x1="1386.5" y1="1426.8" x2="1388.4" y2="1426.8" stroke="#000" stroke-width="1.8"/>
<line x1="1419.3" y1="1426.8" x2="1557.6" y2="1426.8" stroke="#000" stroke-width="1.8"/>
<line x1="1216" y1="1426.8" x2="1222.8" y2="1426.8" stroke="#000" stroke-width="1.8"/>
<line x1="670" y1="1419.7" x2="670" y2="1433.1" stroke="#000" stroke-width="1.4"/>
<line x1="672.6" y1="1419.7" x2="672.6" y2="1433.1" stroke="#000" stroke-width="1.4"/>
<line x1="676.1" y1="1419.7" x2="676.1" y2="1433.1" stroke="#000" stroke-width="1.4"/>
<line x1="678.7" y1="1419.7" x2="678.7" y2="1433.1" stroke="#000" stroke-width="1.4"/>
<line x1="684" y1="1419.7" x2="684" y2="1433.1" stroke="#000" stroke-width="1.4"/>
<line x1="687" y1="1419.7" x2="687" y2="1433.1" stroke="#000" stroke-width="1.4"/>
<line x1="744.2" y1="1419.7" x2="744.2" y2="1433.1" stroke="#000" stroke-width="1.4"/>
<line x1="745.5" y1="1419.7" x2="745.5" y2="1433.1" stroke="#000" stroke-width="1.4"/>
<line x1="747.2" y1="1419.7" x2="747.2" y2="1433.1" stroke="#000" stroke-width="1.4"/>
<line x1="758.6" y1="1419.7" x2="758.6" y2="1433.1" stroke="#000" stroke-width="1.4"/>
<line x1="760.4" y1="1419.7" x2="760.4" y2="1433.1" stroke="#000" stroke-width="1.4"/>
<line x1="763" y1="1419.7" x2="763" y2="1433.1" stroke="#000" stroke-width="1.4"/>
<line x1="821" y1="1419.7" x2="821" y2="1433.1" stroke="#000" stroke-width="1.4"/>
<line x1="842.5" y1="1419.7" x2="842.5" y2="1433.1" stroke="#000" stroke-width="1.4"/>
<line x1="845" y1="1419.7" x2="845" y2="1433.1" stroke="#000" stroke-width="1.4"/>
<line x1="847.6" y1="1419.7" x2="847.6" y2="1433.1" stroke="#000" stroke-width="1.4"/>
<line x1="956.7" y1="1419.7" x2="956.7" y2="1433.1" stroke="#000" stroke-width="1.4"/>
<line x1="1013.5" y1="1419.7" x2="1013.5" y2="1433.1" stroke="#000" stroke-width="1.4"/>
<line x1="1016" y1="1419.7" x2="1016" y2="1433.1" stroke="#000" stroke-width="1.4"/>
<line x1="1077.9" y1="1419.7" x2="1077.9" y2="1433.1" stroke="#000" stroke-width="1.4"/>
<line x1="1107.7" y1="1419.7" x2="1107.7" y2="1433.1" stroke="#000" stroke-width="1.4"/>
<line x1="1145.5" y1="1419.7" x2="1145.5" y2="1433.1" stroke="#000" stroke-width="1.4"/>
<line x1="1222.8" y1="1419.7" x2="1222.8" y2="1433.1" stroke="#000" stroke-width="1.4"/>
<line x1="1227.5" y1="1419.7" x2="1227.5" y2="1433.1" stroke="#000" stroke-width="1.4"/>
<line x1="1316" y1="1419.7" x2="1316" y2="1433.1" stroke="#000" stroke-width="1.4"/>
<line x1="1319.8" y1="1419.7" x2="1319.8" y2="1433.1" stroke="#000" stroke-width="1.4"/>
<line x1="1322.7" y1="1419.7" x2="1322.7" y2="1433.1" stroke="#000" stroke-width="1.4"/>
<line x1="1324.5" y1="1419.7" x2="1324.5" y2="1433.1" stroke="#000" stroke-width="1.4"/>
<line x1="1326.6" y1="1419.7" x2="1326.6" y2="1433.1" stroke="#000" stroke-width="1.4"/>
<line x1="1330.5" y1="1419.7" x2="1330.5" y2="1433.1" stroke="#000" stroke-width="1.4"/>
<line x1="1335.3" y1="1419.7" x2="1335.3" y2="1433.1" stroke="#000" stroke-width="1.4"/>
<line x1="1351.7" y1="1419.7" x2="1351.7" y2="1433.1" stroke="#000" stroke-width="1.4"/>
<line x1="1428" y1="1419.7" x2="1428" y2="1433.1" stroke="#000" stroke-width="1.4"/>
<line x1="1457" y1="1419.7" x2="1457" y2="1433.1" stroke="#000" stroke-width="1.4"/>
<line x1="1462.8" y1="1419.7" x2="1462.8" y2="1433.1" stroke="#000" stroke-width="1.4"/>
<line x1="1465" y1="1419.7" x2="1465" y2="1433.1" stroke="#000" stroke-width="1.4"/>
<line x1="1467.5" y1="1419.7" x2="1467.5" y2="1433.1" stroke="#000" stroke-width="1.4"/>
<line x1="1470" y1="1419.7" x2="1470" y2="1433.1" stroke="#000" stroke-width="1.4"/>
<line x1="1472.5" y1="1419.7" x2="1472.5" y2="1433.1" stroke="#000" stroke-width="1.4"/>
<line x1="1475.4" y1="1419.7" x2="1475.4" y2="1433.1" stroke="#000" stroke-width="1.4"/>
<line x1="1496.6" y1="1419.7" x2="1496.6" y2="1433.1" stroke="#000" stroke-width="1.4"/>
<line x1="1499.5" y1="1419.7" x2="1499.5" y2="1433.1" stroke="#000" stroke-width="1.4"/>
<line x1="1502.5" y1="1419.7" x2="1502.5" y2="1433.1" stroke="#000" stroke-width="1.4"/>
<line x1="1505.3" y1="1419.7" x2="1505.3" y2="1433.1" stroke="#000" stroke-width="1.4"/>
<line x1="1538" y1="1419.7" x2="1538" y2="1433.1" stroke="#000" stroke-width="1.4"/>
<line x1="1542" y1="1419.7" x2="1542" y2="1433.1" stroke="#000" stroke-width="1.4"/>
<line x1="1549.5" y1="1419.7" x2="1549.5" y2="1433.1" stroke="#000" stroke-width="1.4"/>
<line x1="1554.6" y1="1419.7" x2="1554.6" y2="1433.1" stroke="#000" stroke-width="1.4"/>
<line x1="1138" y1="1419.7" x2="1138" y2="1433.1" stroke="#000" stroke-width="1.4"/>
<line x1="1141" y1="1419.7" x2="1141" y2="1433.1" stroke="#000" stroke-width="1.4"/>
<rect x="794.6" y="1419.2" width="11.4" height="14.4" fill="#000"/>
<rect x="836.8" y="1419.2" width="4.4" height="14.4" fill="#000"/>
<rect x="851.7" y="1419.2" width="16.7" height="14.4" fill="#000"/>
<rect x="879" y="1419.2" width="2.6" height="14.4" fill="#000"/>
<rect x="884.2" y="1419.2" width="9.7" height="14.4" fill="#000"/>
<rect x="896.5" y="1419.2" width="6.2" height="14.4" fill="#000"/>
<rect x="914" y="1419.2" width="6.2" height="14.4" fill="#000"/>
<rect x="938.7" y="1419.2" width="7" height="14.4" fill="#000"/>
<rect x="971.6" y="1419.2" width="25.5" height="14.4" fill="#000"/>
<rect x="999.7" y="1419.2" width="12.3" height="14.4" fill="#000"/>
<rect x="1021.7" y="1419.2" width="36" height="14.4" fill="#000"/>
<rect x="1063.8" y="1419.2" width="10.6" height="14.4" fill="#000"/>
<rect x="1089.3" y="1419.2" width="3.5" height="14.4" fill="#000"/>
<rect x="1119.2" y="1419.2" width="14" height="14.4" fill="#000"/>
<rect x="1150.8" y="1419.2" width="46.5" height="14.4" fill="#000"/>
<rect x="1204.4" y="1419.2" width="10.5" height="14.4" fill="#000"/>
<rect x="1233.3" y="1419.2" width="4.4" height="14.4" fill="#000"/>
<rect x="1245.5" y="1419.2" width="33.8" height="14.4" fill="#000"/>
<rect x="1355.6" y="1419.2" width="9.6" height="14.4" fill="#000"/>
<rect x="1373" y="1419.2" width="13.5" height="14.4" fill="#000"/>
<rect x="1388.4" y="1419.2" width="30.9" height="14.4" fill="#000"/>
<line x1="976.5" y1="1420.2" x2="976.5" y2="1432.6" stroke="#888" stroke-width="0.7"/>
<line x1="990.5" y1="1420.2" x2="990.5" y2="1432.6" stroke="#888" stroke-width="0.7"/>
<line x1="1030.6" y1="1420.2" x2="1030.6" y2="1432.6" stroke="#888" stroke-width="0.7"/>
<line x1="1048.4" y1="1420.2" x2="1048.4" y2="1432.6" stroke="#888" stroke-width="0.7"/>
<line x1="1160.4" y1="1420.2" x2="1160.4" y2="1432.6" stroke="#888" stroke-width="0.7"/>
<line x1="1183.6" y1="1420.2" x2="1183.6" y2="1432.6" stroke="#888" stroke-width="0.7"/>
<line x1="1257" y1="1420.2" x2="1257" y2="1432.6" stroke="#888" stroke-width="0.7"/>
<line x1="1266" y1="1420.2" x2="1266" y2="1432.6" stroke="#888" stroke-width="0.7"/>
<line x1="1412.9" y1="1420.2" x2="1412.9" y2="1432.6" stroke="#888" stroke-width="0.7"/>
<polygon points="965.5,1423.2 971.5,1426.8 965.5,1430.4" fill="#000"/>
<polygon points="1436.1,1423.2 1442.1,1426.8 1436.1,1430.4" fill="#000"/>
<polygon points="1483.5,1423.2 1489.5,1426.8 1483.5,1430.4" fill="#000"/>
<polygon points="1512.5,1423.2 1518.5,1426.8 1512.5,1430.4" fill="#000"/>
<text x="645.5" y="1463.5" style="font-size:24.5px;font-style:italic">Vmn2r26</text>
<text x="772" y="1463.5" style="font-size:24.5px;font-style:italic">Cd163</text>
<text x="862.4" y="1463.5" style="font-size:24.5px;font-style:italic">C1rl</text>
<text x="936.2" y="1463.5" style="font-size:24.5px;font-style:italic">Lpcat3</text>
<text x="1030.2" y="1463.5" style="font-size:24.5px;font-style:italic">Cd4</text>
<text x="1103.6" y="1463.5" style="font-size:24.5px;font-style:italic">Ing4</text>
<text x="1182.7" y="1463.5" style="font-size:24.5px;font-style:italic">Tapbpl</text>
<text x="1365.3" y="1463.5" style="font-size:24.5px;font-style:italic">Vwf</text>
<text x="1460.2" y="1463.5" style="font-size:24.5px;font-style:italic">Ano2</text>
<text x="5" y="1563" style="font-size:34px;font-weight:bold">k</text>
<rect x="119.3" y="1649" width="297.5" height="320.4" fill="none" stroke="#000" stroke-width="2"/>
<line x1="113.3" y1="1926.5" x2="119.3" y2="1926.5" stroke="#000" stroke-width="2"/>
<text x="110.3" y="1932.5" text-anchor="end">2</text>
<line x1="113.3" y1="1873.54" x2="119.3" y2="1873.54" stroke="#000" stroke-width="2"/>
<text x="110.3" y="1879.54" text-anchor="end">3</text>
<line x1="113.3" y1="1820.58" x2="119.3" y2="1820.58" stroke="#000" stroke-width="2"/>
<text x="110.3" y="1826.58" text-anchor="end">4</text>
<line x1="113.3" y1="1767.62" x2="119.3" y2="1767.62" stroke="#000" stroke-width="2"/>
<text x="110.3" y="1773.62" text-anchor="end">5</text>
<line x1="113.3" y1="1714.66" x2="119.3" y2="1714.66" stroke="#000" stroke-width="2"/>
<text x="110.3" y="1720.66" text-anchor="end">6</text>
<line x1="113.3" y1="1661.7" x2="119.3" y2="1661.7" stroke="#000" stroke-width="2"/>
<text x="110.3" y="1667.7" text-anchor="end">7</text>
<line x1="168.6" y1="1744.32" x2="168.6" y2="1823.81" stroke="#404040" stroke-width="1.7"/>
<line x1="168.6" y1="1880.48" x2="168.6" y2="1942.92" stroke="#404040" stroke-width="1.7"/>
<line x1="155.6" y1="1744.32" x2="181.6" y2="1744.32" stroke="#404040" stroke-width="1.7"/>
<line x1="155.6" y1="1942.92" x2="181.6" y2="1942.92" stroke="#404040" stroke-width="1.7"/>
<rect x="143.6" y="1823.81" width="50" height="56.67" fill="#7ac4a5" stroke="#404040" stroke-width="1.7"/>
<line x1="143.6" y1="1852.3" x2="193.6" y2="1852.3" stroke="#404040" stroke-width="1.7"/>
<line x1="168.6" y1="1969.4" x2="168.6" y2="1975.4" stroke="#000" stroke-width="2"/>
<line x1="268.1" y1="1663.82" x2="268.1" y2="1794.52" stroke="#404040" stroke-width="1.7"/>
<line x1="268.1" y1="1881.22" x2="268.1" y2="1954.57" stroke="#404040" stroke-width="1.7"/>
<line x1="255.1" y1="1663.82" x2="281.1" y2="1663.82" stroke="#404040" stroke-width="1.7"/>
<line x1="255.1" y1="1954.57" x2="281.1" y2="1954.57" stroke="#404040" stroke-width="1.7"/>
<rect x="243.1" y="1794.52" width="50" height="86.7" fill="#e08e72" stroke="#404040" stroke-width="1.7"/>
<line x1="243.1" y1="1841.71" x2="293.1" y2="1841.71" stroke="#404040" stroke-width="1.7"/>
<line x1="268.1" y1="1969.4" x2="268.1" y2="1975.4" stroke="#000" stroke-width="2"/>
<line x1="367.3" y1="1854.32" x2="367.3" y2="1883.5" stroke="#404040" stroke-width="1.7"/>
<line x1="367.3" y1="1907.43" x2="367.3" y2="1942.39" stroke="#404040" stroke-width="1.7"/>
<line x1="354.3" y1="1854.32" x2="380.3" y2="1854.32" stroke="#404040" stroke-width="1.7"/>
<line x1="354.3" y1="1942.39" x2="380.3" y2="1942.39" stroke="#404040" stroke-width="1.7"/>
<rect x="342.3" y="1883.5" width="50" height="23.94" fill="#8da0cb" stroke="#404040" stroke-width="1.7"/>
<line x1="342.3" y1="1893.88" x2="392.3" y2="1893.88" stroke="#404040" stroke-width="1.7"/>
<line x1="367.3" y1="1969.4" x2="367.3" y2="1975.4" stroke="#000" stroke-width="2"/>
<text x="168.1" y="1988" text-anchor="end" style="font-size:24.5px" transform="rotate(-30 168.1 1988)">All peaks</text>
<text x="272" y="1986.2" text-anchor="end" style="font-size:24.5px" transform="rotate(-30 272 1986.2)">2D clustered peaks</text>
<text x="380.6" y="1986.2" text-anchor="end" style="font-size:24.5px" transform="rotate(-30 380.6 1986.2)">2D isolated peaks</text>
<text x="64.5" y="1782.9" text-anchor="middle" transform="rotate(-90 64.5 1782.9)">Odds Ratio</text>
<polyline points="170.7,1590.2 170.7,1585.8 368,1585.8 368,1590.2" fill="none" stroke="#000" stroke-width="1.9"/>
<polyline points="170.7,1621.4 170.7,1616.1 267.9,1616.1 267.9,1621.4" fill="none" stroke="#000" stroke-width="1.9"/>
<polyline points="270,1648.5 270,1643.3 367,1643.3 367,1648.5" fill="none" stroke="#000" stroke-width="1.9"/>
<text x="201.5" y="1576.9" style="font-size:20.5px">P = 1.58×10<tspan dy="-9.5" style="font-size:14.5px">-119</tspan></text>
<text x="159.9" y="1610.3" style="font-size:20.5px">P = 2.87×10<tspan dy="-9.5" style="font-size:14.5px">-33</tspan></text>
<text x="262.9" y="1638.8" style="font-size:20.5px">P = 4.34×10<tspan dy="-9.5" style="font-size:14.5px">-107</tspan></text>
<text x="521.6" y="1562.7" style="font-size:34px;font-weight:bold">l</text>
<rect x="675.9" y="1726.09" width="39.01" height="242.11" fill="#c29b73"/>
<rect x="675.9" y="1602.55" width="39.01" height="123.54" fill="#92beda"/>
<rect x="714.91" y="1877.74" width="39.01" height="90.46" fill="#c29b73"/>
<rect x="714.91" y="1827.42" width="39.01" height="50.32" fill="#f0b985"/>
<rect x="753.92" y="1944.33" width="39.01" height="23.87" fill="#c29b73"/>
<rect x="753.92" y="1902.92" width="39.01" height="41.41" fill="#f0b985"/>
<rect x="792.94" y="1962.84" width="39.01" height="5.36" fill="#c29b73"/>
<rect x="792.94" y="1943.84" width="39.01" height="19" fill="#f0b985"/>
<rect x="831.95" y="1967.47" width="39.01" height="0.73" fill="#c29b73"/>
<rect x="831.95" y="1959.92" width="39.01" height="7.55" fill="#f0b985"/>
<rect x="870.96" y="1968.05" width="39.01" height="0.15" fill="#c29b73"/>
<rect x="870.96" y="1965.28" width="39.01" height="2.78" fill="#f0b985"/>
<rect x="909.98" y="1967.23" width="39.01" height="0.97" fill="#f0b985"/>
<rect x="948.99" y="1967.71" width="39.01" height="0.49" fill="#f0b985"/>
<rect x="988" y="1967.96" width="39.01" height="0.24" fill="#f0b985"/>
<rect x="675.9" y="1602.55" width="39.01" height="365.65" fill="none" stroke="#000" stroke-width="1.6"/>
<rect x="675.9" y="1726.09" width="39.01" height="242.11" fill="none" stroke="#000" stroke-width="1.6"/>
<rect x="714.91" y="1877.74" width="39.01" height="90.46" fill="none" stroke="#000" stroke-width="1.6"/>
<rect x="714.91" y="1827.42" width="39.01" height="140.78" fill="none" stroke="#000" stroke-width="1.6"/>
<rect x="753.92" y="1944.33" width="39.01" height="23.87" fill="none" stroke="#000" stroke-width="1.6"/>
<rect x="753.92" y="1902.92" width="39.01" height="65.28" fill="none" stroke="#000" stroke-width="1.6"/>
<rect x="792.94" y="1962.84" width="39.01" height="5.36" fill="none" stroke="#000" stroke-width="1.6"/>
<rect x="792.94" y="1943.84" width="39.01" height="24.36" fill="none" stroke="#000" stroke-width="1.6"/>
<rect x="831.95" y="1967.47" width="39.01" height="0.73" fill="none" stroke="#000" stroke-width="1.6"/>
<rect x="831.95" y="1959.92" width="39.01" height="8.28" fill="none" stroke="#000" stroke-width="1.6"/>
<rect x="870.96" y="1968.05" width="39.01" height="0.15" fill="none" stroke="#000" stroke-width="1.6"/>
<rect x="870.96" y="1965.28" width="39.01" height="2.92" fill="none" stroke="#000" stroke-width="1.6"/>
<rect x="909.98" y="1967.23" width="39.01" height="0.97" fill="none" stroke="#000" stroke-width="1.6"/>
<rect x="948.99" y="1967.71" width="39.01" height="0.49" fill="none" stroke="#000" stroke-width="1.6"/>
<rect x="988" y="1967.96" width="39.01" height="0.24" fill="none" stroke="#000" stroke-width="1.6"/>
<rect x="658.9" y="1584.2" width="386.2" height="384" fill="none" stroke="#000" stroke-width="2"/>
<line x1="652.9" y1="1968.2" x2="658.9" y2="1968.2" stroke="#000" stroke-width="2"/>
<text x="649.9" y="1974.2" text-anchor="end">0.0</text>
<line x1="652.9" y1="1919.49" x2="658.9" y2="1919.49" stroke="#000" stroke-width="2"/>
<text x="649.9" y="1925.49" text-anchor="end">0.1</text>
<line x1="652.9" y1="1870.77" x2="658.9" y2="1870.77" stroke="#000" stroke-width="2"/>
<text x="649.9" y="1876.77" text-anchor="end">0.2</text>
<line x1="652.9" y1="1822.06" x2="658.9" y2="1822.06" stroke="#000" stroke-width="2"/>
<text x="649.9" y="1828.06" text-anchor="end">0.3</text>
<line x1="652.9" y1="1773.34" x2="658.9" y2="1773.34" stroke="#000" stroke-width="2"/>
<text x="649.9" y="1779.34" text-anchor="end">0.4</text>
<line x1="652.9" y1="1724.63" x2="658.9" y2="1724.63" stroke="#000" stroke-width="2"/>
<text x="649.9" y="1730.63" text-anchor="end">0.5</text>
<line x1="652.9" y1="1675.91" x2="658.9" y2="1675.91" stroke="#000" stroke-width="2"/>
<text x="649.9" y="1681.91" text-anchor="end">0.6</text>
<line x1="652.9" y1="1627.2" x2="658.9" y2="1627.2" stroke="#000" stroke-width="2"/>
<text x="649.9" y="1633.2" text-anchor="end">0.7</text>
<line x1="675.9" y1="1968.2" x2="675.9" y2="1974.2" stroke="#000" stroke-width="2"/>
<text x="675.9" y="1995.7" text-anchor="middle">0</text>
<line x1="753.92" y1="1968.2" x2="753.92" y2="1974.2" stroke="#000" stroke-width="2"/>
<text x="753.92" y="1995.7" text-anchor="middle">2</text>
<line x1="831.95" y1="1968.2" x2="831.95" y2="1974.2" stroke="#000" stroke-width="2"/>
<text x="831.95" y="1995.7" text-anchor="middle">4</text>
<line x1="909.98" y1="1968.2" x2="909.98" y2="1974.2" stroke="#000" stroke-width="2"/>
<text x="909.98" y="1995.7" text-anchor="middle">6</text>
<line x1="988" y1="1968.2" x2="988" y2="1974.2" stroke="#000" stroke-width="2"/>
<text x="988" y="1995.7" text-anchor="middle">8</text>
<rect x="871.8" y="1593" width="164.5" height="54.7" rx="4" fill="#fff" fill-opacity="0.85" stroke="#d6d6d6" stroke-width="1.5"/>
<rect x="882.5" y="1603.4" width="35.2" height="12.8" fill="#92beda" stroke="#000" stroke-width="1.6"/>
<rect x="882.5" y="1627.7" width="35.2" height="12.8" fill="#f0b985" stroke="#000" stroke-width="1.6"/>
<text x="932.5" y="1617.5">Shuffled</text>
<text x="932.5" y="1642">Actual</text>
<text x="601.5" y="1763.5" text-anchor="middle" transform="rotate(-90 601.5 1763.5)">Density</text>
<text x="853.2" y="2023.3" text-anchor="middle">Number of 2D-clusters</text>
<text x="1081.3" y="1558" style="font-size:34px;font-weight:bold">m</text>
<rect x="1193.8" y="1953.75" width="18.35" height="7.45" fill="#689ec4" stroke="#000" stroke-width="1.7"/>
<rect x="1212.15" y="1933.87" width="18.35" height="27.33" fill="#689ec4" stroke="#000" stroke-width="1.7"/>
<rect x="1230.49" y="1916.48" width="18.35" height="44.72" fill="#689ec4" stroke="#000" stroke-width="1.7"/>
<rect x="1248.84" y="1899.09" width="18.35" height="62.11" fill="#689ec4" stroke="#000" stroke-width="1.7"/>
<rect x="1267.19" y="1836.99" width="18.35" height="124.21" fill="#689ec4" stroke="#000" stroke-width="1.7"/>
<rect x="1285.53" y="1623.34" width="18.35" height="337.86" fill="#689ec4" stroke="#000" stroke-width="1.7"/>
<rect x="1303.88" y="1598.49" width="18.35" height="362.71" fill="#689ec4" stroke="#000" stroke-width="1.7"/>
<rect x="1322.23" y="1603.46" width="18.35" height="357.74" fill="#689ec4" stroke="#000" stroke-width="1.7"/>
<rect x="1340.57" y="1787.3" width="18.35" height="173.9" fill="#689ec4" stroke="#000" stroke-width="1.7"/>
<rect x="1358.92" y="1884.19" width="18.35" height="77.01" fill="#689ec4" stroke="#000" stroke-width="1.7"/>
<rect x="1377.27" y="1911.51" width="18.35" height="49.69" fill="#689ec4" stroke="#000" stroke-width="1.7"/>
<rect x="1395.61" y="1926.42" width="18.35" height="34.78" fill="#689ec4" stroke="#000" stroke-width="1.7"/>
<rect x="1413.96" y="1936.36" width="18.35" height="24.84" fill="#689ec4" stroke="#000" stroke-width="1.7"/>
<rect x="1432.31" y="1946.29" width="18.35" height="14.91" fill="#689ec4" stroke="#000" stroke-width="1.7"/>
<rect x="1450.65" y="1946.29" width="18.35" height="14.91" fill="#689ec4" stroke="#000" stroke-width="1.7"/>
<rect x="1469" y="1943.81" width="18.35" height="17.39" fill="#689ec4" stroke="#000" stroke-width="1.7"/>
<rect x="1487.35" y="1958.72" width="18.35" height="2.48" fill="#689ec4" stroke="#000" stroke-width="1.7"/>
<rect x="1524.04" y="1958.72" width="18.35" height="2.48" fill="#689ec4" stroke="#000" stroke-width="1.7"/>
<line x1="1317.09" y1="1580.5" x2="1317.09" y2="1960.5" stroke="#1b2a80" stroke-width="2" stroke-dasharray="22,11"/>
<rect x="1175.6" y="1579.8" width="384.2" height="381.4" fill="none" stroke="#000" stroke-width="2"/>
<line x1="1169.6" y1="1961.2" x2="1175.6" y2="1961.2" stroke="#000" stroke-width="2"/>
<text x="1166.6" y="1967.2" text-anchor="end">0</text>
<line x1="1169.6" y1="1911.51" x2="1175.6" y2="1911.51" stroke="#000" stroke-width="2"/>
<text x="1166.6" y="1917.51" text-anchor="end">20</text>
<line x1="1169.6" y1="1861.83" x2="1175.6" y2="1861.83" stroke="#000" stroke-width="2"/>
<text x="1166.6" y="1867.83" text-anchor="end">40</text>
<line x1="1169.6" y1="1812.14" x2="1175.6" y2="1812.14" stroke="#000" stroke-width="2"/>
<text x="1166.6" y="1818.14" text-anchor="end">60</text>
<line x1="1169.6" y1="1762.46" x2="1175.6" y2="1762.46" stroke="#000" stroke-width="2"/>
<text x="1166.6" y="1768.46" text-anchor="end">80</text>
<line x1="1169.6" y1="1712.77" x2="1175.6" y2="1712.77" stroke="#000" stroke-width="2"/>
<text x="1166.6" y="1718.77" text-anchor="end">100</text>
<line x1="1169.6" y1="1663.09" x2="1175.6" y2="1663.09" stroke="#000" stroke-width="2"/>
<text x="1166.6" y="1669.09" text-anchor="end">120</text>
<line x1="1169.6" y1="1613.4" x2="1175.6" y2="1613.4" stroke="#000" stroke-width="2"/>
<text x="1166.6" y="1619.4" text-anchor="end">140</text>
<line x1="1193.8" y1="1961.2" x2="1193.8" y2="1967.2" stroke="#000" stroke-width="2"/>
<text x="1193.8" y="1988.7" text-anchor="middle">0.5</text>
<line x1="1285.53" y1="1961.2" x2="1285.53" y2="1967.2" stroke="#000" stroke-width="2"/>
<text x="1285.53" y="1988.7" text-anchor="middle">1.0</text>
<line x1="1377.27" y1="1961.2" x2="1377.27" y2="1967.2" stroke="#000" stroke-width="2"/>
<text x="1377.27" y="1988.7" text-anchor="middle">1.5</text>
<line x1="1469" y1="1961.2" x2="1469" y2="1967.2" stroke="#000" stroke-width="2"/>
<text x="1469" y="1988.7" text-anchor="middle">2.0</text>
<text x="1338.1" y="1657.5" style="font-size:22.6px;fill:#2e5e9e">Median: 1.172</text>
<text x="1120" y="1765" text-anchor="middle" transform="rotate(-90 1120 1765)">Number of cells</text>
<text x="1353.4" y="2012.4" text-anchor="middle">Odds ratio</text>
<text x="5" y="2110.9" style="font-size:34px;font-weight:bold">n</text>
<path d="M81 2127h7v6h-7zM88 2133h6v7h-6zM94 2140h6v6h-6zM100 2146h7v6h-7zM107 2152h6v7h-6zM113 2159h7v6h-7zM120 2165h6v7h-6zM126 2172h6v6h-6zM132 2178h7v6h-7zM139 2184h6v7h-6zM145 2191h7v6h-7zM152 2197h6v7h-6zM158 2204h6v6h-6zM164 2210h7v6h-7zM171 2216h6v7h-6zM177 2223h7v6h-7zM184 2229h6v7h-6zM190 2236h6v6h-6zM196 2242h7v6h-7zM203 2248h6v7h-6zM209 2255h7v6h-7zM216 2261h6v7h-6zM222 2268h6v6h-6zM228 2274h7v6h-7zM235 2280h6v7h-6zM241 2287h7v6h-7zM248 2293h6v7h-6zM254 2300h6v6h-6zM260 2306h7v6h-7zM267 2312h6v7h-6zM273 2319h7v6h-7zM280 2325h6v7h-6zM286 2332h6v6h-6zM292 2338h7v6h-7zM299 2344h6v7h-6zM305 2351h7v6h-7zM312 2357h6v7h-6zM318 2364h6v6h-6zM324 2370h7v6h-7zM331 2376h6v7h-6zM337 2383h7v6h-7zM344 2389h6v7h-6zM350 2396h6v6h-6zM356 2402h7v6h-7zM363 2408h6v7h-6zM369 2415h7v6h-7zM376 2421h6v7h-6zM382 2428h7v6h-7zM389 2434h6v6h-6zM395 2440h6v7h-6zM401 2447h7v6h-7zM408 2453h6v7h-6zM414 2460h7v6h-7zM421 2466h6v6h-6zM427 2472h6v7h-6zM433 2479h7v6h-7zM440 2485h6v7h-6zM446 2492h7v6h-7zM453 2498h6v6h-6zM459 2504h6v7h-6z" fill="#ffffff" shape-rendering="crispEdges"/>
<path d="M88 2127h6v6h-6zM107 2159h6v6h-6zM126 2159h6v6h-6zM145 2178h7v6h-7zM177 2210h7v6h-7zM196 2229h7v7h-7zM228 2280h7v7h-7zM286 2325h6v7h-6zM344 2396h6v6h-6zM382 2434h7v6h-7zM382 2440h7v7h-7z" fill="#41050f" shape-rendering="crispEdges"/>
<path d="M94 2127h6v6h-6zM100 2133h7v7h-7zM139 2197h6v7h-6zM164 2197h7v7h-7zM152 2210h6v6h-6zM222 2255h6v6h-6zM241 2274h7v6h-7zM248 2306h6v6h-6zM363 2396h6v6h-6zM389 2447h6v6h-6zM414 2472h7v7h-7zM446 2479h7v6h-7zM440 2498h6v6h-6z" fill="#640a19" shape-rendering="crispEdges"/>
<path d="M100 2127h7v6h-7zM100 2159h7v6h-7zM100 2165h7v7h-7zM107 2165h6v7h-6zM81 2172h7v6h-7zM120 2184h6v7h-6zM158 2184h6v7h-6zM196 2261h7v7h-7zM254 2287h6v6h-6zM248 2312h6v7h-6zM305 2338h7v6h-7zM292 2351h7v6h-7zM344 2370h6v6h-6zM318 2389h6v7h-6zM331 2389h6v7h-6zM344 2408h6v7h-6zM363 2421h6v7h-6zM376 2434h6v6h-6zM401 2466h7v6h-7zM446 2466h7v6h-7z" fill="#870f23" shape-rendering="crispEdges"/>
<path d="M107 2127h6v6h-6zM113 2133h7v7h-7zM120 2133h6v7h-6zM139 2146h6v6h-6zM88 2159h6v6h-6zM139 2159h6v6h-6zM145 2165h7v7h-7zM152 2172h6v6h-6zM164 2172h7v6h-7zM107 2184h6v7h-6zM164 2184h7v7h-7zM132 2204h7v6h-7zM126 2210h6v6h-6zM139 2210h6v6h-6zM190 2210h6v6h-6zM145 2229h7v7h-7zM158 2229h6v7h-6zM222 2248h6v7h-6zM177 2255h7v6h-7zM190 2261h6v7h-6zM260 2274h7v6h-7zM260 2280h7v7h-7zM203 2293h6v7h-6zM209 2293h7v7h-7zM267 2293h6v7h-6zM209 2300h7v6h-7zM216 2312h6v7h-6zM241 2312h7v7h-7zM318 2319h6v6h-6zM324 2325h7v7h-7zM331 2325h6v7h-6zM324 2332h7v6h-7zM254 2338h6v6h-6zM260 2338h7v6h-7zM408 2421h6v7h-6zM421 2421h6v7h-6zM356 2428h7v6h-7zM376 2440h6v7h-6zM453 2440h6v7h-6zM427 2492h6v6h-6zM427 2504h6v7h-6z" fill="#b41928" shape-rendering="crispEdges"/>
<path d="M113 2127h7v6h-7zM158 2127h6v6h-6zM171 2127h6v6h-6zM145 2140h7v6h-7zM158 2146h6v6h-6zM177 2152h7v7h-7zM158 2159h6v6h-6zM190 2159h6v6h-6zM196 2172h7v6h-7zM81 2178h7v6h-7zM94 2184h6v7h-6zM171 2184h6v7h-6zM81 2191h7v6h-7zM196 2191h7v6h-7zM88 2197h6v7h-6zM196 2197h7v7h-7zM94 2216h6v7h-6zM107 2216h6v7h-6zM203 2216h6v7h-6zM228 2236h7v6h-7zM292 2255h7v6h-7zM177 2280h7v7h-7zM292 2280h7v7h-7zM331 2280h6v7h-6zM196 2293h7v7h-7zM305 2300h7v6h-7zM196 2306h7v6h-7zM203 2306h6v6h-6zM299 2306h6v6h-6zM312 2312h6v7h-6zM177 2319h7v6h-7zM216 2325h6v7h-6zM337 2325h7v7h-7zM216 2332h6v6h-6zM209 2357h7v7h-7zM209 2364h7v6h-7zM222 2364h6v6h-6zM363 2370h6v6h-6zM254 2376h6v7h-6zM369 2376h7v7h-7zM363 2383h6v6h-6zM382 2383h7v6h-7zM292 2389h7v7h-7zM305 2389h7v7h-7zM376 2389h6v7h-6zM273 2396h7v6h-7zM280 2396h6v6h-6zM414 2396h7v6h-7zM241 2402h7v6h-7zM433 2402h7v6h-7zM440 2402h6v6h-6zM312 2408h6v7h-6zM427 2408h6v7h-6zM433 2408h7v7h-7zM344 2415h6v6h-6zM459 2415h6v6h-6zM453 2428h6v6h-6zM350 2434h6v6h-6zM356 2434h7v6h-7zM440 2447h6v6h-6zM369 2472h7v7h-7zM414 2492h7v6h-7zM408 2504h6v7h-6z" fill="#d72323" shape-rendering="crispEdges"/>
<path d="M120 2127h6v6h-6zM132 2133h7v7h-7zM158 2140h6v6h-6zM145 2152h7v7h-7zM88 2165h6v7h-6zM94 2172h6v6h-6zM177 2184h7v7h-7zM190 2184h6v7h-6zM107 2191h6v6h-6zM171 2191h6v6h-6zM94 2210h6v6h-6zM145 2216h7v7h-7zM164 2236h7v6h-7zM216 2236h6v6h-6zM248 2255h6v6h-6zM248 2261h6v7h-6zM273 2274h7v6h-7zM190 2280h6v7h-6zM280 2280h6v7h-6zM190 2287h6v6h-6zM203 2287h6v6h-6zM216 2287h6v6h-6zM305 2293h7v7h-7zM196 2300h7v6h-7zM216 2300h6v6h-6zM222 2306h6v6h-6zM235 2306h6v6h-6zM318 2306h6v6h-6zM228 2312h7v7h-7zM305 2312h7v7h-7zM331 2312h6v7h-6zM209 2319h7v6h-7zM228 2319h7v6h-7zM299 2319h6v6h-6zM222 2325h6v7h-6zM248 2325h6v7h-6zM248 2332h6v6h-6zM248 2338h6v6h-6zM222 2344h6v7h-6zM241 2344h7v7h-7zM235 2364h6v6h-6zM299 2376h6v7h-6zM356 2376h7v7h-7zM363 2376h6v7h-6zM248 2383h6v6h-6zM356 2383h7v6h-7zM369 2383h7v6h-7zM312 2389h6v7h-6zM299 2396h6v6h-6zM324 2396h7v6h-7zM382 2396h7v6h-7zM389 2396h6v6h-6zM453 2396h6v6h-6zM414 2408h7v7h-7zM331 2415h6v6h-6zM395 2415h6v6h-6zM427 2428h6v6h-6zM433 2434h7v6h-7zM433 2447h7v6h-7zM446 2453h7v7h-7zM369 2466h7v6h-7zM382 2485h7v7h-7zM408 2492h6v6h-6zM421 2498h6v6h-6zM433 2504h7v7h-7z" fill="#c31e28" shape-rendering="crispEdges"/>
<path d="M126 2127h6v6h-6zM126 2140h6v6h-6zM81 2152h7v7h-7zM171 2152h6v7h-6zM94 2159h6v6h-6zM171 2172h6v6h-6zM107 2178h6v6h-6zM184 2197h6v7h-6zM132 2216h7v7h-7zM177 2261h7v7h-7zM184 2268h6v6h-6zM267 2280h6v7h-6zM286 2287h6v6h-6zM190 2293h6v7h-6zM216 2293h6v7h-6zM292 2293h7v7h-7zM184 2300h6v6h-6zM344 2312h6v7h-6zM196 2319h7v6h-7zM241 2325h7v7h-7zM312 2325h6v7h-6zM318 2325h6v7h-6zM254 2344h6v7h-6zM267 2351h6v6h-6zM280 2364h6v6h-6zM286 2370h6v6h-6zM267 2376h6v7h-6zM280 2389h6v7h-6zM421 2396h6v6h-6zM312 2402h6v6h-6zM318 2402h6v6h-6zM408 2415h6v6h-6zM350 2421h6v7h-6zM401 2421h7v7h-7zM446 2460h7v6h-7zM408 2472h6v7h-6zM408 2479h6v6h-6zM459 2479h6v6h-6zM389 2485h6v7h-6zM414 2498h7v6h-7zM414 2504h7v7h-7zM421 2504h6v7h-6z" fill="#be1e28" shape-rendering="crispEdges"/>
<path d="M132 2127h7v6h-7zM126 2133h6v7h-6zM126 2146h6v6h-6zM139 2152h6v7h-6zM171 2165h6v7h-6zM88 2172h6v6h-6zM203 2197h6v7h-6zM107 2204h6v6h-6zM113 2204h7v6h-7zM120 2210h6v6h-6zM164 2229h7v7h-7zM241 2255h7v6h-7zM177 2268h7v6h-7zM190 2268h6v6h-6zM254 2268h6v6h-6zM273 2287h7v6h-7zM280 2287h6v6h-6zM177 2300h7v6h-7zM209 2306h7v6h-7zM292 2306h7v6h-7zM241 2319h7v6h-7zM248 2319h6v6h-6zM337 2344h7v7h-7zM299 2383h6v6h-6zM299 2389h6v7h-6zM305 2396h7v6h-7zM395 2396h6v6h-6zM382 2402h7v6h-7zM324 2408h7v7h-7zM389 2415h6v6h-6zM356 2421h7v7h-7zM414 2421h7v7h-7zM421 2434h6v6h-6zM427 2434h6v6h-6zM440 2453h6v7h-6zM440 2460h6v6h-6zM389 2466h6v6h-6z" fill="#b91e28" shape-rendering="crispEdges"/>
<path d="M139 2127h6v6h-6zM203 2133h6v7h-6zM164 2146h7v6h-7zM88 2178h6v6h-6zM88 2191h6v6h-6zM88 2216h6v7h-6zM100 2216h7v7h-7zM139 2223h6v6h-6zM228 2223h7v6h-7zM254 2242h6v6h-6zM324 2268h7v6h-7zM318 2274h6v6h-6zM331 2287h6v6h-6zM337 2293h7v7h-7zM344 2300h6v6h-6zM331 2319h6v6h-6zM184 2325h6v7h-6zM177 2332h7v6h-7zM203 2332h6v6h-6zM337 2338h7v6h-7zM216 2344h6v7h-6zM184 2351h6v6h-6zM235 2351h6v6h-6zM248 2351h6v6h-6zM344 2357h6v7h-6zM350 2357h6v7h-6zM369 2357h7v7h-7zM228 2364h7v6h-7zM235 2370h6v6h-6zM209 2376h7v7h-7zM382 2376h7v7h-7zM254 2383h6v6h-6zM260 2389h7v7h-7zM389 2389h6v7h-6zM267 2396h6v6h-6zM427 2396h6v6h-6zM267 2402h6v6h-6zM292 2402h7v6h-7zM299 2402h6v6h-6zM459 2408h6v7h-6zM312 2415h6v6h-6zM440 2415h6v6h-6zM337 2428h7v6h-7zM376 2472h6v7h-6zM382 2504h7v7h-7z" fill="#e63228" shape-rendering="crispEdges"/>
<path d="M145 2127h7v6h-7zM184 2127h6v6h-6zM184 2140h6v6h-6zM203 2159h6v6h-6zM203 2165h6v7h-6zM139 2229h6v7h-6zM152 2229h6v7h-6zM254 2229h6v7h-6zM145 2242h7v6h-7zM241 2242h7v6h-7zM312 2255h6v6h-6zM158 2261h6v7h-6zM164 2261h7v7h-7zM305 2261h7v7h-7zM312 2261h6v7h-6zM273 2268h7v6h-7zM305 2268h7v6h-7zM171 2274h6v6h-6zM318 2280h6v7h-6zM337 2287h7v6h-7zM318 2300h6v6h-6zM331 2300h6v6h-6zM177 2306h7v6h-7zM190 2306h6v6h-6zM324 2306h7v6h-7zM190 2319h6v6h-6zM196 2325h7v7h-7zM209 2344h7v7h-7zM209 2351h7v6h-7zM228 2351h7v6h-7zM203 2364h6v6h-6zM369 2364h7v6h-7zM184 2370h6v6h-6zM203 2370h6v6h-6zM292 2376h7v7h-7zM222 2383h6v6h-6zM280 2383h6v6h-6zM401 2383h7v6h-7zM209 2389h7v7h-7zM216 2389h6v7h-6zM190 2396h6v6h-6zM196 2402h7v6h-7zM273 2402h7v6h-7zM401 2402h7v6h-7zM241 2408h7v7h-7zM267 2408h6v7h-6zM286 2408h6v7h-6zM453 2421h6v7h-6zM363 2453h6v7h-6zM356 2460h7v6h-7zM363 2466h6v6h-6zM389 2504h6v7h-6z" fill="#e63c28" shape-rendering="crispEdges"/>
<path d="M152 2127h6v6h-6zM145 2133h7v7h-7zM139 2140h6v6h-6zM164 2140h7v6h-7zM152 2146h6v6h-6zM196 2146h7v6h-7zM158 2172h6v6h-6zM171 2178h6v6h-6zM184 2184h6v7h-6zM177 2191h7v6h-7zM203 2191h6v6h-6zM94 2197h6v7h-6zM81 2216h7v7h-7zM145 2223h7v6h-7zM216 2229h6v7h-6zM158 2236h6v6h-6zM228 2242h7v6h-7zM171 2248h6v7h-6zM235 2248h6v7h-6zM254 2261h6v7h-6zM248 2268h6v6h-6zM190 2274h6v6h-6zM280 2274h6v6h-6zM305 2274h7v6h-7zM292 2287h7v6h-7zM324 2312h7v7h-7zM216 2319h6v6h-6zM235 2319h6v6h-6zM305 2319h7v6h-7zM344 2319h6v6h-6zM254 2332h6v6h-6zM228 2344h7v7h-7zM216 2351h6v6h-6zM267 2357h6v7h-6zM248 2364h6v6h-6zM267 2364h6v6h-6zM286 2364h6v6h-6zM254 2370h6v6h-6zM292 2370h7v6h-7zM356 2370h7v6h-7zM292 2383h7v6h-7zM382 2389h7v7h-7zM453 2408h6v7h-6zM427 2421h6v7h-6zM446 2421h7v7h-7zM421 2428h6v6h-6zM433 2428h7v6h-7zM395 2472h6v7h-6zM459 2472h6v7h-6zM369 2479h7v6h-7zM376 2498h6v6h-6zM389 2498h6v6h-6zM395 2498h6v6h-6zM376 2504h6v7h-6zM401 2504h7v7h-7z" fill="#d22323" shape-rendering="crispEdges"/>
<path d="M164 2127h7v6h-7zM139 2133h6v7h-6zM164 2165h7v7h-7zM81 2197h7v7h-7zM171 2236h6v6h-6zM171 2242h6v6h-6zM344 2255h6v6h-6zM292 2261h7v7h-7zM184 2287h6v6h-6zM286 2300h6v6h-6zM228 2332h7v6h-7zM216 2370h6v6h-6zM395 2402h6v6h-6zM427 2402h6v6h-6zM382 2447h7v6h-7zM459 2453h6v7h-6zM453 2466h6v6h-6zM382 2472h7v7h-7zM389 2472h6v7h-6zM376 2479h6v6h-6z" fill="#c82323" shape-rendering="crispEdges"/>
<path d="M177 2127h7v6h-7zM158 2133h6v7h-6zM203 2184h6v7h-6zM222 2229h6v7h-6zM248 2236h6v6h-6zM158 2248h6v7h-6zM152 2255h6v6h-6zM324 2255h7v6h-7zM177 2274h7v6h-7zM312 2280h6v7h-6zM324 2287h7v6h-7zM184 2293h6v7h-6zM324 2293h7v7h-7zM312 2300h6v6h-6zM337 2306h7v6h-7zM184 2319h6v6h-6zM350 2319h6v6h-6zM222 2338h6v6h-6zM196 2344h7v7h-7zM235 2344h6v7h-6zM260 2344h7v7h-7zM203 2357h6v7h-6zM216 2357h6v7h-6zM235 2357h6v7h-6zM184 2364h6v6h-6zM216 2364h6v6h-6zM260 2383h7v6h-7zM376 2383h6v6h-6zM389 2383h6v6h-6zM241 2396h7v6h-7zM453 2415h6v6h-6zM337 2421h7v7h-7zM344 2421h6v7h-6zM459 2428h6v6h-6zM331 2434h6v6h-6zM350 2460h6v6h-6zM369 2498h7v6h-7z" fill="#e63728" shape-rendering="crispEdges"/>
<path d="M190 2127h6v6h-6zM305 2306h7v6h-7zM260 2364h7v6h-7zM267 2370h6v6h-6zM369 2453h7v7h-7z" fill="#c81e28" shape-rendering="crispEdges"/>
<path d="M196 2127h7v6h-7zM209 2204h7v6h-7zM209 2210h7v6h-7zM216 2210h6v6h-6zM241 2236h7v6h-7zM337 2255h7v6h-7zM337 2300h7v6h-7zM312 2319h6v6h-6zM184 2344h6v7h-6zM190 2351h6v6h-6zM376 2351h6v6h-6zM190 2364h6v6h-6zM382 2370h7v6h-7zM216 2383h6v6h-6zM267 2383h6v6h-6zM203 2408h6v7h-6zM382 2492h7v6h-7z" fill="#e6462d" shape-rendering="crispEdges"/>
<path d="M203 2127h6v6h-6zM216 2184h6v7h-6zM235 2216h6v7h-6zM113 2223h7v6h-7zM94 2229h6v7h-6zM132 2229h7v7h-7zM152 2261h6v7h-6zM356 2312h7v7h-7zM382 2351h7v6h-7zM196 2364h7v6h-7zM395 2364h6v6h-6zM190 2370h6v6h-6zM190 2383h6v6h-6zM286 2402h6v6h-6zM177 2408h7v7h-7zM196 2408h7v7h-7zM331 2421h6v7h-6zM324 2434h7v6h-7zM344 2440h6v7h-6z" fill="#eb552d" shape-rendering="crispEdges"/>
<path d="M209 2127h7v6h-7zM228 2127h7v6h-7zM318 2140h6v6h-6zM260 2146h7v6h-7zM267 2146h6v6h-6zM299 2146h6v6h-6zM241 2152h7v7h-7zM248 2159h6v6h-6zM267 2165h6v7h-6zM305 2165h7v7h-7zM312 2165h6v7h-6zM273 2172h7v6h-7zM280 2172h6v6h-6zM260 2178h7v6h-7zM280 2178h6v6h-6zM292 2184h7v7h-7zM318 2184h6v7h-6zM324 2184h7v7h-7zM299 2191h6v6h-6zM318 2191h6v6h-6zM292 2197h7v7h-7zM331 2197h6v7h-6zM324 2204h7v6h-7zM344 2210h6v6h-6zM350 2210h6v6h-6zM363 2216h6v7h-6zM376 2223h6v6h-6zM408 2223h6v6h-6zM376 2236h6v6h-6zM382 2236h7v6h-7zM389 2242h6v6h-6zM395 2242h6v6h-6zM369 2248h7v7h-7zM81 2255h7v6h-7zM363 2261h6v7h-6zM356 2268h7v6h-7zM382 2268h7v6h-7zM408 2268h6v6h-6zM414 2268h7v6h-7zM414 2274h7v6h-7zM88 2280h6v7h-6zM107 2280h6v7h-6zM408 2287h6v6h-6zM382 2293h7v7h-7zM395 2293h6v7h-6zM427 2293h6v7h-6zM421 2300h6v6h-6zM107 2306h6v6h-6zM459 2306h6v6h-6zM88 2312h6v7h-6zM107 2312h6v7h-6zM113 2312h7v7h-7zM126 2312h6v7h-6zM139 2312h6v7h-6zM94 2319h6v6h-6zM433 2319h7v6h-7zM395 2325h6v7h-6zM113 2332h7v6h-7zM158 2332h6v6h-6zM81 2338h7v6h-7zM120 2338h6v6h-6zM139 2338h6v6h-6zM113 2344h7v7h-7zM132 2351h7v6h-7zM145 2351h7v6h-7zM152 2351h6v6h-6zM459 2351h6v6h-6zM152 2357h6v7h-6zM120 2364h6v6h-6zM152 2364h6v6h-6zM427 2364h6v6h-6zM132 2370h7v6h-7zM145 2370h7v6h-7zM453 2370h6v6h-6zM120 2376h6v7h-6zM248 2421h6v7h-6zM216 2434h6v6h-6zM235 2447h6v6h-6zM241 2447h7v6h-7zM216 2460h6v6h-6zM273 2460h7v6h-7zM280 2460h6v6h-6zM235 2472h6v7h-6zM228 2485h7v7h-7zM254 2485h6v7h-6zM273 2492h7v6h-7zM286 2492h6v6h-6zM337 2492h7v6h-7zM235 2498h6v6h-6zM273 2498h7v6h-7zM318 2498h6v6h-6zM273 2504h7v7h-7zM299 2504h6v7h-6zM324 2504h7v7h-7z" fill="#eba54b" shape-rendering="crispEdges"/>
<path d="M216 2127h6v6h-6zM273 2140h7v6h-7zM324 2172h7v6h-7zM273 2191h7v6h-7zM248 2204h6v6h-6zM305 2223h7v6h-7zM337 2229h7v7h-7zM337 2248h7v7h-7zM100 2255h7v6h-7zM107 2261h6v7h-6zM120 2280h6v7h-6zM81 2293h7v7h-7zM356 2293h7v7h-7zM120 2300h6v6h-6zM164 2306h7v6h-7zM94 2312h6v7h-6zM369 2312h7v7h-7zM88 2325h6v7h-6zM421 2325h6v7h-6zM152 2332h6v6h-6zM164 2338h7v6h-7zM433 2344h7v7h-7zM433 2351h7v6h-7zM401 2357h7v7h-7zM459 2357h6v7h-6zM171 2364h6v6h-6zM421 2364h6v6h-6zM440 2376h6v7h-6zM196 2415h7v6h-7zM228 2421h7v7h-7zM228 2428h7v6h-7zM280 2447h6v6h-6zM292 2447h7v6h-7zM305 2498h7v6h-7zM337 2504h7v7h-7z" fill="#f09146" shape-rendering="crispEdges"/>
<path d="M222 2127h6v6h-6zM254 2127h6v6h-6zM254 2133h6v7h-6zM280 2133h6v7h-6zM235 2140h6v6h-6zM241 2140h7v6h-7zM280 2146h6v6h-6zM260 2159h7v6h-7zM267 2159h6v6h-6zM248 2165h6v7h-6zM286 2165h6v7h-6zM292 2165h7v7h-7zM209 2172h7v6h-7zM273 2184h7v7h-7zM305 2184h7v7h-7zM267 2191h6v6h-6zM267 2197h6v7h-6zM273 2197h7v7h-7zM286 2204h6v6h-6zM305 2204h7v6h-7zM280 2210h6v6h-6zM241 2216h7v7h-7zM286 2216h6v7h-6zM312 2216h6v7h-6zM81 2223h7v6h-7zM292 2229h7v7h-7zM312 2229h6v7h-6zM113 2236h7v6h-7zM337 2236h7v6h-7zM363 2242h6v6h-6zM81 2248h7v7h-7zM350 2248h6v7h-6zM88 2255h6v6h-6zM382 2261h7v7h-7zM395 2261h6v7h-6zM88 2268h6v6h-6zM94 2268h6v6h-6zM81 2274h7v6h-7zM107 2274h6v6h-6zM139 2280h6v7h-6zM356 2280h7v7h-7zM389 2280h6v7h-6zM363 2287h6v6h-6zM382 2287h7v6h-7zM433 2287h7v6h-7zM401 2293h7v7h-7zM408 2293h6v7h-6zM376 2300h6v6h-6zM145 2306h7v6h-7zM440 2306h6v6h-6zM408 2312h6v7h-6zM433 2312h7v7h-7zM446 2312h7v7h-7zM171 2319h6v6h-6zM446 2325h7v7h-7zM113 2338h7v6h-7zM401 2338h7v6h-7zM433 2338h7v6h-7zM459 2338h6v6h-6zM139 2344h6v7h-6zM145 2344h7v7h-7zM421 2344h6v7h-6zM427 2344h6v7h-6zM408 2357h6v7h-6zM414 2364h7v6h-7zM459 2364h6v6h-6zM158 2370h6v6h-6zM446 2376h7v7h-7zM241 2421h7v7h-7zM228 2434h7v6h-7zM254 2434h6v6h-6zM260 2434h7v6h-7zM292 2440h7v7h-7zM273 2447h7v6h-7zM318 2447h6v6h-6zM248 2460h6v6h-6zM260 2466h7v6h-7zM248 2472h6v7h-6zM254 2472h6v7h-6zM260 2472h7v7h-7zM267 2472h6v7h-6zM280 2472h6v7h-6zM331 2472h6v7h-6zM299 2479h6v6h-6zM299 2485h6v7h-6zM312 2492h6v6h-6zM292 2504h7v7h-7zM331 2504h6v7h-6zM350 2504h6v7h-6z" fill="#f09646" shape-rendering="crispEdges"/>
<path d="M235 2127h6v6h-6zM241 2127h7v6h-7zM248 2133h6v7h-6zM235 2152h6v7h-6zM292 2152h7v7h-7zM299 2159h6v6h-6zM267 2172h6v6h-6zM286 2172h6v6h-6zM324 2191h7v6h-7zM344 2197h6v7h-6zM312 2210h6v6h-6zM331 2210h6v6h-6zM292 2216h7v7h-7zM350 2216h6v7h-6zM363 2223h6v6h-6zM369 2223h7v6h-7zM305 2236h7v6h-7zM312 2236h6v6h-6zM286 2242h6v6h-6zM421 2242h6v6h-6zM312 2248h6v7h-6zM369 2255h7v6h-7zM94 2261h6v7h-6zM81 2268h7v6h-7zM113 2268h7v6h-7zM389 2268h6v6h-6zM401 2268h7v6h-7zM100 2274h7v6h-7zM363 2274h6v6h-6zM382 2274h7v6h-7zM433 2274h7v6h-7zM107 2293h6v7h-6zM369 2293h7v7h-7zM88 2300h6v6h-6zM382 2300h7v6h-7zM88 2306h6v6h-6zM132 2312h7v7h-7zM139 2319h6v6h-6zM453 2319h6v6h-6zM100 2325h7v7h-7zM139 2325h6v7h-6zM145 2338h7v6h-7zM158 2338h6v6h-6zM414 2338h7v6h-7zM164 2344h7v7h-7zM453 2351h6v6h-6zM107 2370h6v6h-6zM152 2376h6v7h-6zM171 2376h6v7h-6zM171 2396h6v6h-6zM184 2421h6v7h-6zM196 2428h7v6h-7zM241 2428h7v6h-7zM248 2428h6v6h-6zM267 2428h6v6h-6zM235 2440h6v7h-6zM260 2447h7v6h-7zM267 2453h6v7h-6zM235 2460h6v6h-6zM292 2460h7v6h-7zM312 2466h6v6h-6zM286 2472h6v7h-6zM318 2472h6v7h-6zM305 2485h7v7h-7zM331 2485h6v7h-6zM280 2492h6v6h-6zM324 2492h7v6h-7zM280 2498h6v6h-6zM331 2498h6v6h-6z" fill="#eba04b" shape-rendering="crispEdges"/>
<path d="M248 2127h6v6h-6zM260 2133h7v7h-7zM228 2140h7v6h-7zM280 2140h6v6h-6zM222 2146h6v6h-6zM235 2146h6v6h-6zM228 2152h7v7h-7zM241 2159h7v6h-7zM286 2159h6v6h-6zM292 2172h7v6h-7zM254 2178h6v6h-6zM318 2178h6v6h-6zM299 2197h6v7h-6zM318 2197h6v7h-6zM260 2204h7v6h-7zM299 2204h6v6h-6zM376 2204h6v6h-6zM286 2229h6v7h-6zM94 2236h6v6h-6zM369 2236h7v6h-7zM324 2242h7v6h-7zM369 2242h7v6h-7zM356 2255h7v6h-7zM376 2255h6v6h-6zM113 2261h7v7h-7zM356 2261h7v7h-7zM100 2268h7v6h-7zM401 2287h7v6h-7zM88 2293h6v7h-6zM369 2300h7v6h-7zM401 2312h7v7h-7zM113 2319h7v6h-7zM421 2319h6v6h-6zM446 2319h7v6h-7zM389 2325h6v7h-6zM401 2332h7v6h-7zM421 2332h6v6h-6zM446 2332h7v6h-7zM100 2338h7v6h-7zM446 2351h7v6h-7zM164 2357h7v7h-7zM164 2364h7v6h-7zM453 2364h6v6h-6zM139 2370h6v6h-6zM164 2376h7v7h-7zM248 2415h6v6h-6zM235 2428h6v6h-6zM209 2434h7v6h-7zM235 2434h6v6h-6zM241 2434h7v6h-7zM280 2434h6v6h-6zM254 2447h6v6h-6zM286 2453h6v7h-6zM260 2460h7v6h-7zM292 2466h7v6h-7zM324 2466h7v6h-7zM228 2472h7v7h-7zM273 2472h7v7h-7zM292 2492h7v6h-7zM350 2498h6v6h-6zM267 2504h6v7h-6z" fill="#eb9b46" shape-rendering="crispEdges"/>
<path d="M260 2127h7v6h-7zM254 2140h6v6h-6zM260 2140h7v6h-7zM241 2146h7v6h-7zM292 2146h7v6h-7zM248 2152h6v7h-6zM286 2152h6v7h-6zM280 2159h6v6h-6zM273 2165h7v7h-7zM312 2172h6v6h-6zM331 2172h6v6h-6zM286 2178h6v6h-6zM363 2184h6v7h-6zM337 2197h7v7h-7zM318 2204h6v6h-6zM331 2204h6v6h-6zM363 2204h6v6h-6zM299 2210h6v6h-6zM324 2216h7v7h-7zM376 2216h6v7h-6zM299 2223h6v6h-6zM318 2223h6v6h-6zM344 2229h6v7h-6zM350 2229h6v7h-6zM344 2242h6v6h-6zM414 2242h7v6h-7zM414 2248h7v7h-7zM401 2255h7v6h-7zM421 2255h6v6h-6zM446 2274h7v6h-7zM414 2280h7v7h-7zM94 2293h6v7h-6zM376 2293h6v7h-6zM100 2300h7v6h-7zM408 2300h6v6h-6zM446 2306h7v6h-7zM100 2312h7v7h-7zM88 2319h6v6h-6zM132 2319h7v6h-7zM414 2319h7v6h-7zM440 2325h6v7h-6zM132 2332h7v6h-7zM100 2344h7v7h-7zM107 2344h6v7h-6zM88 2351h6v6h-6zM94 2357h6v7h-6zM107 2357h6v7h-6zM139 2357h6v7h-6zM158 2357h6v7h-6zM164 2383h7v6h-7zM152 2389h6v7h-6zM164 2389h7v7h-7zM132 2402h7v6h-7zM158 2402h6v6h-6zM171 2402h6v6h-6zM190 2415h6v6h-6zM216 2415h6v6h-6zM235 2421h6v7h-6zM171 2434h6v6h-6zM248 2440h6v7h-6zM267 2466h6v6h-6zM260 2479h7v6h-7zM312 2479h6v6h-6zM260 2485h7v7h-7zM273 2485h7v7h-7zM286 2485h6v7h-6zM324 2485h7v7h-7zM254 2492h6v6h-6zM254 2498h6v6h-6zM305 2504h7v7h-7z" fill="#f0aa50" shape-rendering="crispEdges"/>
<path d="M267 2127h6v6h-6zM280 2127h6v6h-6zM331 2152h6v7h-6zM382 2152h7v7h-7zM337 2159h7v6h-7zM382 2178h7v6h-7zM369 2184h7v7h-7zM389 2191h6v6h-6zM356 2197h7v7h-7zM427 2197h6v7h-6zM421 2204h6v6h-6zM389 2248h6v7h-6zM446 2261h7v7h-7zM113 2306h7v6h-7zM94 2338h6v6h-6zM113 2357h7v7h-7zM132 2389h7v7h-7zM126 2396h6v6h-6zM139 2396h6v6h-6zM126 2402h6v6h-6zM152 2408h6v7h-6zM164 2421h7v7h-7zM120 2434h6v6h-6zM152 2440h6v7h-6zM158 2447h6v6h-6zM139 2460h6v6h-6zM158 2460h6v6h-6zM171 2460h6v6h-6zM216 2466h6v6h-6zM177 2485h7v7h-7zM196 2485h7v7h-7zM216 2492h6v6h-6zM222 2498h6v6h-6z" fill="#f0c869" shape-rendering="crispEdges"/>
<path d="M273 2127h7v6h-7zM235 2133h6v7h-6zM267 2152h6v7h-6zM260 2172h7v6h-7zM260 2184h7v7h-7zM273 2204h7v6h-7zM363 2248h6v7h-6zM363 2280h6v7h-6zM395 2280h6v7h-6zM408 2280h6v7h-6zM395 2287h6v6h-6zM421 2287h6v6h-6zM427 2287h6v6h-6zM132 2293h7v7h-7zM414 2300h7v6h-7zM94 2306h6v6h-6zM389 2306h6v6h-6zM395 2312h6v7h-6zM414 2312h7v7h-7zM408 2319h6v6h-6zM107 2325h6v7h-6zM120 2325h6v7h-6zM81 2332h7v6h-7zM120 2332h6v6h-6zM145 2332h7v6h-7zM107 2338h6v6h-6zM152 2344h6v7h-6zM158 2344h6v7h-6zM459 2344h6v7h-6zM427 2357h6v7h-6zM100 2364h7v6h-7zM100 2370h7v6h-7zM158 2376h6v7h-6zM177 2415h7v6h-7zM267 2421h6v7h-6zM177 2428h7v6h-7zM273 2434h7v6h-7zM228 2440h7v7h-7zM254 2440h6v7h-6zM280 2466h6v6h-6zM305 2492h7v6h-7zM286 2504h6v7h-6z" fill="#ebaa50" shape-rendering="crispEdges"/>
<path d="M286 2127h6v6h-6zM299 2127h6v6h-6zM267 2133h6v7h-6zM267 2140h6v6h-6zM292 2140h7v6h-7zM312 2140h6v6h-6zM344 2140h6v6h-6zM344 2146h6v6h-6zM318 2152h6v7h-6zM292 2159h7v6h-7zM350 2165h6v7h-6zM331 2178h6v6h-6zM376 2178h6v6h-6zM344 2184h6v7h-6zM350 2184h6v7h-6zM401 2197h7v7h-7zM401 2204h7v6h-7zM356 2210h7v6h-7zM376 2210h6v6h-6zM382 2216h7v7h-7zM369 2229h7v7h-7zM389 2229h6v7h-6zM350 2236h6v6h-6zM401 2236h7v6h-7zM408 2242h6v6h-6zM376 2248h6v7h-6zM395 2248h6v7h-6zM421 2248h6v7h-6zM408 2255h6v6h-6zM414 2261h7v7h-7zM433 2261h7v7h-7zM459 2261h6v7h-6zM421 2268h6v6h-6zM433 2268h7v6h-7zM453 2268h6v6h-6zM459 2268h6v6h-6zM440 2293h6v7h-6zM440 2300h6v6h-6zM446 2300h7v6h-7zM459 2300h6v6h-6zM81 2312h7v7h-7zM459 2312h6v7h-6zM440 2319h6v6h-6zM88 2332h6v6h-6zM88 2357h6v7h-6zM100 2357h7v7h-7zM453 2357h6v7h-6zM126 2364h6v6h-6zM94 2370h6v6h-6zM139 2376h6v7h-6zM120 2383h6v6h-6zM158 2383h6v6h-6zM120 2396h6v6h-6zM94 2402h6v6h-6zM164 2402h7v6h-7zM132 2408h7v7h-7zM145 2408h7v7h-7zM158 2408h6v7h-6zM171 2415h6v6h-6zM152 2421h6v7h-6zM190 2421h6v7h-6zM196 2421h7v7h-7zM152 2434h6v6h-6zM177 2434h7v6h-7zM190 2434h6v6h-6zM203 2434h6v6h-6zM145 2440h7v7h-7zM152 2447h6v6h-6zM164 2447h7v6h-7zM196 2447h7v6h-7zM203 2447h6v6h-6zM203 2453h6v7h-6zM216 2453h6v7h-6zM241 2453h7v7h-7zM260 2453h7v7h-7zM203 2472h6v7h-6zM241 2472h7v7h-7zM222 2485h6v7h-6zM241 2485h7v7h-7zM228 2492h7v6h-7zM241 2492h7v6h-7zM267 2492h6v6h-6zM209 2498h7v6h-7zM228 2498h7v6h-7zM203 2504h6v7h-6zM216 2504h6v7h-6z" fill="#f0be5f" shape-rendering="crispEdges"/>
<path d="M292 2127h7v6h-7zM350 2127h6v6h-6zM337 2133h7v7h-7zM356 2133h7v7h-7zM350 2140h6v6h-6zM369 2152h7v7h-7zM356 2165h7v7h-7zM395 2165h6v7h-6zM305 2172h7v6h-7zM337 2172h7v6h-7zM376 2172h6v6h-6zM408 2172h6v6h-6zM337 2178h7v6h-7zM389 2178h6v6h-6zM356 2184h7v7h-7zM376 2184h6v7h-6zM382 2184h7v7h-7zM363 2191h6v6h-6zM376 2191h6v6h-6zM382 2191h7v6h-7zM427 2191h6v6h-6zM369 2197h7v7h-7zM408 2197h6v7h-6zM363 2210h6v6h-6zM401 2216h7v7h-7zM414 2216h7v7h-7zM421 2216h6v7h-6zM414 2223h7v6h-7zM421 2223h6v6h-6zM427 2248h6v7h-6zM395 2255h6v6h-6zM453 2255h6v6h-6zM453 2261h6v7h-6zM94 2332h6v6h-6zM81 2351h7v6h-7zM120 2389h6v7h-6zM94 2396h6v6h-6zM107 2402h6v6h-6zM107 2408h6v7h-6zM126 2408h6v7h-6zM132 2415h7v6h-7zM139 2415h6v6h-6zM88 2421h6v7h-6zM100 2421h7v7h-7zM120 2421h6v7h-6zM107 2428h6v6h-6zM113 2434h7v6h-7zM132 2440h7v7h-7zM164 2440h7v7h-7zM152 2453h6v7h-6zM190 2460h6v6h-6zM152 2466h6v6h-6zM177 2466h7v6h-7zM190 2472h6v7h-6zM139 2479h6v6h-6zM203 2479h6v6h-6zM196 2492h7v6h-7zM177 2498h7v6h-7zM241 2498h7v6h-7zM164 2504h7v7h-7z" fill="#f0d26e" shape-rendering="crispEdges"/>
<path d="M305 2127h7v6h-7zM363 2133h6v7h-6zM408 2159h6v6h-6zM363 2165h6v7h-6zM369 2172h7v6h-7zM408 2204h6v6h-6zM433 2223h7v6h-7zM88 2383h6v6h-6zM88 2396h6v6h-6zM177 2472h7v7h-7zM171 2485h6v7h-6zM171 2498h6v6h-6z" fill="#f0cd6e" shape-rendering="crispEdges"/>
<path d="M312 2127h6v6h-6zM331 2127h6v6h-6zM312 2133h6v7h-6zM318 2133h6v7h-6zM331 2133h6v7h-6zM324 2140h7v6h-7zM305 2146h7v6h-7zM337 2146h7v6h-7zM260 2152h7v7h-7zM312 2152h6v7h-6zM363 2152h6v7h-6zM337 2165h7v7h-7zM414 2178h7v6h-7zM369 2191h7v6h-7zM389 2197h6v7h-6zM389 2204h6v6h-6zM414 2210h7v6h-7zM395 2216h6v7h-6zM389 2223h6v6h-6zM459 2223h6v6h-6zM421 2236h6v6h-6zM401 2242h7v6h-7zM427 2255h6v6h-6zM440 2255h6v6h-6zM440 2268h6v6h-6zM401 2274h7v6h-7zM427 2280h6v7h-6zM446 2280h7v7h-7zM440 2287h6v6h-6zM427 2312h6v7h-6zM459 2325h6v7h-6zM94 2351h6v6h-6zM113 2370h7v6h-7zM88 2376h6v7h-6zM94 2383h6v6h-6zM113 2383h7v6h-7zM88 2389h6v7h-6zM139 2389h6v7h-6zM145 2396h7v6h-7zM139 2402h6v6h-6zM152 2402h6v6h-6zM139 2408h6v7h-6zM107 2415h6v6h-6zM145 2415h7v6h-7zM184 2428h6v6h-6zM184 2434h6v6h-6zM158 2440h6v7h-6zM184 2453h6v7h-6zM222 2453h6v7h-6zM177 2460h7v6h-7zM184 2466h6v6h-6zM222 2466h6v6h-6zM235 2466h6v6h-6zM248 2466h6v6h-6zM171 2472h6v7h-6zM216 2479h6v6h-6zM222 2479h6v6h-6zM241 2479h7v6h-7zM203 2485h6v7h-6zM196 2498h7v6h-7zM241 2504h7v7h-7z" fill="#f0c364" shape-rendering="crispEdges"/>
<path d="M318 2127h6v6h-6zM222 2172h6v6h-6zM312 2191h6v6h-6zM299 2216h6v7h-6zM318 2216h6v7h-6zM421 2312h6v7h-6zM107 2351h6v6h-6zM126 2370h6v6h-6zM299 2434h6v6h-6zM267 2460h6v6h-6zM337 2472h7v7h-7zM267 2498h6v6h-6zM292 2498h7v6h-7z" fill="#f09b46" shape-rendering="crispEdges"/>
<path d="M324 2127h7v6h-7zM305 2133h7v7h-7zM299 2140h6v6h-6zM324 2146h7v6h-7zM363 2146h6v6h-6zM382 2159h7v6h-7zM389 2159h6v6h-6zM331 2165h6v7h-6zM344 2165h6v7h-6zM369 2165h7v7h-7zM350 2172h6v6h-6zM369 2178h7v6h-7zM337 2191h7v6h-7zM395 2191h6v6h-6zM408 2210h6v6h-6zM427 2210h6v6h-6zM414 2229h7v7h-7zM427 2229h6v7h-6zM446 2236h7v6h-7zM440 2248h6v7h-6zM446 2255h7v6h-7zM427 2268h6v6h-6zM446 2268h7v6h-7zM453 2274h6v6h-6zM421 2280h6v7h-6zM453 2280h6v7h-6zM459 2280h6v7h-6zM459 2287h6v6h-6zM453 2293h6v7h-6zM88 2364h6v6h-6zM88 2370h6v6h-6zM120 2370h6v6h-6zM81 2376h7v7h-7zM126 2376h6v7h-6zM100 2383h7v6h-7zM107 2383h6v6h-6zM139 2383h6v6h-6zM126 2389h6v7h-6zM145 2402h7v6h-7zM164 2415h7v6h-7zM113 2421h7v7h-7zM126 2421h6v7h-6zM158 2428h6v6h-6zM132 2434h7v6h-7zM139 2434h6v6h-6zM145 2434h7v6h-7zM139 2440h6v7h-6zM158 2453h6v7h-6zM164 2453h7v7h-7zM177 2453h7v7h-7zM196 2453h7v7h-7zM222 2472h6v7h-6zM196 2479h7v6h-7zM184 2485h6v7h-6zM203 2492h6v6h-6zM228 2504h7v7h-7zM280 2504h6v7h-6z" fill="#f0cd69" shape-rendering="crispEdges"/>
<path d="M337 2127h7v6h-7zM369 2133h7v7h-7zM395 2133h6v7h-6zM446 2133h7v7h-7zM382 2146h7v6h-7zM433 2152h7v7h-7zM389 2165h6v7h-6zM414 2172h7v6h-7zM433 2172h7v6h-7zM453 2172h6v6h-6zM421 2191h6v6h-6zM433 2191h7v6h-7zM433 2197h7v7h-7zM453 2204h6v6h-6zM459 2204h6v6h-6zM446 2210h7v6h-7zM459 2210h6v6h-6zM81 2383h7v6h-7zM107 2389h6v7h-6zM81 2408h7v7h-7zM81 2415h7v6h-7zM88 2428h6v6h-6zM107 2440h6v7h-6zM94 2447h6v6h-6zM113 2447h7v6h-7zM88 2453h6v7h-6zM100 2453h7v7h-7zM126 2453h6v7h-6zM100 2460h7v6h-7zM107 2466h6v6h-6zM158 2466h6v6h-6zM113 2479h7v6h-7zM107 2492h6v6h-6zM158 2498h6v6h-6z" fill="#f5e187" shape-rendering="crispEdges"/>
<path d="M344 2127h6v6h-6zM395 2127h6v6h-6zM312 2146h6v6h-6zM389 2146h6v6h-6zM395 2146h6v6h-6zM344 2152h6v7h-6zM395 2152h6v7h-6zM356 2159h7v6h-7zM414 2159h7v6h-7zM363 2172h6v6h-6zM395 2178h6v6h-6zM433 2178h7v6h-7zM389 2184h6v7h-6zM459 2191h6v6h-6zM369 2210h7v6h-7zM446 2216h7v7h-7zM395 2223h6v6h-6zM440 2236h6v6h-6zM453 2236h6v6h-6zM433 2242h7v6h-7zM459 2274h6v6h-6zM414 2287h7v6h-7zM81 2306h7v6h-7zM81 2389h7v7h-7zM94 2408h6v7h-6zM164 2408h7v7h-7zM107 2421h6v7h-6zM100 2428h7v6h-7zM113 2440h7v7h-7zM145 2447h7v6h-7zM132 2453h7v7h-7zM145 2453h7v7h-7zM145 2460h7v6h-7zM164 2460h7v6h-7zM139 2466h6v6h-6zM145 2466h7v6h-7zM164 2466h7v6h-7zM171 2466h6v6h-6zM152 2472h6v7h-6zM158 2479h6v6h-6zM164 2479h7v6h-7zM177 2479h7v6h-7zM190 2485h6v7h-6zM158 2492h6v6h-6zM171 2492h6v6h-6zM184 2498h6v6h-6zM190 2498h6v6h-6zM158 2504h6v7h-6z" fill="#f0d778" shape-rendering="crispEdges"/>
<path d="M356 2127h7v6h-7zM401 2133h7v7h-7zM401 2146h7v6h-7zM376 2152h6v7h-6zM401 2152h7v7h-7zM401 2159h7v6h-7zM408 2165h6v7h-6zM453 2165h6v7h-6zM389 2172h6v6h-6zM408 2178h6v6h-6zM446 2178h7v6h-7zM395 2184h6v7h-6zM421 2197h6v7h-6zM446 2204h7v6h-7zM440 2210h6v6h-6zM433 2229h7v7h-7zM433 2236h7v6h-7zM120 2408h6v7h-6zM113 2428h7v6h-7zM132 2428h7v6h-7zM139 2447h6v6h-6zM145 2472h7v7h-7zM126 2479h6v6h-6zM184 2479h6v6h-6zM126 2498h6v6h-6zM177 2504h7v7h-7zM196 2504h7v7h-7zM222 2504h6v7h-6z" fill="#f0dc7d" shape-rendering="crispEdges"/>
<path d="M363 2127h6v6h-6zM350 2152h6v7h-6zM376 2159h6v6h-6zM414 2204h7v6h-7zM453 2216h6v7h-6zM459 2236h6v6h-6zM459 2255h6v6h-6zM120 2415h6v6h-6zM120 2428h6v6h-6zM139 2453h6v7h-6zM139 2472h6v7h-6zM145 2485h7v7h-7zM209 2504h7v7h-7z" fill="#f0d77d" shape-rendering="crispEdges"/>
<path d="M369 2127h7v6h-7zM382 2127h7v6h-7zM350 2133h6v7h-6zM389 2140h6v6h-6zM369 2146h7v6h-7zM356 2152h7v7h-7zM369 2159h7v6h-7zM382 2165h7v7h-7zM421 2184h6v7h-6zM433 2184h7v7h-7zM440 2197h6v7h-6zM440 2229h6v7h-6zM459 2242h6v6h-6zM94 2389h6v7h-6zM100 2396h7v6h-7zM107 2396h6v6h-6zM113 2396h7v6h-7zM100 2402h7v6h-7zM139 2428h6v6h-6zM100 2434h7v6h-7zM107 2434h6v6h-6zM126 2434h6v6h-6zM100 2447h7v6h-7zM120 2447h6v6h-6zM126 2447h6v6h-6zM132 2447h7v6h-7zM177 2447h7v6h-7zM126 2460h6v6h-6zM132 2466h7v6h-7zM152 2485h6v7h-6zM145 2492h7v6h-7zM164 2492h7v6h-7zM177 2492h7v6h-7zM184 2492h6v6h-6zM190 2492h6v6h-6z" fill="#f5dc82" shape-rendering="crispEdges"/>
<path d="M376 2127h6v6h-6zM433 2127h7v6h-7zM421 2172h6v6h-6zM446 2172h7v6h-7zM453 2178h6v6h-6zM459 2178h6v6h-6zM427 2184h6v7h-6zM440 2184h6v7h-6zM446 2191h7v6h-7zM459 2197h6v7h-6zM94 2415h6v6h-6zM81 2453h7v7h-7zM81 2466h7v6h-7zM113 2466h7v6h-7zM107 2472h6v7h-6zM113 2472h7v7h-7zM113 2485h7v7h-7zM152 2492h6v6h-6zM145 2504h7v7h-7zM152 2504h6v7h-6z" fill="#f5eb9b" shape-rendering="crispEdges"/>
<path d="M389 2127h6v6h-6zM414 2127h7v6h-7zM446 2127h7v6h-7zM414 2133h7v7h-7zM440 2133h6v7h-6zM453 2133h6v7h-6zM414 2146h7v6h-7zM427 2146h6v6h-6zM459 2146h6v6h-6zM395 2159h6v6h-6zM427 2159h6v6h-6zM433 2159h7v6h-7zM433 2204h7v6h-7zM94 2440h6v7h-6zM113 2460h7v6h-7zM100 2479h7v6h-7zM100 2485h7v7h-7zM88 2498h6v6h-6zM94 2498h6v6h-6zM132 2504h7v7h-7z" fill="#f5eba0" shape-rendering="crispEdges"/>
<path d="M401 2127h7v6h-7zM376 2133h6v7h-6zM440 2165h6v7h-6zM459 2184h6v7h-6zM414 2191h7v6h-7zM88 2466h6v6h-6zM100 2466h7v6h-7zM107 2485h6v7h-6zM139 2492h6v6h-6zM113 2498h7v6h-7z" fill="#f5eba5" shape-rendering="crispEdges"/>
<path d="M408 2127h6v6h-6zM337 2140h7v6h-7zM356 2140h7v6h-7zM395 2140h6v6h-6zM446 2140h7v6h-7zM446 2152h7v7h-7zM414 2165h7v7h-7zM408 2191h6v6h-6zM459 2216h6v7h-6zM81 2396h7v6h-7zM132 2396h7v6h-7zM107 2447h6v6h-6zM94 2453h6v7h-6zM126 2466h6v6h-6zM164 2498h7v6h-7z" fill="#f5e691" shape-rendering="crispEdges"/>
<path d="M421 2127h6v6h-6zM421 2133h6v7h-6zM421 2140h6v6h-6zM440 2140h6v6h-6zM356 2146h7v6h-7zM433 2146h7v6h-7zM421 2159h6v6h-6zM401 2165h7v7h-7zM395 2172h6v6h-6zM440 2178h6v6h-6zM440 2204h6v6h-6zM453 2229h6v7h-6zM126 2428h6v6h-6zM81 2434h7v6h-7zM81 2440h7v7h-7zM120 2460h6v6h-6zM88 2472h6v7h-6zM100 2472h7v7h-7zM120 2492h6v6h-6zM126 2492h6v6h-6zM132 2492h7v6h-7zM100 2498h7v6h-7zM139 2498h6v6h-6zM145 2498h7v6h-7z" fill="#f5e696" shape-rendering="crispEdges"/>
<path d="M427 2127h6v6h-6zM440 2127h6v6h-6zM414 2140h7v6h-7zM433 2140h7v6h-7zM440 2146h6v6h-6zM459 2152h6v7h-6zM440 2159h6v6h-6zM459 2172h6v6h-6zM459 2229h6v7h-6zM81 2447h7v6h-7zM94 2492h6v6h-6zM81 2504h7v7h-7zM100 2504h7v7h-7zM139 2504h6v7h-6z" fill="#faf5b4" shape-rendering="crispEdges"/>
<path d="M453 2127h6v6h-6zM408 2146h6v6h-6zM414 2152h7v7h-7zM446 2165h7v7h-7zM94 2472h6v7h-6zM107 2479h6v6h-6zM88 2492h6v6h-6zM120 2498h6v6h-6z" fill="#f5f0af" shape-rendering="crispEdges"/>
<path d="M459 2127h6v6h-6zM401 2140h7v6h-7zM440 2152h6v7h-6zM94 2434h6v6h-6zM88 2479h6v6h-6zM81 2485h7v7h-7z" fill="#faf5b9" shape-rendering="crispEdges"/>
<path d="M81 2133h7v7h-7zM107 2146h6v6h-6zM216 2268h6v6h-6zM324 2376h7v7h-7zM453 2504h6v7h-6z" fill="#37050f" shape-rendering="crispEdges"/>
<path d="M94 2133h6v7h-6zM100 2140h7v6h-7zM100 2152h7v7h-7zM113 2152h7v7h-7zM132 2184h7v7h-7zM145 2197h7v7h-7zM158 2197h6v7h-6zM152 2204h6v6h-6zM164 2216h7v7h-7zM177 2229h7v7h-7zM216 2255h6v6h-6zM228 2268h7v6h-7zM241 2280h7v7h-7zM260 2312h7v7h-7zM280 2319h6v6h-6zM286 2338h6v6h-6zM299 2351h6v6h-6zM312 2364h6v6h-6zM356 2396h7v6h-7zM350 2402h6v6h-6zM363 2402h6v6h-6zM369 2421h7v7h-7zM382 2421h7v7h-7zM389 2440h6v7h-6zM395 2447h6v6h-6zM401 2453h7v7h-7zM421 2460h6v6h-6zM433 2472h7v7h-7z" fill="#1e0005" shape-rendering="crispEdges"/>
<path d="M107 2133h6v7h-6zM81 2140h7v6h-7zM132 2165h7v7h-7zM216 2248h6v7h-6zM299 2325h6v7h-6zM312 2344h6v7h-6zM395 2421h6v7h-6zM408 2434h6v6h-6z" fill="#780a1e" shape-rendering="crispEdges"/>
<path d="M152 2133h6v7h-6zM196 2133h7v7h-7zM196 2152h7v7h-7zM203 2152h6v7h-6zM184 2172h6v6h-6zM88 2184h6v7h-6zM100 2210h7v6h-7zM113 2216h7v7h-7zM222 2216h6v7h-6zM152 2236h6v6h-6zM164 2242h7v6h-7zM145 2248h7v7h-7zM254 2255h6v6h-6zM299 2255h6v6h-6zM171 2261h6v7h-6zM286 2268h6v6h-6zM299 2268h6v6h-6zM337 2268h7v6h-7zM184 2274h6v6h-6zM299 2274h6v6h-6zM324 2274h7v6h-7zM177 2287h7v6h-7zM196 2287h7v6h-7zM196 2312h7v7h-7zM337 2312h7v7h-7zM190 2325h6v7h-6zM203 2325h6v7h-6zM222 2332h6v6h-6zM235 2338h6v6h-6zM254 2357h6v7h-6zM222 2370h6v6h-6zM228 2370h7v6h-7zM248 2370h6v6h-6zM216 2376h6v7h-6zM260 2376h7v7h-7zM273 2389h7v7h-7zM254 2396h6v6h-6zM292 2396h7v6h-7zM440 2396h6v6h-6zM305 2402h7v6h-7zM446 2408h7v7h-7zM324 2421h7v7h-7zM440 2428h6v6h-6zM453 2434h6v6h-6zM363 2460h6v6h-6zM369 2485h7v7h-7z" fill="#e12d23" shape-rendering="crispEdges"/>
<path d="M164 2133h7v7h-7zM203 2140h6v6h-6zM190 2152h6v7h-6zM132 2223h7v6h-7zM235 2223h6v6h-6zM299 2280h6v7h-6zM209 2338h7v6h-7zM260 2351h7v6h-7zM369 2351h7v6h-7zM280 2402h6v6h-6z" fill="#e62d28" shape-rendering="crispEdges"/>
<path d="M171 2133h6v7h-6zM184 2133h6v7h-6zM190 2133h6v7h-6zM171 2140h6v6h-6zM190 2146h6v6h-6zM145 2159h7v6h-7zM203 2178h6v6h-6zM81 2184h7v7h-7zM81 2204h7v6h-7zM88 2204h6v6h-6zM94 2204h6v6h-6zM203 2204h6v6h-6zM81 2210h7v6h-7zM107 2210h6v6h-6zM209 2216h7v7h-7zM209 2223h7v6h-7zM158 2242h6v6h-6zM171 2255h6v6h-6zM273 2255h7v6h-7zM286 2255h6v6h-6zM267 2268h6v6h-6zM318 2268h6v6h-6zM312 2274h6v6h-6zM299 2287h6v6h-6zM305 2287h7v6h-7zM318 2287h6v6h-6zM177 2293h7v7h-7zM286 2293h6v7h-6zM184 2306h6v6h-6zM216 2306h6v6h-6zM222 2319h6v6h-6zM209 2325h7v7h-7zM184 2332h6v6h-6zM235 2332h6v6h-6zM337 2332h7v6h-7zM344 2332h6v6h-6zM216 2338h6v6h-6zM228 2338h7v6h-7zM344 2338h6v6h-6zM344 2344h6v7h-6zM196 2351h7v6h-7zM241 2351h7v6h-7zM222 2357h6v7h-6zM228 2357h7v7h-7zM280 2357h6v7h-6zM241 2364h7v6h-7zM254 2389h6v7h-6zM286 2389h6v7h-6zM312 2396h6v6h-6zM408 2396h6v6h-6zM260 2402h7v6h-7zM331 2402h6v6h-6zM401 2408h7v7h-7zM440 2421h6v7h-6zM459 2421h6v7h-6zM331 2428h6v6h-6zM344 2428h6v6h-6zM337 2434h7v6h-7zM459 2434h6v6h-6zM356 2440h7v7h-7zM459 2440h6v7h-6zM446 2447h7v6h-7zM356 2453h7v7h-7zM401 2479h7v6h-7zM395 2485h6v7h-6zM389 2492h6v6h-6zM395 2504h6v7h-6z" fill="#dc2823" shape-rendering="crispEdges"/>
<path d="M177 2133h7v7h-7zM152 2152h6v7h-6zM171 2159h6v6h-6zM184 2159h6v6h-6zM158 2165h6v7h-6zM184 2165h6v7h-6zM190 2165h6v7h-6zM177 2172h7v6h-7zM94 2178h6v6h-6zM100 2178h7v6h-7zM158 2178h6v6h-6zM113 2191h7v6h-7zM184 2191h6v6h-6zM107 2197h6v7h-6zM120 2197h6v7h-6zM203 2210h6v6h-6zM126 2216h6v7h-6zM222 2236h6v6h-6zM177 2248h7v7h-7zM260 2255h7v6h-7zM267 2255h6v6h-6zM267 2261h6v7h-6zM273 2261h7v7h-7zM280 2261h6v7h-6zM280 2268h6v6h-6zM267 2274h6v6h-6zM292 2274h7v6h-7zM324 2280h7v7h-7zM299 2293h6v7h-6zM203 2300h6v6h-6zM292 2300h7v6h-7zM299 2300h6v6h-6zM324 2300h7v6h-7zM190 2312h6v7h-6zM209 2312h7v7h-7zM235 2312h6v7h-6zM337 2319h7v6h-7zM235 2325h6v7h-6zM305 2325h7v7h-7zM324 2338h7v6h-7zM203 2344h6v7h-6zM267 2344h6v7h-6zM273 2351h7v6h-7zM260 2370h7v6h-7zM280 2370h6v6h-6zM286 2376h6v7h-6zM286 2383h6v6h-6zM305 2383h7v6h-7zM267 2389h6v7h-6zM318 2396h6v6h-6zM299 2408h6v7h-6zM305 2408h7v7h-7zM331 2408h6v7h-6zM421 2408h6v7h-6zM337 2415h7v6h-7zM421 2415h6v6h-6zM427 2415h6v6h-6zM433 2415h7v6h-7zM350 2428h6v6h-6zM414 2428h7v6h-7zM440 2434h6v6h-6zM433 2440h7v7h-7zM459 2447h6v6h-6zM382 2453h7v7h-7zM453 2453h6v7h-6zM369 2460h7v6h-7zM376 2460h6v6h-6zM459 2460h6v6h-6zM376 2466h6v6h-6zM382 2479h7v6h-7zM395 2492h6v6h-6zM401 2492h7v6h-7zM421 2492h6v6h-6z" fill="#cd2323" shape-rendering="crispEdges"/>
<path d="M209 2133h7v7h-7zM273 2133h7v7h-7zM235 2159h6v6h-6zM248 2172h6v6h-6zM209 2178h7v6h-7zM228 2178h7v6h-7zM248 2178h6v6h-6zM222 2191h6v6h-6zM260 2210h7v6h-7zM280 2216h6v7h-6zM254 2223h6v6h-6zM312 2223h6v6h-6zM331 2223h6v6h-6zM273 2229h7v7h-7zM324 2229h7v7h-7zM331 2236h6v6h-6zM94 2242h6v6h-6zM88 2248h6v7h-6zM299 2248h6v7h-6zM305 2248h7v7h-7zM324 2248h7v7h-7zM356 2248h7v7h-7zM94 2255h6v6h-6zM350 2268h6v6h-6zM376 2268h6v6h-6zM145 2274h7v6h-7zM120 2287h6v6h-6zM164 2287h7v6h-7zM369 2287h7v6h-7zM152 2293h6v7h-6zM350 2293h6v7h-6zM389 2293h6v7h-6zM164 2300h7v6h-7zM376 2306h6v6h-6zM414 2306h7v6h-7zM152 2312h6v7h-6zM164 2312h7v7h-7zM363 2312h6v7h-6zM382 2319h7v6h-7zM126 2325h6v7h-6zM132 2325h7v7h-7zM414 2325h7v7h-7zM433 2325h7v7h-7zM356 2332h7v6h-7zM440 2332h6v6h-6zM171 2351h6v6h-6zM408 2351h6v6h-6zM433 2357h7v7h-7zM446 2357h7v7h-7zM440 2370h6v6h-6zM459 2376h6v7h-6zM427 2389h6v7h-6zM235 2415h6v6h-6zM273 2415h7v6h-7zM280 2428h6v6h-6zM312 2428h6v6h-6zM248 2434h6v6h-6zM260 2440h7v7h-7zM267 2440h6v7h-6zM299 2460h6v6h-6zM318 2460h6v6h-6zM324 2460h7v6h-7zM363 2492h6v6h-6zM337 2498h7v6h-7zM363 2498h6v6h-6z" fill="#f08741" shape-rendering="crispEdges"/>
<path d="M216 2133h6v7h-6zM216 2146h6v6h-6zM216 2152h6v7h-6zM209 2159h7v6h-7zM216 2159h6v6h-6zM222 2159h6v6h-6zM228 2172h7v6h-7zM235 2172h6v6h-6zM241 2172h7v6h-7zM222 2178h6v6h-6zM299 2184h6v7h-6zM260 2197h7v7h-7zM280 2197h6v7h-6zM241 2210h7v6h-7zM305 2210h7v6h-7zM344 2236h6v6h-6zM292 2242h7v6h-7zM305 2242h7v6h-7zM120 2248h6v7h-6zM344 2248h6v7h-6zM132 2255h7v6h-7zM88 2261h6v7h-6zM376 2261h6v7h-6zM145 2268h7v6h-7zM88 2274h6v6h-6zM132 2280h7v7h-7zM350 2287h6v6h-6zM145 2293h7v7h-7zM113 2300h7v6h-7zM132 2300h7v6h-7zM152 2306h6v6h-6zM350 2306h6v6h-6zM356 2306h7v6h-7zM145 2325h7v7h-7zM152 2325h6v7h-6zM164 2325h7v7h-7zM164 2332h7v6h-7zM408 2332h6v6h-6zM389 2338h6v6h-6zM395 2338h6v6h-6zM408 2338h6v6h-6zM171 2344h6v7h-6zM389 2344h6v7h-6zM376 2357h6v7h-6zM414 2357h7v7h-7zM421 2357h6v7h-6zM382 2364h7v6h-7zM401 2364h7v6h-7zM433 2364h7v6h-7zM395 2370h6v6h-6zM433 2370h7v6h-7zM427 2376h6v7h-6zM254 2415h6v6h-6zM273 2421h7v7h-7zM305 2421h7v7h-7zM286 2428h6v6h-6zM292 2428h7v6h-7zM299 2428h6v6h-6zM267 2434h6v6h-6zM324 2447h7v6h-7zM299 2453h6v7h-6zM305 2453h7v7h-7zM286 2466h6v6h-6zM324 2472h7v7h-7zM312 2485h6v7h-6zM344 2485h6v7h-6zM356 2492h7v6h-7z" fill="#f0823c" shape-rendering="crispEdges"/>
<path d="M222 2133h6v7h-6zM216 2165h6v7h-6zM241 2178h7v6h-7zM248 2184h6v7h-6zM286 2197h6v7h-6zM267 2204h6v6h-6zM280 2204h6v6h-6zM88 2223h6v6h-6zM267 2236h6v6h-6zM100 2248h7v7h-7zM107 2248h6v7h-6zM267 2248h6v7h-6zM286 2248h6v7h-6zM126 2255h6v6h-6zM126 2268h6v6h-6zM152 2274h6v6h-6zM158 2287h6v6h-6zM356 2287h7v6h-7zM164 2293h7v7h-7zM158 2306h6v6h-6zM369 2306h7v6h-7zM376 2312h6v7h-6zM145 2319h7v6h-7zM356 2319h7v6h-7zM369 2319h7v6h-7zM376 2319h6v6h-6zM389 2332h6v6h-6zM382 2344h7v7h-7zM414 2344h7v7h-7zM389 2357h6v7h-6zM408 2376h6v7h-6zM177 2389h7v7h-7zM184 2402h6v6h-6zM260 2408h7v7h-7zM292 2421h7v7h-7zM254 2428h6v6h-6zM286 2440h6v7h-6zM305 2440h7v7h-7zM337 2440h7v7h-7zM292 2453h7v7h-7zM344 2466h6v6h-6zM344 2472h6v7h-6zM356 2472h7v7h-7zM363 2472h6v7h-6zM337 2479h7v6h-7zM344 2479h6v6h-6zM363 2479h6v6h-6zM312 2498h6v6h-6zM324 2498h7v6h-7zM344 2504h6v7h-6z" fill="#f07337" shape-rendering="crispEdges"/>
<path d="M228 2133h7v7h-7zM299 2165h6v7h-6zM280 2184h6v7h-6zM324 2210h7v6h-7zM356 2223h7v6h-7zM421 2293h6v7h-6zM94 2300h6v6h-6zM126 2300h6v6h-6zM389 2300h6v6h-6zM453 2306h6v6h-6zM145 2312h7v7h-7zM414 2332h7v6h-7zM171 2357h6v7h-6zM280 2440h6v7h-6zM299 2447h6v6h-6zM228 2453h7v7h-7zM280 2453h6v7h-6zM216 2472h6v7h-6zM267 2479h6v6h-6zM318 2504h6v7h-6z" fill="#eba046" shape-rendering="crispEdges"/>
<path d="M241 2133h7v7h-7zM216 2140h6v6h-6zM254 2159h6v6h-6zM228 2165h7v7h-7zM216 2172h6v6h-6zM235 2184h6v7h-6zM241 2184h7v7h-7zM241 2191h7v6h-7zM280 2191h6v6h-6zM222 2204h6v6h-6zM235 2204h6v6h-6zM254 2210h6v6h-6zM273 2216h7v7h-7zM107 2223h6v6h-6zM292 2223h7v6h-7zM267 2229h6v7h-6zM81 2236h7v6h-7zM273 2236h7v6h-7zM286 2236h6v6h-6zM88 2242h6v6h-6zM120 2242h6v6h-6zM273 2242h7v6h-7zM299 2242h6v6h-6zM318 2248h6v7h-6zM81 2261h7v7h-7zM132 2268h7v6h-7zM81 2280h7v7h-7zM100 2280h7v7h-7zM100 2287h7v6h-7zM145 2287h7v6h-7zM152 2287h6v6h-6zM363 2293h6v7h-6zM126 2306h6v6h-6zM433 2306h7v6h-7zM158 2312h6v7h-6zM350 2312h6v7h-6zM164 2319h7v6h-7zM395 2319h6v6h-6zM427 2319h6v6h-6zM158 2325h6v7h-6zM171 2325h6v7h-6zM427 2325h6v7h-6zM382 2332h7v6h-7zM395 2332h6v6h-6zM427 2332h6v6h-6zM152 2338h6v6h-6zM369 2338h7v6h-7zM376 2344h6v7h-6zM408 2344h6v7h-6zM446 2344h7v7h-7zM395 2351h6v6h-6zM427 2351h6v6h-6zM158 2364h6v6h-6zM389 2364h6v6h-6zM389 2376h6v7h-6zM401 2376h7v7h-7zM414 2383h7v6h-7zM421 2389h6v7h-6zM440 2389h6v7h-6zM453 2389h6v7h-6zM184 2408h6v7h-6zM209 2415h7v6h-7zM260 2421h7v7h-7zM286 2421h6v7h-6zM260 2428h7v6h-7zM312 2434h6v6h-6zM305 2460h7v6h-7zM299 2466h6v6h-6zM286 2479h6v6h-6zM318 2479h6v6h-6zM331 2492h6v6h-6z" fill="#f07d3c" shape-rendering="crispEdges"/>
<path d="M286 2133h6v7h-6zM331 2146h6v6h-6zM280 2152h6v7h-6zM299 2152h6v7h-6zM324 2152h7v7h-7zM324 2178h7v6h-7zM363 2197h6v7h-6zM356 2204h7v6h-7zM318 2210h6v6h-6zM395 2210h6v6h-6zM356 2216h7v7h-7zM350 2223h6v6h-6zM356 2236h7v6h-7zM408 2236h6v6h-6zM356 2242h7v6h-7zM401 2248h7v7h-7zM408 2248h6v7h-6zM446 2248h7v7h-7zM382 2255h7v6h-7zM408 2261h6v7h-6zM421 2261h6v7h-6zM395 2268h6v6h-6zM376 2274h6v6h-6zM126 2293h6v7h-6zM81 2300h7v6h-7zM120 2306h6v6h-6zM408 2306h6v6h-6zM107 2319h6v6h-6zM81 2325h7v7h-7zM453 2332h6v6h-6zM421 2338h6v6h-6zM126 2344h6v7h-6zM453 2344h6v7h-6zM145 2357h7v7h-7zM132 2364h7v6h-7zM139 2364h6v6h-6zM145 2383h7v6h-7zM440 2383h6v6h-6zM171 2389h6v7h-6zM158 2396h6v6h-6zM158 2415h6v6h-6zM228 2415h7v6h-7zM216 2421h6v7h-6zM222 2434h6v6h-6zM216 2440h6v7h-6zM248 2453h6v7h-6zM254 2453h6v7h-6zM228 2460h7v6h-7zM190 2466h6v6h-6zM228 2479h7v6h-7zM248 2479h6v6h-6zM299 2498h6v6h-6z" fill="#f0b455" shape-rendering="crispEdges"/>
<path d="M292 2133h7v7h-7zM376 2140h6v6h-6zM273 2146h7v6h-7zM273 2152h7v7h-7zM312 2159h6v6h-6zM331 2159h6v6h-6zM344 2159h6v6h-6zM280 2165h6v7h-6zM324 2165h7v7h-7zM312 2178h6v6h-6zM292 2191h7v6h-7zM305 2191h7v6h-7zM331 2191h6v6h-6zM344 2191h6v6h-6zM350 2197h6v7h-6zM382 2197h7v7h-7zM312 2204h6v6h-6zM337 2210h7v6h-7zM382 2210h7v6h-7zM401 2210h7v6h-7zM337 2216h7v7h-7zM344 2223h6v6h-6zM363 2229h6v7h-6zM408 2229h6v7h-6zM324 2236h7v6h-7zM382 2242h7v6h-7zM427 2242h6v6h-6zM389 2255h6v6h-6zM414 2255h7v6h-7zM376 2280h6v7h-6zM401 2280h7v7h-7zM433 2280h7v7h-7zM81 2287h7v6h-7zM94 2287h6v6h-6zM100 2293h7v7h-7zM433 2293h7v7h-7zM139 2300h6v6h-6zM453 2300h6v6h-6zM100 2306h7v6h-7zM440 2312h6v7h-6zM100 2319h7v6h-7zM100 2332h7v6h-7zM126 2332h6v6h-6zM132 2338h7v6h-7zM440 2338h6v6h-6zM139 2351h6v6h-6zM126 2357h6v7h-6zM145 2376h7v7h-7zM158 2389h6v7h-6zM184 2415h6v6h-6zM171 2428h6v6h-6zM190 2428h6v6h-6zM184 2440h6v7h-6zM209 2440h7v7h-7zM222 2440h6v7h-6zM190 2447h6v6h-6zM228 2447h7v6h-7zM209 2453h7v7h-7zM241 2460h7v6h-7zM203 2466h6v6h-6zM228 2466h7v6h-7zM235 2479h6v6h-6zM273 2479h7v6h-7zM209 2485h7v7h-7zM248 2485h6v7h-6zM318 2485h6v7h-6zM299 2492h6v6h-6zM248 2498h6v6h-6zM312 2504h6v7h-6z" fill="#f0af55" shape-rendering="crispEdges"/>
<path d="M299 2133h6v7h-6zM318 2159h6v6h-6zM382 2223h7v6h-7zM440 2280h6v7h-6zM427 2306h6v6h-6zM120 2344h6v7h-6zM120 2351h6v6h-6zM113 2364h7v6h-7zM113 2376h7v7h-7z" fill="#f0b95f" shape-rendering="crispEdges"/>
<path d="M324 2133h7v7h-7zM305 2140h7v6h-7zM305 2152h7v7h-7zM273 2159h7v6h-7zM305 2159h7v6h-7zM324 2159h7v6h-7zM344 2172h6v6h-6zM356 2172h7v6h-7zM305 2178h7v6h-7zM344 2178h6v6h-6zM312 2184h6v7h-6zM376 2197h6v7h-6zM382 2204h7v6h-7zM395 2204h6v6h-6zM344 2216h6v7h-6zM389 2216h6v7h-6zM408 2216h6v7h-6zM401 2223h7v6h-7zM376 2229h6v7h-6zM382 2229h7v7h-7zM395 2236h6v6h-6zM376 2242h6v6h-6zM382 2248h7v7h-7zM363 2255h6v6h-6zM389 2274h6v6h-6zM408 2274h6v6h-6zM446 2287h7v6h-7zM453 2287h6v6h-6zM446 2293h7v7h-7zM433 2300h7v6h-7zM421 2306h6v6h-6zM81 2319h7v6h-7zM126 2319h6v6h-6zM94 2325h6v7h-6zM113 2325h7v7h-7zM453 2325h6v7h-6zM81 2344h7v7h-7zM120 2357h6v7h-6zM94 2364h6v6h-6zM107 2364h6v6h-6zM145 2364h7v6h-7zM152 2396h6v6h-6zM120 2402h6v6h-6zM113 2408h7v7h-7zM139 2421h6v7h-6zM158 2421h6v7h-6zM177 2421h7v7h-7zM203 2421h6v7h-6zM164 2428h7v6h-7zM203 2428h6v6h-6zM216 2428h6v6h-6zM158 2434h6v6h-6zM196 2440h7v7h-7zM203 2440h6v7h-6zM216 2447h6v6h-6zM222 2447h6v6h-6zM222 2460h6v6h-6zM254 2466h6v6h-6zM196 2472h7v7h-7zM235 2485h6v7h-6zM222 2492h6v6h-6zM235 2492h6v6h-6zM260 2492h7v6h-7zM190 2504h6v7h-6zM254 2504h6v7h-6zM260 2504h7v7h-7z" fill="#f0b95a" shape-rendering="crispEdges"/>
<path d="M344 2133h6v7h-6zM376 2165h6v7h-6zM350 2178h6v6h-6zM395 2229h6v7h-6zM433 2248h7v7h-7zM459 2293h6v7h-6zM100 2351h7v6h-7zM107 2376h6v7h-6zM145 2428h7v6h-7zM184 2447h6v6h-6zM209 2479h7v6h-7zM216 2485h6v7h-6zM267 2485h6v7h-6z" fill="#f0c35f" shape-rendering="crispEdges"/>
<path d="M382 2133h7v7h-7zM369 2140h7v6h-7zM408 2140h6v6h-6zM459 2165h6v7h-6zM440 2172h6v6h-6zM421 2178h6v6h-6zM453 2210h6v6h-6zM88 2408h6v7h-6zM88 2434h6v6h-6zM132 2460h7v6h-7zM94 2485h6v7h-6zM139 2485h6v7h-6z" fill="#f5e69b" shape-rendering="crispEdges"/>
<path d="M389 2133h6v7h-6zM376 2146h6v6h-6zM389 2152h6v7h-6zM427 2152h6v7h-6zM433 2165h7v7h-7zM427 2172h6v6h-6zM446 2184h7v7h-7zM453 2191h6v6h-6zM414 2197h7v7h-7zM421 2210h6v6h-6zM440 2223h6v6h-6zM100 2408h7v7h-7zM94 2421h6v7h-6zM81 2428h7v6h-7zM164 2472h7v7h-7zM132 2479h7v6h-7zM171 2479h6v6h-6zM120 2485h6v7h-6zM126 2485h6v7h-6zM158 2485h6v7h-6zM132 2498h7v6h-7zM88 2504h6v7h-6z" fill="#f5e18c" shape-rendering="crispEdges"/>
<path d="M408 2133h6v7h-6zM427 2133h6v7h-6zM453 2146h6v6h-6zM408 2152h6v7h-6zM453 2159h6v6h-6zM459 2159h6v6h-6zM453 2197h6v7h-6zM113 2453h7v7h-7zM107 2460h6v6h-6zM120 2466h6v6h-6zM94 2479h6v6h-6zM100 2492h7v6h-7zM113 2492h7v6h-7zM81 2498h7v6h-7zM113 2504h7v7h-7z" fill="#f5f0aa" shape-rendering="crispEdges"/>
<path d="M433 2133h7v7h-7z" fill="#fafad7" shape-rendering="crispEdges"/>
<path d="M459 2133h6v7h-6zM427 2140h6v6h-6z" fill="#fafac8" shape-rendering="crispEdges"/>
<path d="M88 2140h6v6h-6zM184 2223h6v6h-6zM196 2236h7v6h-7zM196 2248h7v7h-7zM292 2344h7v7h-7zM305 2344h7v7h-7zM312 2351h6v6h-6zM331 2383h6v6h-6zM363 2415h6v6h-6zM395 2434h6v6h-6zM408 2447h6v6h-6zM427 2479h6v6h-6zM433 2485h7v7h-7z" fill="#28000a" shape-rendering="crispEdges"/>
<path d="M107 2140h6v6h-6zM132 2159h7v6h-7zM126 2184h6v7h-6zM158 2191h6v6h-6zM395 2428h6v6h-6z" fill="#5f0a19" shape-rendering="crispEdges"/>
<path d="M113 2140h7v6h-7zM126 2152h6v7h-6zM145 2172h7v6h-7zM100 2184h7v7h-7zM203 2229h6v7h-6zM177 2242h7v6h-7zM222 2242h6v6h-6zM203 2268h6v6h-6zM254 2280h6v7h-6zM260 2287h7v6h-7zM228 2293h7v7h-7zM273 2293h7v7h-7zM260 2332h7v6h-7zM267 2332h6v6h-6zM312 2332h6v6h-6zM331 2338h6v6h-6zM273 2344h7v7h-7zM331 2351h6v6h-6zM286 2357h6v7h-6zM292 2357h7v7h-7zM369 2396h7v6h-7zM376 2402h6v6h-6zM389 2421h6v7h-6zM369 2440h7v7h-7zM408 2440h6v7h-6zM421 2440h6v7h-6zM427 2440h6v7h-6zM408 2485h6v7h-6z" fill="#9b1428" shape-rendering="crispEdges"/>
<path d="M120 2140h6v6h-6zM120 2191h6v6h-6zM209 2268h7v6h-7zM203 2274h6v6h-6zM260 2293h7v7h-7zM273 2300h7v6h-7zM292 2364h7v6h-7zM312 2376h6v7h-6zM382 2408h7v7h-7zM401 2434h7v6h-7zM389 2460h6v6h-6z" fill="#910f28" shape-rendering="crispEdges"/>
<path d="M132 2140h7v6h-7zM152 2178h6v6h-6zM171 2197h6v7h-6zM152 2216h6v7h-6zM184 2255h6v6h-6zM235 2261h6v7h-6zM248 2274h6v6h-6zM209 2280h7v7h-7zM228 2306h7v6h-7zM344 2364h6v6h-6zM305 2370h7v6h-7zM363 2389h6v7h-6zM324 2402h7v6h-7zM389 2408h6v7h-6zM395 2408h6v7h-6zM389 2453h6v7h-6zM395 2466h6v6h-6zM453 2479h6v6h-6zM414 2485h7v7h-7z" fill="#a01428" shape-rendering="crispEdges"/>
<path d="M152 2140h6v6h-6zM81 2159h7v6h-7zM152 2159h6v6h-6zM94 2165h6v7h-6zM177 2165h7v7h-7zM100 2191h7v6h-7zM190 2191h6v6h-6zM113 2197h7v7h-7zM177 2197h7v7h-7zM196 2204h7v6h-7zM113 2210h7v6h-7zM120 2216h6v7h-6zM139 2216h6v7h-6zM260 2261h7v7h-7zM286 2274h6v6h-6zM184 2280h6v7h-6zM222 2300h6v6h-6zM222 2312h6v7h-6zM324 2319h7v6h-7zM241 2332h7v6h-7zM318 2332h6v6h-6zM344 2351h6v6h-6zM241 2357h7v7h-7zM350 2370h6v6h-6zM280 2376h6v7h-6zM248 2389h6v7h-6zM401 2396h7v6h-7zM389 2402h6v6h-6zM414 2402h7v6h-7zM292 2408h7v7h-7zM408 2408h6v7h-6zM446 2434h7v6h-7zM363 2440h6v7h-6zM369 2447h7v6h-7zM382 2466h7v6h-7zM395 2479h6v6h-6zM401 2498h7v6h-7z" fill="#c81e23" shape-rendering="crispEdges"/>
<path d="M177 2140h7v6h-7zM184 2146h6v6h-6zM196 2165h7v7h-7zM235 2197h6v7h-6zM228 2210h7v6h-7zM222 2223h6v6h-6zM100 2229h7v7h-7zM132 2248h7v7h-7zM139 2248h6v7h-6zM344 2280h6v7h-6zM190 2300h6v6h-6zM382 2325h7v7h-7zM184 2338h6v6h-6zM190 2338h6v6h-6zM350 2338h6v6h-6zM350 2344h6v7h-6zM184 2357h6v7h-6zM177 2364h7v6h-7zM196 2370h7v6h-7zM203 2376h6v7h-6zM241 2383h7v6h-7zM228 2389h7v7h-7zM414 2389h7v7h-7zM177 2396h7v6h-7zM222 2396h6v6h-6zM209 2402h7v6h-7zM254 2402h6v6h-6zM446 2402h7v6h-7zM235 2408h6v7h-6zM248 2408h6v7h-6zM356 2447h7v6h-7zM344 2460h6v6h-6z" fill="#eb502d" shape-rendering="crispEdges"/>
<path d="M190 2140h6v6h-6zM196 2140h7v6h-7zM177 2146h7v6h-7zM196 2178h7v6h-7zM126 2223h6v6h-6zM228 2229h7v7h-7zM152 2242h6v6h-6zM152 2248h6v7h-6zM241 2248h7v7h-7zM337 2261h7v7h-7zM337 2274h7v6h-7zM344 2293h6v7h-6zM203 2319h6v6h-6zM344 2325h6v7h-6zM177 2338h7v6h-7zM363 2364h6v6h-6zM241 2376h7v7h-7zM216 2402h6v6h-6zM248 2402h6v6h-6zM209 2408h7v7h-7zM280 2408h6v7h-6zM453 2447h6v6h-6zM369 2492h7v6h-7z" fill="#e64128" shape-rendering="crispEdges"/>
<path d="M209 2140h7v6h-7zM222 2140h6v6h-6zM248 2140h6v6h-6zM228 2146h7v6h-7zM228 2159h7v6h-7zM254 2165h6v7h-6zM267 2178h6v6h-6zM260 2191h7v6h-7zM241 2197h7v7h-7zM305 2197h7v7h-7zM292 2210h7v6h-7zM260 2216h7v7h-7zM337 2223h7v6h-7zM331 2229h6v7h-6zM363 2236h6v6h-6zM318 2242h6v6h-6zM331 2242h6v6h-6zM126 2261h6v7h-6zM350 2261h6v7h-6zM369 2261h7v7h-7zM369 2268h7v6h-7zM113 2274h7v6h-7zM356 2274h7v6h-7zM369 2274h7v6h-7zM350 2280h6v7h-6zM382 2280h7v7h-7zM126 2287h6v6h-6zM389 2287h6v6h-6zM145 2300h7v6h-7zM395 2300h6v6h-6zM401 2306h7v6h-7zM120 2312h6v7h-6zM171 2312h6v7h-6zM382 2312h7v7h-7zM120 2319h6v6h-6zM389 2319h6v6h-6zM459 2319h6v6h-6zM158 2351h6v6h-6zM440 2351h6v6h-6zM440 2357h6v7h-6zM446 2364h7v6h-7zM164 2370h7v6h-7zM389 2370h6v6h-6zM453 2383h6v6h-6zM286 2415h6v6h-6zM254 2421h6v7h-6zM273 2440h7v7h-7zM248 2447h6v6h-6zM318 2453h6v7h-6zM312 2460h6v6h-6zM273 2466h7v6h-7zM318 2466h6v6h-6zM292 2472h7v7h-7zM305 2479h7v6h-7zM280 2485h6v7h-6zM318 2492h6v6h-6zM350 2492h6v6h-6zM363 2504h6v7h-6z" fill="#f09141" shape-rendering="crispEdges"/>
<path d="M286 2140h6v6h-6zM248 2146h6v6h-6zM254 2146h6v6h-6zM318 2146h6v6h-6zM318 2165h6v7h-6zM318 2172h6v6h-6zM299 2178h6v6h-6zM331 2184h6v7h-6zM350 2191h6v6h-6zM356 2191h7v6h-7zM324 2197h7v7h-7zM344 2204h6v6h-6zM389 2210h6v6h-6zM356 2229h7v7h-7zM389 2236h6v6h-6zM427 2236h6v6h-6zM350 2242h6v6h-6zM453 2248h6v7h-6zM433 2255h7v6h-7zM389 2261h6v7h-6zM401 2261h7v7h-7zM427 2261h6v7h-6zM421 2274h6v6h-6zM427 2300h6v6h-6zM453 2312h6v7h-6zM107 2332h6v6h-6zM459 2332h6v6h-6zM88 2338h6v6h-6zM94 2344h6v7h-6zM132 2344h7v7h-7zM113 2351h7v6h-7zM81 2357h7v7h-7zM132 2357h7v7h-7zM94 2376h6v7h-6zM132 2376h7v7h-7zM164 2396h7v6h-7zM171 2408h6v7h-6zM196 2434h7v6h-7zM177 2440h7v7h-7zM235 2453h6v7h-6zM184 2460h6v6h-6zM203 2460h6v6h-6zM209 2460h7v6h-7zM248 2492h6v6h-6zM260 2498h7v6h-7zM286 2498h6v6h-6z" fill="#f0b45a" shape-rendering="crispEdges"/>
<path d="M331 2140h6v6h-6zM363 2140h6v6h-6zM382 2140h7v6h-7zM337 2152h7v7h-7zM350 2159h6v6h-6zM382 2172h7v6h-7zM401 2172h7v6h-7zM363 2178h6v6h-6zM401 2178h7v6h-7zM337 2184h7v7h-7zM401 2184h7v7h-7zM408 2184h6v7h-6zM395 2197h6v7h-6zM337 2204h7v6h-7zM427 2204h6v6h-6zM433 2210h7v6h-7zM421 2229h6v7h-6zM446 2229h7v7h-7zM446 2242h7v6h-7zM81 2364h7v6h-7zM81 2402h7v6h-7zM88 2402h6v6h-6zM88 2415h6v6h-6zM100 2415h7v6h-7zM113 2415h7v6h-7zM152 2415h6v6h-6zM152 2428h6v6h-6zM164 2434h7v6h-7zM120 2440h6v7h-6zM126 2440h6v7h-6zM190 2453h6v7h-6zM152 2460h6v6h-6zM158 2472h6v7h-6zM184 2472h6v7h-6zM209 2472h7v7h-7zM145 2479h7v6h-7zM152 2479h6v6h-6zM190 2479h6v6h-6zM132 2485h7v7h-7zM164 2485h7v7h-7zM203 2498h6v6h-6zM248 2504h6v7h-6z" fill="#f0d773" shape-rendering="crispEdges"/>
<path d="M453 2140h6v6h-6zM421 2146h6v6h-6zM107 2498h6v6h-6z" fill="#faf5c8" shape-rendering="crispEdges"/>
<path d="M459 2140h6v6h-6z" fill="#fafad2" shape-rendering="crispEdges"/>
<path d="M81 2146h7v6h-7zM184 2210h6v6h-6zM190 2216h6v7h-6zM164 2223h7v6h-7zM254 2274h6v6h-6zM216 2280h6v7h-6zM299 2332h6v6h-6zM324 2344h7v7h-7zM286 2351h6v6h-6zM299 2357h6v7h-6zM299 2364h6v6h-6zM331 2396h6v6h-6zM446 2472h7v7h-7zM433 2498h7v6h-7zM440 2504h6v7h-6z" fill="#8c0f23" shape-rendering="crispEdges"/>
<path d="M88 2146h6v6h-6zM184 2216h6v7h-6zM196 2255h7v6h-7zM241 2300h7v6h-7zM267 2300h6v6h-6zM254 2312h6v7h-6zM280 2312h6v7h-6zM427 2485h6v7h-6z" fill="#5a0519" shape-rendering="crispEdges"/>
<path d="M94 2146h6v6h-6zM158 2210h6v6h-6zM184 2242h6v6h-6zM222 2274h6v6h-6zM235 2274h6v6h-6zM305 2357h7v7h-7zM318 2357h6v7h-6zM344 2383h6v6h-6zM369 2408h7v7h-7zM382 2415h7v6h-7zM414 2453h7v7h-7z" fill="#3c050f" shape-rendering="crispEdges"/>
<path d="M113 2146h7v6h-7zM94 2152h6v7h-6zM126 2191h6v6h-6zM286 2344h6v7h-6zM356 2389h7v7h-7z" fill="#7d0f23" shape-rendering="crispEdges"/>
<path d="M120 2146h6v6h-6zM81 2165h7v7h-7zM139 2165h6v7h-6zM120 2204h6v6h-6zM152 2223h6v6h-6zM158 2223h6v6h-6zM241 2268h7v6h-7zM196 2274h7v6h-7zM203 2280h6v7h-6zM273 2280h7v7h-7zM209 2287h7v6h-7zM222 2287h6v6h-6zM280 2293h6v7h-6zM228 2300h7v6h-7zM280 2300h6v6h-6zM312 2306h6v6h-6zM286 2312h6v7h-6zM254 2319h6v6h-6zM267 2338h6v6h-6zM324 2351h7v6h-7zM248 2357h6v7h-6zM337 2357h7v7h-7zM305 2376h7v7h-7zM408 2402h6v6h-6zM337 2408h7v7h-7zM414 2415h7v6h-7zM427 2453h6v7h-6zM395 2460h6v6h-6zM459 2466h6v6h-6zM453 2472h6v7h-6zM389 2479h6v6h-6z" fill="#af1928" shape-rendering="crispEdges"/>
<path d="M132 2146h7v6h-7zM88 2152h6v7h-6zM132 2152h7v7h-7zM164 2159h7v6h-7zM100 2172h7v6h-7zM113 2178h7v6h-7zM177 2178h7v6h-7zM126 2197h6v7h-6zM126 2204h6v6h-6zM177 2204h7v6h-7zM196 2223h7v6h-7zM209 2229h7v7h-7zM209 2236h7v6h-7zM228 2248h7v7h-7zM184 2261h6v7h-6zM241 2261h7v7h-7zM196 2280h7v7h-7zM222 2293h6v7h-6zM305 2332h7v6h-7zM318 2338h6v6h-6zM318 2344h6v7h-6zM337 2351h7v6h-7zM260 2357h7v7h-7zM273 2357h7v7h-7zM337 2364h7v6h-7zM350 2364h6v6h-6zM312 2383h6v6h-6zM369 2389h7v7h-7zM376 2396h6v6h-6zM337 2402h7v6h-7zM350 2415h6v6h-6zM414 2440h7v7h-7zM427 2447h6v6h-6zM376 2453h6v7h-6zM433 2453h7v7h-7zM453 2460h6v6h-6zM421 2485h6v7h-6zM408 2498h6v6h-6zM427 2498h6v6h-6z" fill="#aa1928" shape-rendering="crispEdges"/>
<path d="M145 2146h7v6h-7zM113 2184h7v7h-7zM94 2191h6v6h-6zM164 2191h7v6h-7zM132 2197h7v7h-7zM139 2204h6v6h-6zM184 2204h6v6h-6zM190 2204h6v6h-6zM132 2210h7v6h-7zM196 2216h7v7h-7zM203 2223h6v6h-6zM228 2255h7v6h-7zM235 2255h6v6h-6zM286 2306h6v6h-6zM292 2312h7v7h-7zM260 2325h7v7h-7zM273 2338h7v6h-7zM280 2344h6v7h-6zM331 2344h6v7h-6zM299 2370h6v6h-6zM363 2428h6v6h-6zM369 2428h7v6h-7zM414 2434h7v6h-7zM376 2447h6v6h-6zM421 2447h6v6h-6zM382 2460h7v6h-7zM401 2472h7v7h-7z" fill="#a51428" shape-rendering="crispEdges"/>
<path d="M171 2146h6v6h-6zM203 2146h6v6h-6zM158 2152h6v7h-6zM164 2152h7v7h-7zM184 2152h6v7h-6zM203 2172h6v6h-6zM184 2178h6v6h-6zM190 2178h6v6h-6zM196 2184h7v7h-7zM209 2191h7v6h-7zM100 2197h7v7h-7zM88 2210h6v6h-6zM222 2210h6v6h-6zM216 2223h6v6h-6zM145 2236h7v6h-7zM139 2242h6v6h-6zM235 2242h6v6h-6zM158 2255h6v6h-6zM164 2255h7v6h-7zM305 2255h7v6h-7zM324 2261h7v7h-7zM292 2268h7v6h-7zM312 2268h6v6h-6zM331 2274h6v6h-6zM286 2280h6v7h-6zM305 2280h7v7h-7zM312 2287h6v6h-6zM312 2293h6v7h-6zM318 2293h6v7h-6zM331 2293h6v7h-6zM344 2306h6v6h-6zM177 2312h7v7h-7zM184 2312h6v7h-6zM203 2312h6v7h-6zM228 2325h7v7h-7zM190 2332h6v6h-6zM209 2332h7v6h-7zM203 2338h6v6h-6zM241 2338h7v6h-7zM248 2344h6v7h-6zM254 2351h6v6h-6zM254 2364h6v6h-6zM273 2364h7v6h-7zM241 2370h7v6h-7zM273 2370h7v6h-7zM235 2376h6v7h-6zM248 2376h6v7h-6zM273 2376h7v7h-7zM203 2383h6v6h-6zM235 2383h6v6h-6zM273 2383h7v6h-7zM395 2383h6v6h-6zM222 2389h6v7h-6zM260 2396h7v6h-7zM286 2396h6v6h-6zM235 2402h6v6h-6zM459 2402h6v6h-6zM228 2408h7v7h-7zM318 2408h6v7h-6zM318 2415h6v6h-6zM433 2421h7v7h-7zM446 2428h7v6h-7zM344 2434h6v6h-6zM363 2434h6v6h-6zM446 2440h7v7h-7zM376 2485h6v7h-6zM376 2492h6v6h-6zM382 2498h7v6h-7zM369 2504h7v7h-7z" fill="#e12823" shape-rendering="crispEdges"/>
<path d="M209 2146h7v6h-7zM235 2178h6v6h-6zM273 2178h7v6h-7zM209 2184h7v7h-7zM254 2184h6v7h-6zM286 2184h6v7h-6zM228 2191h7v6h-7zM248 2191h6v6h-6zM222 2197h6v7h-6zM248 2197h6v7h-6zM88 2229h6v7h-6zM88 2236h6v6h-6zM139 2236h6v6h-6zM132 2242h7v6h-7zM267 2242h6v6h-6zM113 2255h7v6h-7zM139 2261h6v7h-6zM126 2274h6v6h-6zM88 2287h6v6h-6zM171 2287h6v6h-6zM158 2293h6v7h-6zM171 2293h6v7h-6zM363 2325h6v7h-6zM369 2332h7v6h-7zM433 2332h7v6h-7zM408 2364h6v6h-6zM401 2370h7v6h-7zM421 2370h6v6h-6zM190 2376h6v7h-6zM177 2383h7v6h-7zM184 2383h6v6h-6zM433 2389h7v7h-7zM446 2389h7v7h-7zM190 2402h6v6h-6zM203 2402h6v6h-6zM292 2415h7v6h-7zM318 2434h6v6h-6zM337 2447h7v6h-7zM337 2460h7v6h-7zM350 2485h6v7h-6zM363 2485h6v7h-6z" fill="#f06e37" shape-rendering="crispEdges"/>
<path d="M286 2146h6v6h-6zM292 2178h7v6h-7zM312 2197h6v7h-6zM292 2204h7v6h-7zM350 2204h6v6h-6zM331 2216h6v7h-6zM318 2236h6v6h-6zM331 2248h6v7h-6zM395 2274h6v6h-6zM414 2293h7v7h-7zM401 2300h7v6h-7zM427 2338h6v6h-6zM88 2344h6v7h-6zM440 2344h6v7h-6zM126 2351h6v6h-6zM152 2370h6v6h-6zM132 2383h7v6h-7zM145 2389h7v7h-7zM209 2421h7v7h-7zM222 2421h6v7h-6zM209 2428h7v6h-7zM222 2428h6v6h-6zM171 2447h6v6h-6zM209 2447h7v6h-7zM196 2460h7v6h-7zM209 2466h7v6h-7z" fill="#f0af50" shape-rendering="crispEdges"/>
<path d="M350 2146h6v6h-6zM363 2159h6v6h-6zM369 2204h7v6h-7zM369 2216h7v7h-7zM427 2223h6v6h-6zM401 2229h7v7h-7zM414 2236h7v6h-7zM440 2242h6v6h-6zM459 2248h6v7h-6zM440 2261h6v7h-6zM427 2274h6v6h-6zM440 2274h6v6h-6zM126 2338h6v6h-6zM81 2370h7v6h-7zM100 2376h7v7h-7zM126 2383h6v6h-6zM171 2383h6v6h-6zM100 2389h7v7h-7zM126 2415h6v6h-6zM145 2421h7v7h-7zM171 2421h6v7h-6zM171 2440h6v7h-6zM190 2440h6v7h-6zM171 2453h6v7h-6zM196 2466h7v6h-7zM209 2492h7v6h-7zM216 2498h6v6h-6zM171 2504h6v7h-6zM235 2504h6v7h-6z" fill="#f0c864" shape-rendering="crispEdges"/>
<path d="M446 2146h7v6h-7zM421 2152h6v7h-6zM446 2159h7v6h-7zM453 2184h6v7h-6zM107 2453h6v7h-6zM81 2460h7v6h-7zM88 2460h6v6h-6zM81 2472h7v7h-7zM120 2472h6v7h-6zM126 2472h6v7h-6zM81 2479h7v6h-7z" fill="#f5f0a5" shape-rendering="crispEdges"/>
<path d="M120 2152h6v7h-6zM152 2184h6v7h-6zM171 2204h6v6h-6zM177 2236h7v6h-7zM235 2268h6v6h-6zM318 2376h6v7h-6zM344 2376h6v7h-6zM350 2408h6v7h-6zM433 2460h7v6h-7z" fill="#730a1e" shape-rendering="crispEdges"/>
<path d="M209 2152h7v7h-7zM254 2152h6v7h-6zM235 2165h6v7h-6zM241 2165h7v7h-7zM260 2165h7v7h-7zM254 2172h6v6h-6zM299 2172h6v6h-6zM254 2191h6v6h-6zM286 2191h6v6h-6zM228 2197h7v7h-7zM254 2197h6v7h-6zM248 2210h6v6h-6zM273 2210h7v6h-7zM273 2223h7v6h-7zM324 2223h7v6h-7zM81 2229h7v7h-7zM280 2229h6v7h-6zM305 2229h7v7h-7zM318 2229h6v7h-6zM100 2236h7v6h-7zM113 2242h7v6h-7zM337 2242h7v6h-7zM350 2255h6v6h-6zM107 2268h6v6h-6zM363 2268h6v6h-6zM94 2274h6v6h-6zM94 2280h6v7h-6zM113 2280h7v7h-7zM107 2287h6v6h-6zM113 2287h7v6h-7zM376 2287h6v6h-6zM107 2300h6v6h-6zM363 2300h6v6h-6zM395 2306h6v6h-6zM389 2312h6v7h-6zM376 2325h6v7h-6zM408 2325h6v7h-6zM139 2332h6v6h-6zM171 2338h6v6h-6zM363 2338h6v6h-6zM446 2338h7v6h-7zM453 2338h6v6h-6zM401 2344h7v7h-7zM164 2351h7v6h-7zM414 2351h7v6h-7zM421 2351h6v6h-6zM171 2370h6v6h-6zM414 2370h7v6h-7zM446 2370h7v6h-7zM459 2370h6v6h-6zM152 2383h6v6h-6zM446 2383h7v6h-7zM459 2383h6v6h-6zM459 2389h6v7h-6zM203 2415h6v6h-6zM222 2415h6v6h-6zM241 2440h7v7h-7zM286 2447h6v6h-6zM254 2460h6v6h-6zM241 2466h7v6h-7zM331 2466h6v6h-6zM305 2472h7v7h-7zM280 2479h6v6h-6zM292 2479h7v6h-7zM324 2479h7v6h-7zM292 2485h7v7h-7z" fill="#f08c41" shape-rendering="crispEdges"/>
<path d="M222 2152h6v7h-6zM280 2242h6v6h-6zM292 2248h7v7h-7zM369 2280h7v7h-7zM267 2415h6v6h-6z" fill="#f08241" shape-rendering="crispEdges"/>
<path d="M453 2152h6v7h-6zM440 2191h6v6h-6zM120 2479h6v6h-6zM88 2485h6v7h-6zM126 2504h6v7h-6z" fill="#faf0af" shape-rendering="crispEdges"/>
<path d="M120 2159h6v6h-6zM120 2172h6v6h-6zM132 2172h7v6h-7zM203 2242h6v6h-6zM222 2261h6v7h-6zM254 2293h6v7h-6zM260 2300h7v6h-7zM318 2370h6v6h-6zM376 2428h6v6h-6z" fill="#230005" shape-rendering="crispEdges"/>
<path d="M177 2159h7v6h-7zM196 2210h7v6h-7zM299 2261h6v7h-6zM318 2261h6v7h-6zM299 2312h6v7h-6zM203 2351h6v6h-6zM356 2357h7v7h-7zM228 2383h7v6h-7zM459 2396h6v6h-6zM324 2415h7v6h-7zM440 2440h6v7h-6zM363 2447h6v6h-6z" fill="#e12d28" shape-rendering="crispEdges"/>
<path d="M196 2159h7v6h-7zM216 2216h6v7h-6zM120 2223h6v6h-6zM113 2229h7v7h-7zM235 2236h6v6h-6zM107 2242h6v6h-6zM164 2248h7v7h-7zM331 2255h6v6h-6zM171 2268h6v6h-6zM158 2274h6v6h-6zM344 2274h6v6h-6zM331 2306h6v6h-6zM350 2332h6v6h-6zM356 2338h7v6h-7zM190 2344h6v7h-6zM369 2344h7v7h-7zM177 2351h7v6h-7zM222 2351h6v6h-6zM350 2351h6v6h-6zM356 2351h7v6h-7zM363 2351h6v6h-6zM356 2364h7v6h-7zM376 2364h6v6h-6zM376 2370h6v6h-6zM222 2376h6v7h-6zM228 2376h7v7h-7zM241 2389h7v7h-7zM408 2389h6v7h-6zM209 2396h7v6h-7zM446 2396h7v6h-7zM254 2408h6v7h-6zM331 2460h6v6h-6zM350 2479h6v6h-6z" fill="#eb4b2d" shape-rendering="crispEdges"/>
<path d="M113 2165h7v7h-7zM152 2191h6v6h-6zM177 2216h7v7h-7zM190 2229h6v7h-6zM248 2287h6v6h-6zM241 2293h7v7h-7zM248 2300h6v6h-6zM254 2306h6v6h-6zM267 2319h6v6h-6zM337 2376h7v7h-7zM389 2428h6v6h-6zM446 2485h7v7h-7z" fill="#32000a" shape-rendering="crispEdges"/>
<path d="M126 2165h6v7h-6zM126 2178h6v6h-6zM139 2178h6v6h-6zM145 2184h7v7h-7zM171 2210h6v6h-6zM171 2223h6v6h-6zM209 2261h7v7h-7zM235 2287h6v6h-6zM267 2306h6v6h-6zM273 2325h7v7h-7zM280 2332h6v6h-6zM337 2389h7v7h-7zM350 2389h6v7h-6zM356 2408h7v7h-7zM401 2440h7v7h-7zM414 2466h7v6h-7zM427 2466h6v6h-6zM459 2498h6v6h-6z" fill="#2d000a" shape-rendering="crispEdges"/>
<path d="M152 2165h6v7h-6zM190 2223h6v6h-6zM216 2242h6v6h-6zM235 2293h6v7h-6zM241 2306h7v6h-7zM312 2338h6v6h-6zM331 2357h6v7h-6zM350 2376h6v7h-6zM401 2428h7v6h-7zM369 2434h7v6h-7zM395 2453h6v7h-6zM440 2466h6v6h-6z" fill="#961428" shape-rendering="crispEdges"/>
<path d="M209 2165h7v7h-7zM216 2178h6v6h-6zM222 2184h6v7h-6zM267 2184h6v7h-6zM235 2191h6v6h-6zM286 2210h6v6h-6zM248 2223h6v6h-6zM267 2223h6v6h-6zM120 2229h6v7h-6zM299 2229h6v7h-6zM120 2236h6v6h-6zM126 2236h6v6h-6zM260 2236h7v6h-7zM292 2236h7v6h-7zM312 2242h6v6h-6zM113 2248h7v7h-7zM126 2248h6v7h-6zM107 2255h6v6h-6zM139 2255h6v6h-6zM100 2261h7v7h-7zM120 2268h6v6h-6zM120 2274h6v6h-6zM132 2274h7v6h-7zM126 2280h6v7h-6zM145 2280h7v7h-7zM158 2280h6v7h-6zM139 2287h6v6h-6zM139 2293h6v7h-6zM363 2306h6v6h-6zM158 2319h6v6h-6zM401 2319h7v6h-7zM369 2325h7v7h-7zM401 2325h7v7h-7zM376 2332h6v6h-6zM395 2344h6v7h-6zM389 2351h6v6h-6zM440 2364h6v6h-6zM421 2376h6v7h-6zM453 2376h6v7h-6zM433 2383h7v6h-7zM184 2389h6v7h-6zM177 2402h7v6h-7zM241 2415h7v6h-7zM280 2421h6v7h-6zM286 2434h6v6h-6zM312 2440h6v7h-6zM305 2447h7v6h-7zM324 2453h7v7h-7zM299 2472h6v7h-6zM350 2472h6v7h-6zM254 2479h6v6h-6zM331 2479h6v6h-6zM344 2498h6v6h-6zM356 2504h7v7h-7z" fill="#f0783c" shape-rendering="crispEdges"/>
<path d="M222 2165h6v7h-6zM254 2204h6v6h-6zM248 2216h6v7h-6zM254 2216h6v7h-6zM280 2236h6v6h-6zM100 2242h7v6h-7zM126 2242h6v6h-6zM120 2261h6v7h-6zM344 2261h6v7h-6zM139 2274h6v6h-6zM152 2280h6v7h-6zM132 2287h7v6h-7zM363 2319h6v6h-6zM171 2332h6v6h-6zM196 2338h7v6h-7zM395 2357h6v7h-6zM177 2376h7v7h-7zM433 2376h7v7h-7zM235 2389h6v7h-6zM216 2396h6v6h-6zM248 2396h6v6h-6zM216 2408h6v7h-6zM305 2428h7v6h-7zM292 2434h7v6h-7zM299 2440h6v7h-6z" fill="#f06932" shape-rendering="crispEdges"/>
<path d="M421 2165h6v7h-6zM427 2178h6v6h-6zM446 2197h7v7h-7zM453 2223h6v6h-6zM81 2421h7v7h-7zM120 2453h6v7h-6zM94 2460h6v6h-6zM132 2472h7v7h-7z" fill="#f5e191" shape-rendering="crispEdges"/>
<path d="M427 2165h6v7h-6zM152 2498h6v6h-6z" fill="#faf0b4" shape-rendering="crispEdges"/>
<path d="M107 2172h6v6h-6zM228 2261h7v7h-7z" fill="#780f1e" shape-rendering="crispEdges"/>
<path d="M113 2172h7v6h-7zM286 2319h6v6h-6zM305 2364h7v6h-7zM312 2370h6v6h-6zM318 2383h6v6h-6zM369 2402h7v6h-7zM421 2453h6v7h-6z" fill="#6e0a1e" shape-rendering="crispEdges"/>
<path d="M139 2172h6v6h-6zM145 2210h7v6h-7zM203 2236h6v6h-6zM190 2255h6v6h-6zM216 2274h6v6h-6zM280 2306h6v6h-6zM280 2351h6v6h-6zM324 2357h7v7h-7zM344 2402h6v6h-6zM421 2479h6v6h-6zM459 2485h6v7h-6z" fill="#820f23" shape-rendering="crispEdges"/>
<path d="M190 2172h6v6h-6zM216 2191h6v6h-6zM267 2210h6v6h-6zM235 2229h6v7h-6zM241 2229h7v7h-7zM254 2248h6v7h-6zM318 2255h6v6h-6zM286 2261h6v7h-6zM331 2261h6v7h-6zM331 2268h6v6h-6zM344 2268h6v6h-6zM177 2325h7v7h-7zM177 2344h7v7h-7zM209 2370h7v6h-7zM369 2370h7v6h-7zM196 2376h7v7h-7zM376 2376h6v7h-6zM235 2396h6v6h-6zM433 2396h7v6h-7zM453 2402h6v6h-6zM440 2408h6v7h-6zM318 2421h6v7h-6zM344 2447h6v6h-6zM350 2447h6v6h-6z" fill="#eb462d" shape-rendering="crispEdges"/>
<path d="M120 2178h6v6h-6zM203 2255h6v6h-6z" fill="#460514" shape-rendering="crispEdges"/>
<path d="M164 2178h7v6h-7zM190 2197h6v7h-6zM267 2287h6v6h-6zM318 2312h6v7h-6zM421 2402h6v6h-6zM401 2415h7v6h-7zM408 2428h6v6h-6zM401 2485h7v7h-7z" fill="#b91928" shape-rendering="crispEdges"/>
<path d="M356 2178h7v6h-7zM433 2216h7v7h-7zM453 2242h6v6h-6zM132 2421h7v7h-7zM184 2504h6v7h-6z" fill="#f0d273" shape-rendering="crispEdges"/>
<path d="M228 2184h7v7h-7zM286 2223h6v6h-6zM260 2229h7v7h-7zM260 2242h7v6h-7zM280 2248h6v7h-6zM350 2274h6v6h-6zM152 2300h6v6h-6zM382 2306h7v6h-7zM152 2319h6v6h-6zM363 2332h6v6h-6zM401 2351h7v6h-7zM260 2415h7v6h-7zM305 2434h7v6h-7zM318 2440h6v7h-6zM273 2453h7v7h-7zM344 2453h6v7h-6zM286 2460h6v6h-6zM305 2466h7v6h-7zM337 2485h7v7h-7zM356 2485h7v7h-7zM356 2498h7v6h-7z" fill="#f07837" shape-rendering="crispEdges"/>
<path d="M414 2184h7v7h-7zM446 2223h7v6h-7zM113 2389h7v7h-7zM113 2402h7v6h-7zM94 2428h6v6h-6zM88 2440h6v7h-6zM100 2440h7v7h-7z" fill="#f5dc87" shape-rendering="crispEdges"/>
<path d="M132 2191h7v6h-7zM145 2204h7v6h-7zM222 2280h6v7h-6zM356 2415h7v6h-7zM414 2447h7v6h-7zM408 2466h6v6h-6zM440 2472h6v7h-6z" fill="#690a19" shape-rendering="crispEdges"/>
<path d="M139 2191h6v6h-6zM184 2236h6v6h-6zM209 2248h7v7h-7zM440 2479h6v6h-6z" fill="#46050f" shape-rendering="crispEdges"/>
<path d="M401 2191h7v6h-7zM427 2216h6v7h-6zM440 2216h6v7h-6z" fill="#f5dc7d" shape-rendering="crispEdges"/>
<path d="M209 2197h7v7h-7zM216 2197h6v7h-6zM216 2204h6v6h-6zM228 2204h7v6h-7zM305 2216h7v7h-7zM126 2229h6v7h-6zM299 2236h6v6h-6zM260 2248h7v7h-7zM145 2261h7v7h-7zM139 2268h6v6h-6zM171 2300h6v6h-6zM171 2306h6v6h-6zM350 2325h6v7h-6zM376 2338h6v6h-6zM356 2344h7v7h-7zM196 2357h7v7h-7zM196 2383h7v6h-7zM209 2383h7v6h-7zM196 2396h7v6h-7zM228 2396h7v6h-7zM222 2402h6v6h-6zM222 2408h6v7h-6zM273 2408h7v7h-7zM305 2415h7v6h-7zM273 2428h7v6h-7zM324 2428h7v6h-7zM324 2440h7v7h-7zM267 2447h6v6h-6zM350 2466h6v6h-6z" fill="#eb5a32" shape-rendering="crispEdges"/>
<path d="M100 2204h7v6h-7zM228 2216h7v7h-7zM280 2255h6v6h-6zM344 2287h6v6h-6zM196 2332h7v6h-7zM190 2357h6v7h-6zM363 2357h6v7h-6zM395 2389h6v7h-6zM446 2415h7v6h-7zM356 2466h7v6h-7z" fill="#e6412d" shape-rendering="crispEdges"/>
<path d="M164 2204h7v6h-7zM203 2261h6v7h-6zM248 2280h6v7h-6zM273 2312h7v7h-7zM331 2364h6v6h-6zM337 2370h7v6h-7zM350 2383h6v6h-6zM376 2415h6v6h-6zM433 2466h7v6h-7zM453 2492h6v6h-6zM459 2492h6v6h-6z" fill="#4b0514" shape-rendering="crispEdges"/>
<path d="M241 2204h7v6h-7zM267 2216h6v7h-6zM280 2223h6v6h-6zM107 2236h6v6h-6zM120 2255h6v6h-6zM171 2280h6v7h-6zM113 2293h7v7h-7zM120 2293h6v7h-6zM356 2300h7v6h-7zM132 2306h7v6h-7zM177 2370h7v6h-7zM408 2370h6v6h-6zM421 2383h6v6h-6zM196 2389h7v7h-7zM190 2408h6v7h-6zM299 2421h6v7h-6zM331 2453h6v7h-6zM344 2492h6v6h-6z" fill="#f06937" shape-rendering="crispEdges"/>
<path d="M235 2210h6v6h-6zM94 2223h6v6h-6zM100 2223h7v6h-7zM241 2223h7v6h-7zM260 2223h7v6h-7zM81 2242h7v6h-7zM94 2248h6v7h-6zM145 2255h7v6h-7zM350 2300h6v6h-6zM139 2306h6v6h-6zM382 2357h7v7h-7zM184 2376h6v7h-6zM401 2389h7v7h-7zM184 2396h6v6h-6zM203 2396h6v6h-6zM228 2402h7v6h-7zM312 2421h6v7h-6zM350 2440h6v7h-6zM312 2453h6v7h-6zM337 2453h7v7h-7zM350 2453h6v7h-6zM337 2466h7v6h-7zM312 2472h6v7h-6z" fill="#f06432" shape-rendering="crispEdges"/>
<path d="M158 2216h6v7h-6zM190 2242h6v6h-6zM267 2325h6v7h-6zM292 2332h7v6h-7zM318 2351h6v6h-6zM324 2383h7v6h-7zM376 2408h6v7h-6zM401 2460h7v6h-7zM453 2485h6v7h-6zM433 2492h7v6h-7z" fill="#550514" shape-rendering="crispEdges"/>
<path d="M107 2229h6v7h-6zM132 2236h7v6h-7zM254 2236h6v6h-6zM248 2242h6v6h-6zM158 2268h6v6h-6zM164 2274h7v6h-7zM337 2280h7v7h-7zM158 2300h6v6h-6zM363 2344h6v7h-6zM427 2370h6v6h-6zM203 2389h6v7h-6zM299 2415h6v6h-6z" fill="#eb5532" shape-rendering="crispEdges"/>
<path d="M171 2229h6v7h-6zM209 2242h7v6h-7zM273 2306h7v6h-7zM280 2338h6v6h-6zM446 2498h7v6h-7zM446 2504h7v7h-7z" fill="#500514" shape-rendering="crispEdges"/>
<path d="M248 2229h6v7h-6zM248 2248h6v7h-6zM273 2248h7v7h-7zM132 2261h7v7h-7zM152 2268h6v6h-6zM164 2268h7v6h-7zM164 2280h7v7h-7zM356 2325h7v7h-7zM382 2338h7v6h-7zM177 2357h7v7h-7zM395 2376h6v7h-6zM414 2376h7v7h-7zM408 2383h6v6h-6zM427 2383h6v6h-6zM190 2389h6v7h-6zM280 2415h6v6h-6zM318 2428h6v6h-6zM331 2440h6v7h-6zM312 2447h6v6h-6zM331 2447h6v6h-6zM356 2479h7v6h-7z" fill="#f05f32" shape-rendering="crispEdges"/>
<path d="M184 2248h6v7h-6zM190 2248h6v7h-6zM235 2300h6v6h-6zM337 2396h7v6h-7z" fill="#7d0f1e" shape-rendering="crispEdges"/>
<path d="M196 2268h7v6h-7zM324 2389h7v7h-7zM414 2479h7v6h-7z" fill="#960f28" shape-rendering="crispEdges"/>
<path d="M260 2268h7v6h-7zM209 2274h7v6h-7zM254 2325h6v7h-6z" fill="#a51928" shape-rendering="crispEdges"/>
<path d="M228 2287h7v6h-7zM427 2460h6v6h-6z" fill="#5a0514" shape-rendering="crispEdges"/>
<path d="M260 2319h7v6h-7zM299 2338h6v6h-6zM331 2370h6v6h-6z" fill="#37000f" shape-rendering="crispEdges"/>
<path d="M292 2319h7v6h-7z" fill="#910f23" shape-rendering="crispEdges"/>
<path d="M292 2325h7v7h-7zM324 2364h7v6h-7z" fill="#5f0519" shape-rendering="crispEdges"/>
<path d="M273 2332h7v6h-7z" fill="#690a1e" shape-rendering="crispEdges"/>
<path d="M331 2332h6v6h-6z" fill="#dc2323" shape-rendering="crispEdges"/>
<path d="M88 2447h6v6h-6zM94 2466h6v6h-6zM81 2492h7v6h-7zM94 2504h6v7h-6z" fill="#faf5be" shape-rendering="crispEdges"/>
<path d="M408 2460h6v6h-6zM421 2472h6v7h-6zM440 2492h6v6h-6z" fill="#23000a" shape-rendering="crispEdges"/>
<path d="M107 2504h6v7h-6zM120 2504h6v7h-6z" fill="#faf5c3" shape-rendering="crispEdges"/>
<rect x="81.3" y="2126.8" width="384" height="384" fill="none" stroke="#000" stroke-width="2"/>
<line x1="75.8" y1="2130" x2="81.3" y2="2130" stroke="#000" stroke-width="1.8"/>
<line x1="84.5" y1="2510.8" x2="84.5" y2="2516.3" stroke="#000" stroke-width="1.8"/>
<line x1="75.8" y1="2258" x2="81.3" y2="2258" stroke="#000" stroke-width="1.8"/>
<line x1="212.5" y1="2510.8" x2="212.5" y2="2516.3" stroke="#000" stroke-width="1.8"/>
<line x1="75.8" y1="2386" x2="81.3" y2="2386" stroke="#000" stroke-width="1.8"/>
<line x1="340.5" y1="2510.8" x2="340.5" y2="2516.3" stroke="#000" stroke-width="1.8"/>
<line x1="75.8" y1="2507.6" x2="81.3" y2="2507.6" stroke="#000" stroke-width="1.8"/>
<line x1="462.1" y1="2510.8" x2="462.1" y2="2516.3" stroke="#000" stroke-width="1.8"/>
<text x="13.9" y="2256.6" style="font-size:24.6px">TAD</text>
<text x="13.9" y="2286.3" style="font-size:24.6px">start</text>
<text x="15.8" y="2382.3" style="font-size:24.6px">TAD</text>
<text x="15.8" y="2409.7" style="font-size:24.6px">end</text>
<text x="205" y="2544.7" text-anchor="middle" style="font-size:24.6px">TAD start</text>
<text x="332" y="2544.7" text-anchor="middle" style="font-size:24.6px">TAD end</text>
<defs><linearGradient id="cb" x1="0" y1="1" x2="0" y2="0"><stop offset="0" stop-color="rgb(255,255,232)"/><stop offset="0.12" stop-color="rgb(247,241,172)"/><stop offset="0.25" stop-color="rgb(241,212,112)"/><stop offset="0.38" stop-color="rgb(237,163,74)"/><stop offset="0.5" stop-color="rgb(240,104,52)"/><stop offset="0.62" stop-color="rgb(226,40,36)"/><stop offset="0.78" stop-color="rgb(152,18,40)"/><stop offset="0.9" stop-color="rgb(80,5,20)"/><stop offset="1" stop-color="rgb(30,0,6)"/></linearGradient></defs>
<rect x="476.7" y="2398.8" width="29.5" height="110.3" fill="url(#cb)" stroke="#000" stroke-width="1.6"/>
<line x1="506.2" y1="2398.8" x2="510.5" y2="2398.8" stroke="#000" stroke-width="1.6"/>
<line x1="506.2" y1="2509.1" x2="510.5" y2="2509.1" stroke="#000" stroke-width="1.6"/>
<text x="513.5" y="2407.5" style="font-size:24.6px">6</text>
<text x="513.5" y="2518.3" style="font-size:24.6px">2</text>
<text x="494" y="2386.5" style="font-size:24.6px" transform="rotate(-90 494 2386.5)">Interaction</text>
<text x="518.5" y="2386.5" style="font-size:24.6px" transform="rotate(-90 518.5 2386.5)">strength</text>
<text x="527" y="2110" style="font-size:34px;font-weight:bold">o</text>
<path d="M738.2 2498.9H742.8V2492.06H738.2zM747 2498.9H751.6V2490.69H747zM755.8 2498.9H760.4V2493.05H755.8zM760.2 2498.9H764.8V2490.32H760.2zM764.6 2498.9H769.2V2490.32H764.6zM769 2498.9H773.6V2481.86H769zM773.4 2498.9H778V2485.47H773.4zM777.8 2498.9H782.4V2474.03H777.8zM782.2 2498.9H786.8V2477.01H782.2zM786.6 2498.9H791.2V2477.01H786.6zM791 2498.9H795.6V2469.18H791zM795.4 2498.9H800V2464.45H795.4zM799.8 2498.9H804.4V2461.34H799.8zM804.2 2498.9H808.8V2439.58H804.2zM808.6 2498.9H813.2V2428.14H808.6zM813 2498.9H817.6V2414.33H813zM817.4 2498.9H822V2413.09H817.4zM821.8 2498.9H826.4V2388.34H821.8zM826.2 2498.9H830.8V2370.3H826.2zM830.6 2498.9H835.2V2349.78H830.6zM835 2498.9H839.6V2329.89H835zM839.4 2498.9H844V2306.26H839.4zM843.8 2498.9H848.4V2287.6H843.8zM848.2 2498.9H852.8V2281.63H848.2zM852.6 2498.9H857.2V2285.11H852.6zM857 2498.9H861.6V2264.1H857zM861.4 2498.9H866V2283.37H861.4zM865.8 2498.9H870.4V2292.45H865.8zM870.2 2498.9H874.8V2318.94H870.2zM874.6 2498.9H879.2V2328.64H874.6zM879 2498.9H883.6V2337.72H879zM883.4 2498.9H888V2359.98H883.4zM887.8 2498.9H892.4V2383.49H887.8zM892.2 2498.9H896.8V2398.66H892.2zM896.6 2498.9H901.2V2414.33H896.6zM901 2498.9H905.6V2414.33H901zM905.4 2498.9H910V2451.27H905.4zM909.8 2498.9H914.4V2460.72H909.8zM914.2 2498.9H918.8V2468.55H914.2zM918.6 2498.9H923.2V2481.99H918.6zM923 2498.9H927.6V2477.14H923zM927.4 2498.9H932V2486.96H927.4zM931.8 2498.9H936.4V2492.31H931.8zM936.2 2498.9H940.8V2490.19H936.2zM940.6 2498.9H945.2V2493.43H940.6zM945 2498.9H949.6V2495.17H945zM949.4 2498.9H954V2496.41H949.4zM953.8 2498.9H958.4V2497.66H953.8z" fill="#d8d8d8" stroke="none" stroke-width="1"/>
<path d="M776.4 2498.9 L776.4 2497.66 L780.8 2497.66 L780.8 2495.67 L785.2 2495.67 L785.2 2497.66 L789.6 2497.66 L789.6 2494.55 L794 2494.55 L794 2493.05 L798.4 2493.05 L798.4 2494.05 L802.8 2494.05 L802.8 2494.05 L807.2 2494.05 L807.2 2484.97 L811.6 2484.97 L811.6 2487.96 L816 2487.96 L816 2475.27 L820.4 2475.27 L820.4 2456.62 L824.8 2456.62 L824.8 2443.93 L829.2 2443.93 L829.2 2422.04 L833.6 2422.04 L833.6 2427.02 L838 2427.02 L838 2391.94 L842.4 2391.94 L842.4 2368.56 L846.8 2368.56 L846.8 2345.56 L851.2 2345.56 L851.2 2319.44 L855.6 2319.44 L855.6 2311.23 L860 2311.23 L860 2289.47 L864.4 2289.47 L864.4 2253.9 L868.8 2253.9 L868.8 2278.65 L873.2 2278.65 L873.2 2256.39 L877.6 2256.39 L877.6 2256.88 L882 2256.88 L882 2296.18 L886.4 2296.18 L886.4 2311.23 L890.8 2311.23 L890.8 2292.45 L895.2 2292.45 L895.2 2343.07 L899.6 2343.07 L899.6 2343.07 L904 2343.07 L904 2370.3 L908.4 2370.3 L908.4 2401.65 L912.8 2401.65 L912.8 2388.96 L917.2 2388.96 L917.2 2420.55 L921.6 2420.55 L921.6 2428.76 L926 2428.76 L926 2445.55 L930.4 2445.55 L930.4 2459.1 L934.8 2459.1 L934.8 2478.01 L939.2 2478.01 L939.2 2467.68 L943.6 2467.68 L943.6 2481.61 L948 2481.61 L948 2476.76 L952.4 2476.76 L952.4 2482.48 L956.8 2482.48 L956.8 2493.93 L961.2 2493.93 L961.2 2492.31 L965.6 2492.31 L965.6 2494.8 L970 2494.8 L970 2496.16 L974.4 2496.16 L974.4 2497.41 L978.8 2497.41 L978.8 2497.41 L983.2 2497.41 L983.2 2498.28 L987.6 2498.28 L987.6 2497.41 L992 2497.41 L992 2498.28 L996.4 2498.28 L996.4 2496.04 L1000.8 2496.04 L1000.8 2498.9" fill="none" stroke="#000" stroke-width="2.2" stroke-linejoin="miter"/>
<rect x="663.8" y="2125.8" width="380.1" height="373.1" fill="none" stroke="#000" stroke-width="2"/>
<line x1="657.8" y1="2498.9" x2="663.8" y2="2498.9" stroke="#000" stroke-width="2"/>
<text x="654.8" y="2504.9" text-anchor="end">0</text>
<line x1="657.8" y1="2436.72" x2="663.8" y2="2436.72" stroke="#000" stroke-width="2"/>
<text x="654.8" y="2442.72" text-anchor="end">50</text>
<line x1="657.8" y1="2374.53" x2="663.8" y2="2374.53" stroke="#000" stroke-width="2"/>
<text x="654.8" y="2380.53" text-anchor="end">100</text>
<line x1="657.8" y1="2312.35" x2="663.8" y2="2312.35" stroke="#000" stroke-width="2"/>
<text x="654.8" y="2318.35" text-anchor="end">150</text>
<line x1="657.8" y1="2250.17" x2="663.8" y2="2250.17" stroke="#000" stroke-width="2"/>
<text x="654.8" y="2256.17" text-anchor="end">200</text>
<line x1="657.8" y1="2187.98" x2="663.8" y2="2187.98" stroke="#000" stroke-width="2"/>
<text x="654.8" y="2193.98" text-anchor="end">250</text>
<line x1="657.8" y1="2125.8" x2="663.8" y2="2125.8" stroke="#000" stroke-width="2"/>
<text x="654.8" y="2131.8" text-anchor="end">300</text>
<line x1="681.2" y1="2498.9" x2="681.2" y2="2504.9" stroke="#000" stroke-width="2"/>
<text x="681.2" y="2526.4" text-anchor="middle">-4</text>
<line x1="768.55" y1="2498.9" x2="768.55" y2="2504.9" stroke="#000" stroke-width="2"/>
<text x="768.55" y="2526.4" text-anchor="middle">-2</text>
<line x1="855.9" y1="2498.9" x2="855.9" y2="2504.9" stroke="#000" stroke-width="2"/>
<text x="855.9" y="2526.4" text-anchor="middle">0</text>
<line x1="943.25" y1="2498.9" x2="943.25" y2="2504.9" stroke="#000" stroke-width="2"/>
<text x="943.25" y="2526.4" text-anchor="middle">2</text>
<line x1="1030.6" y1="2498.9" x2="1030.6" y2="2504.9" stroke="#000" stroke-width="2"/>
<text x="1030.6" y="2526.4" text-anchor="middle">4</text>
<rect x="870.3" y="2134.4" width="164.4" height="54.7" rx="4" fill="#fff" fill-opacity="0.85" stroke="#d6d6d6" stroke-width="1.5"/>
<rect x="879" y="2144.8" width="34.6" height="12.7" fill="#fff" stroke="#000" stroke-width="1.8"/>
<rect x="879" y="2169.5" width="34.6" height="11.7" fill="#d8d8d8"/>
<text x="926.3" y="2158">Actual</text>
<text x="926.3" y="2182">Shuffled</text>
<polyline points="846.3,2234.5 846.3,2231.1 879.5,2231.1 879.5,2234.5" fill="none" stroke="#000" stroke-width="2"/>
<text x="863" y="2237" text-anchor="middle" style="font-size:24px">***</text>
<text x="598.5" y="2325" text-anchor="middle" transform="rotate(-90 598.5 2325)">No. of coexpressed gene pairs</text>
<text x="836" y="2554" text-anchor="middle">log<tspan dy="6" style="font-size:17px">2</tspan><tspan dy="-6">(OR) of coexpression in clusters</tspan></text>
<text x="1082" y="2110.6" style="font-size:34px;font-weight:bold">p</text>
<path d="M1220.2 2498H1224.78V2494.22H1220.2zM1254.7 2498H1259.28V2488.55H1254.7zM1259.9 2498H1268.86V2494.22H1259.9zM1272.2 2498H1276.78V2492.02H1272.2zM1281.4 2498H1285.98V2494.85H1281.4zM1285.2 2498H1289.78V2476.28H1285.2zM1289.6 2498H1294.18V2491.7H1289.6zM1294 2498H1302.96V2481.94H1294zM1302.6 2498H1307.18V2488.87H1302.6zM1307 2498H1315.96V2466.52H1307zM1315.7 2498H1320.28V2447.94H1315.7zM1320.1 2498H1324.68V2435.35H1320.1zM1324.5 2498H1329.08V2447.94H1324.5zM1328.9 2498H1333.48V2432.2H1328.9zM1333.3 2498H1337.88V2435.35H1333.3zM1337.6 2498H1342.18V2406.7H1337.6zM1342 2498H1346.58V2353.18H1342zM1346.4 2498H1350.98V2359.47H1346.4zM1350.8 2498H1355.38V2372.07H1350.8zM1355.2 2498H1359.78V2350.03H1355.2zM1359.6 2498H1364.18V2299.97H1359.6zM1363.9 2498H1368.48V2355.7H1363.9zM1368.3 2498H1372.88V2286.75H1368.3zM1372.7 2498H1377.28V2284.23H1372.7zM1377.1 2498H1381.68V2290.52H1377.1zM1381.5 2498H1386.08V2290.52H1381.5zM1385.2 2498H1389.78V2343.73H1385.2zM1389.6 2498H1394.18V2328.93H1389.6zM1394 2498H1398.58V2359.47H1394zM1398.4 2498H1402.98V2403.55H1398.4zM1402.8 2498H1407.38V2381.51H1402.8zM1407.6 2498H1412.18V2406.7H1407.6zM1412.2 2498H1416.78V2428.42H1412.2zM1416.5 2498H1421.08V2418.98H1416.5zM1420.9 2498H1425.48V2466.52H1420.9zM1425.3 2498H1429.88V2473.13H1425.3zM1429.7 2498H1434.28V2473.13H1429.7zM1434.1 2498H1438.68V2488.55H1434.1zM1438.5 2498H1443.08V2479.11H1438.5zM1442.8 2498H1456.14V2492.33H1442.8zM1468.8 2498H1473.38V2492.96H1468.8z" fill="#d8d8d8" stroke="none" stroke-width="1"/>
<path d="M1293.2 2498 L1293.2 2494.85 L1297.58 2494.85 L1297.58 2498 L1301.96 2498 L1301.96 2498 L1306.34 2498 L1306.34 2494.85 L1310.72 2494.85 L1310.72 2498 L1315.1 2498 L1315.1 2494.85 L1319.48 2494.85 L1319.48 2491.7 L1323.86 2491.7 L1323.86 2481.94 L1328.24 2481.94 L1328.24 2481.94 L1332.62 2481.94 L1332.62 2478.8 L1337 2478.8 L1337 2469.35 L1341.38 2469.35 L1341.38 2450.46 L1345.76 2450.46 L1345.76 2425.27 L1350.14 2425.27 L1350.14 2415.83 L1354.52 2415.83 L1354.52 2390.01 L1358.9 2390.01 L1358.9 2355.7 L1363.28 2355.7 L1363.28 2355.7 L1367.66 2355.7 L1367.66 2336.18 L1372.04 2336.18 L1372.04 2314.45 L1376.42 2314.45 L1376.42 2311.3 L1380.8 2311.3 L1380.8 2295.56 L1385.18 2295.56 L1385.18 2326.73 L1389.56 2326.73 L1389.56 2241.41 L1393.94 2241.41 L1393.94 2323.58 L1398.32 2323.58 L1398.32 2323.58 L1402.7 2323.58 L1402.7 2343.1 L1407.08 2343.1 L1407.08 2314.45 L1411.46 2314.45 L1411.46 2333.03 L1415.84 2333.03 L1415.84 2365.14 L1420.22 2365.14 L1420.22 2390.01 L1424.6 2390.01 L1424.6 2430.94 L1428.98 2430.94 L1428.98 2408.9 L1433.36 2408.9 L1433.36 2446.68 L1437.74 2446.68 L1437.74 2427.79 L1442.12 2427.79 L1442.12 2453.92 L1446.5 2453.92 L1446.5 2466.2 L1450.88 2466.2 L1450.88 2475.65 L1455.26 2475.65 L1455.26 2478.8 L1459.64 2478.8 L1459.64 2491.7 L1464.02 2491.7 L1464.02 2485.09 L1468.4 2485.09 L1468.4 2488.24 L1472.78 2488.24 L1472.78 2488.24 L1477.16 2488.24 L1477.16 2488.24 L1481.54 2488.24 L1481.54 2498 L1485.92 2498 L1485.92 2498 L1490.3 2498 L1490.3 2494.54 L1494.68 2494.54 L1494.68 2494.54 L1499.06 2494.54 L1499.06 2498 L1503.44 2498 L1503.44 2494.54 L1507.82 2494.54 L1507.82 2498" fill="none" stroke="#000" stroke-width="2.2"/>
<rect x="1180.1" y="2120.2" width="380.4" height="377.8" fill="none" stroke="#000" stroke-width="2"/>
<line x1="1174.1" y1="2498" x2="1180.1" y2="2498" stroke="#000" stroke-width="2"/>
<text x="1171.1" y="2504" text-anchor="end">0</text>
<line x1="1174.1" y1="2435.03" x2="1180.1" y2="2435.03" stroke="#000" stroke-width="2"/>
<text x="1171.1" y="2441.03" text-anchor="end">20</text>
<line x1="1174.1" y1="2372.07" x2="1180.1" y2="2372.07" stroke="#000" stroke-width="2"/>
<text x="1171.1" y="2378.07" text-anchor="end">40</text>
<line x1="1174.1" y1="2309.1" x2="1180.1" y2="2309.1" stroke="#000" stroke-width="2"/>
<text x="1171.1" y="2315.1" text-anchor="end">60</text>
<line x1="1174.1" y1="2246.13" x2="1180.1" y2="2246.13" stroke="#000" stroke-width="2"/>
<text x="1171.1" y="2252.13" text-anchor="end">80</text>
<line x1="1174.1" y1="2183.17" x2="1180.1" y2="2183.17" stroke="#000" stroke-width="2"/>
<text x="1171.1" y="2189.17" text-anchor="end">100</text>
<line x1="1174.1" y1="2120.2" x2="1180.1" y2="2120.2" stroke="#000" stroke-width="2"/>
<text x="1171.1" y="2126.2" text-anchor="end">120</text>
<line x1="1197.5" y1="2498" x2="1197.5" y2="2504" stroke="#000" stroke-width="2"/>
<text x="1197.5" y="2525.5" text-anchor="middle">-4</text>
<line x1="1284.67" y1="2498" x2="1284.67" y2="2504" stroke="#000" stroke-width="2"/>
<text x="1284.67" y="2525.5" text-anchor="middle">-2</text>
<line x1="1371.85" y1="2498" x2="1371.85" y2="2504" stroke="#000" stroke-width="2"/>
<text x="1371.85" y="2525.5" text-anchor="middle">0</text>
<line x1="1459.02" y1="2498" x2="1459.02" y2="2504" stroke="#000" stroke-width="2"/>
<text x="1459.02" y="2525.5" text-anchor="middle">2</text>
<line x1="1546.2" y1="2498" x2="1546.2" y2="2504" stroke="#000" stroke-width="2"/>
<text x="1546.2" y="2525.5" text-anchor="middle">4</text>
<rect x="1375.5" y="2129" width="176.1" height="53.1" rx="4" fill="#fff" fill-opacity="0.85" stroke="#d6d6d6" stroke-width="1.5"/>
<rect x="1393.5" y="2138.5" width="34.8" height="12.6" fill="#fff" stroke="#000" stroke-width="1.8"/>
<rect x="1393.5" y="2160.6" width="34.8" height="11.1" fill="#d8d8d8"/>
<text x="1442.5" y="2152.7">Actual</text>
<text x="1442.5" y="2176.4">Shuffled</text>
<polyline points="1367.6,2224.7 1367.6,2221.3 1401.4,2221.3 1401.4,2224.7" fill="none" stroke="#000" stroke-width="2"/>
<text x="1385.6" y="2227.5" text-anchor="middle" style="font-size:24px">***</text>
<text x="1118" y="2323.4" text-anchor="middle" transform="rotate(-90 1118 2323.4)">No. of coexpressed gene pairs</text>
<text x="1347.7" y="2553" text-anchor="middle">log<tspan dy="6" style="font-size:17px">2</tspan><tspan dy="-6">(OR) of coexpression in clusters</tspan></text>
</svg>
</body></html>
